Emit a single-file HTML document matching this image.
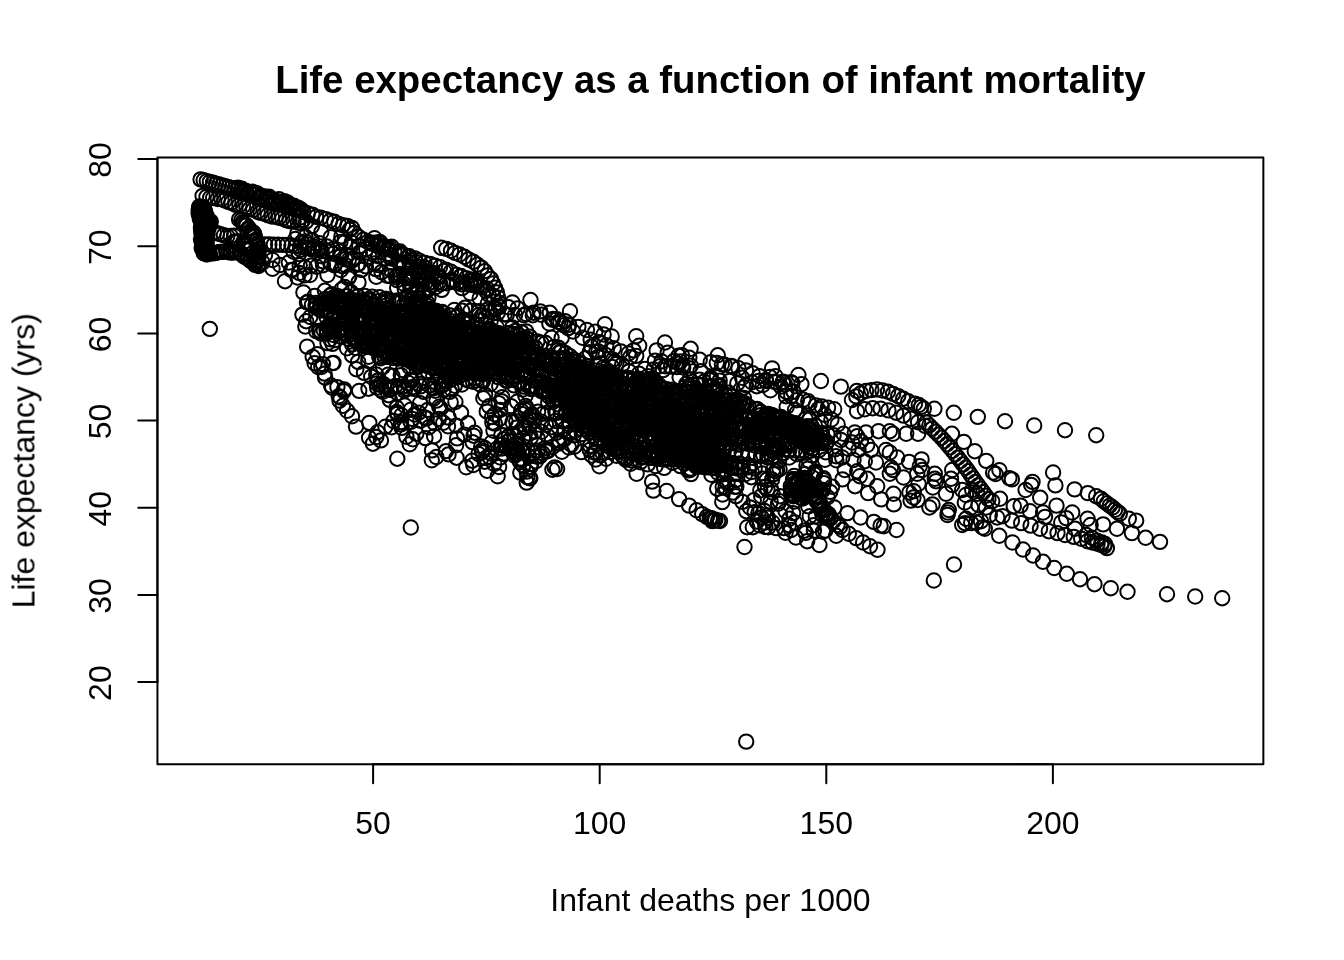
<!DOCTYPE html>
<html><head><meta charset="utf-8"><title>Life expectancy as a function of infant mortality</title>
<style>
html,body{margin:0;padding:0;background:#fff;}
body{width:1344px;height:960px;overflow:hidden;}
svg{display:block;}
text{font-family:"Liberation Sans",sans-serif;fill:#000;}
.ax{font-size:32px;}
.ti{font-size:38.4px;font-weight:bold;}
.ln{stroke:#000;stroke-width:2;fill:none;stroke-linecap:round;stroke-linejoin:round;}
.p circle{r:7.2px;}
</style></head>
<body>
<svg width="1344" height="960" viewBox="0 0 1344 960">
<rect x="0" y="0" width="1344" height="960" fill="#fff"/>
<g class="p" fill="none" stroke="#000" stroke-width="2">
<circle cx="209.8" cy="328.9" r="7.2"/><circle cx="410.8" cy="527.5" r="7.2"/><circle cx="744.5" cy="547.0" r="7.2"/><circle cx="1005.0" cy="421.2" r="7.2"/><circle cx="1034.2" cy="425.5" r="7.2"/><circle cx="1065.0" cy="430.2" r="7.2"/>
<circle cx="1096.2" cy="435.2" r="7.2"/><circle cx="1167.0" cy="594.2" r="7.2"/><circle cx="1195.2" cy="596.5" r="7.2"/><circle cx="1222.2" cy="598.2" r="7.2"/><circle cx="999.2" cy="535.8" r="7.2"/><circle cx="1012.5" cy="542.5" r="7.2"/>
<circle cx="1023.0" cy="549.5" r="7.2"/><circle cx="1033.0" cy="555.5" r="7.2"/><circle cx="1043.0" cy="561.8" r="7.2"/><circle cx="1054.2" cy="568.0" r="7.2"/><circle cx="1066.8" cy="573.8" r="7.2"/><circle cx="1080.0" cy="579.2" r="7.2"/>
<circle cx="1094.5" cy="584.2" r="7.2"/><circle cx="1110.8" cy="588.2" r="7.2"/><circle cx="1127.5" cy="591.8" r="7.2"/><circle cx="954.0" cy="564.5" r="7.2"/><circle cx="933.8" cy="580.5" r="7.2"/><circle cx="1053.1" cy="472.5" r="7.2"/>
<circle cx="1055.4" cy="485.4" r="7.2"/><circle cx="1074.6" cy="489.4" r="7.2"/><circle cx="1087.8" cy="493.1" r="7.2"/><circle cx="1096.2" cy="496.2" r="7.2"/><circle cx="1101.0" cy="498.8" r="7.2"/><circle cx="1103.8" cy="501.2" r="7.2"/>
<circle cx="1106.9" cy="503.5" r="7.2"/><circle cx="1109.8" cy="505.6" r="7.2"/><circle cx="1112.5" cy="507.5" r="7.2"/><circle cx="1115.0" cy="509.8" r="7.2"/><circle cx="1117.5" cy="511.9" r="7.2"/><circle cx="1119.8" cy="513.8" r="7.2"/>
<circle cx="1128.8" cy="518.8" r="7.2"/><circle cx="1136.2" cy="520.6" r="7.2"/><circle cx="1103.1" cy="524.4" r="7.2"/><circle cx="1116.9" cy="528.8" r="7.2"/><circle cx="1131.9" cy="533.1" r="7.2"/><circle cx="1145.6" cy="537.8" r="7.2"/>
<circle cx="1160.0" cy="541.9" r="7.2"/><circle cx="1011.9" cy="520.6" r="7.2"/><circle cx="1021.2" cy="523.1" r="7.2"/><circle cx="1030.6" cy="525.6" r="7.2"/><circle cx="1040.0" cy="528.8" r="7.2"/><circle cx="1048.8" cy="531.2" r="7.2"/>
<circle cx="1057.5" cy="533.1" r="7.2"/><circle cx="1065.0" cy="535.0" r="7.2"/><circle cx="1073.8" cy="536.9" r="7.2"/><circle cx="1081.2" cy="538.8" r="7.2"/><circle cx="1087.5" cy="541.2" r="7.2"/><circle cx="1092.5" cy="542.5" r="7.2"/>
<circle cx="1097.5" cy="543.8" r="7.2"/><circle cx="1101.2" cy="545.0" r="7.2"/><circle cx="1104.4" cy="546.2" r="7.2"/><circle cx="1106.9" cy="548.1" r="7.2"/><circle cx="1086.2" cy="535.0" r="7.2"/><circle cx="1091.9" cy="537.8" r="7.2"/>
<circle cx="1096.9" cy="540.6" r="7.2"/><circle cx="1101.9" cy="542.5" r="7.2"/><circle cx="1105.0" cy="544.0" r="7.2"/><circle cx="1011.9" cy="479.4" r="7.2"/><circle cx="1009.4" cy="478.1" r="7.2"/><circle cx="1032.5" cy="481.9" r="7.2"/>
<circle cx="1025.6" cy="490.0" r="7.2"/><circle cx="1040.2" cy="497.8" r="7.2"/><circle cx="1056.5" cy="505.6" r="7.2"/><circle cx="1072.2" cy="512.5" r="7.2"/><circle cx="1066.2" cy="518.1" r="7.2"/><circle cx="1087.5" cy="518.8" r="7.2"/>
<circle cx="1090.6" cy="525.0" r="7.2"/><circle cx="1013.8" cy="506.2" r="7.2"/><circle cx="1020.6" cy="505.6" r="7.2"/><circle cx="1030.0" cy="511.2" r="7.2"/><circle cx="1043.1" cy="512.5" r="7.2"/><circle cx="1045.0" cy="516.9" r="7.2"/>
<circle cx="1061.2" cy="522.5" r="7.2"/><circle cx="1075.0" cy="528.8" r="7.2"/><circle cx="1000.0" cy="498.8" r="7.2"/><circle cx="1002.5" cy="516.2" r="7.2"/><circle cx="847.5" cy="513.1" r="7.2"/><circle cx="860.6" cy="517.5" r="7.2"/>
<circle cx="873.8" cy="521.9" r="7.2"/><circle cx="880.6" cy="525.6" r="7.2"/><circle cx="883.8" cy="526.2" r="7.2"/><circle cx="896.5" cy="530.0" r="7.2"/><circle cx="840.0" cy="526.9" r="7.2"/><circle cx="842.5" cy="530.0" r="7.2"/>
<circle cx="848.8" cy="533.8" r="7.2"/><circle cx="856.2" cy="538.1" r="7.2"/><circle cx="863.1" cy="542.5" r="7.2"/><circle cx="870.0" cy="546.2" r="7.2"/><circle cx="877.5" cy="549.8" r="7.2"/><circle cx="842.5" cy="479.4" r="7.2"/>
<circle cx="855.0" cy="486.2" r="7.2"/><circle cx="868.1" cy="493.1" r="7.2"/><circle cx="881.2" cy="499.4" r="7.2"/><circle cx="893.8" cy="504.4" r="7.2"/><circle cx="910.6" cy="500.6" r="7.2"/><circle cx="917.5" cy="500.0" r="7.2"/>
<circle cx="909.4" cy="492.5" r="7.2"/><circle cx="913.8" cy="491.2" r="7.2"/><circle cx="929.4" cy="507.5" r="7.2"/><circle cx="932.5" cy="504.4" r="7.2"/><circle cx="947.5" cy="515.0" r="7.2"/><circle cx="948.8" cy="510.0" r="7.2"/>
<circle cx="965.0" cy="523.1" r="7.2"/><circle cx="971.2" cy="523.1" r="7.2"/><circle cx="976.2" cy="522.5" r="7.2"/><circle cx="982.5" cy="527.5" r="7.2"/><circle cx="934.4" cy="408.8" r="7.2"/><circle cx="953.8" cy="412.8" r="7.2"/>
<circle cx="977.8" cy="416.9" r="7.2"/><circle cx="951.9" cy="433.8" r="7.2"/><circle cx="963.8" cy="441.9" r="7.2"/><circle cx="974.8" cy="451.2" r="7.2"/><circle cx="986.2" cy="460.9" r="7.2"/><circle cx="993.1" cy="472.5" r="7.2"/>
<circle cx="995.6" cy="474.0" r="7.2"/><circle cx="999.4" cy="470.2" r="7.2"/><circle cx="1031.2" cy="485.0" r="7.2"/><circle cx="926.2" cy="422.5" r="7.2"/><circle cx="929.3" cy="425.5" r="7.2"/><circle cx="932.3" cy="428.6" r="7.2"/>
<circle cx="935.4" cy="431.6" r="7.2"/><circle cx="938.4" cy="434.7" r="7.2"/><circle cx="941.4" cy="437.7" r="7.2"/><circle cx="944.3" cy="441.0" r="7.2"/><circle cx="947.1" cy="444.2" r="7.2"/><circle cx="949.9" cy="447.4" r="7.2"/>
<circle cx="952.6" cy="450.8" r="7.2"/><circle cx="955.2" cy="454.2" r="7.2"/><circle cx="957.9" cy="457.6" r="7.2"/><circle cx="960.5" cy="461.0" r="7.2"/><circle cx="963.1" cy="464.4" r="7.2"/><circle cx="965.8" cy="467.8" r="7.2"/>
<circle cx="968.3" cy="471.2" r="7.2"/><circle cx="970.7" cy="474.8" r="7.2"/><circle cx="973.1" cy="478.4" r="7.2"/><circle cx="975.5" cy="481.9" r="7.2"/><circle cx="978.1" cy="485.4" r="7.2"/><circle cx="980.7" cy="488.8" r="7.2"/>
<circle cx="983.3" cy="492.3" r="7.2"/><circle cx="985.8" cy="495.7" r="7.2"/><circle cx="988.4" cy="499.1" r="7.2"/><circle cx="918.8" cy="405.0" r="7.2"/><circle cx="921.2" cy="406.9" r="7.2"/><circle cx="923.8" cy="408.8" r="7.2"/>
<circle cx="915.0" cy="403.8" r="7.2"/><circle cx="906.2" cy="433.8" r="7.2"/><circle cx="918.1" cy="433.8" r="7.2"/><circle cx="852.0" cy="400.0" r="7.2"/><circle cx="856.3" cy="396.4" r="7.2"/><circle cx="860.8" cy="393.2" r="7.2"/>
<circle cx="866.0" cy="391.0" r="7.2"/><circle cx="871.4" cy="390.1" r="7.2"/><circle cx="877.0" cy="389.5" r="7.2"/><circle cx="882.5" cy="390.5" r="7.2"/><circle cx="888.0" cy="391.7" r="7.2"/><circle cx="893.1" cy="393.9" r="7.2"/>
<circle cx="898.2" cy="396.1" r="7.2"/><circle cx="903.2" cy="398.7" r="7.2"/><circle cx="908.2" cy="401.3" r="7.2"/><circle cx="857.0" cy="411.2" r="7.2"/><circle cx="864.8" cy="409.3" r="7.2"/><circle cx="872.7" cy="408.3" r="7.2"/>
<circle cx="880.6" cy="408.7" r="7.2"/><circle cx="888.4" cy="410.4" r="7.2"/><circle cx="896.1" cy="412.7" r="7.2"/><circle cx="903.5" cy="415.6" r="7.2"/><circle cx="910.9" cy="418.8" r="7.2"/><circle cx="918.1" cy="422.2" r="7.2"/>
<circle cx="925.2" cy="425.9" r="7.2"/><circle cx="878.5" cy="431.2" r="7.2"/><circle cx="889.8" cy="431.2" r="7.2"/><circle cx="892.9" cy="433.8" r="7.2"/><circle cx="843.5" cy="433.8" r="7.2"/><circle cx="854.8" cy="432.5" r="7.2"/>
<circle cx="857.2" cy="436.2" r="7.2"/><circle cx="861.0" cy="441.2" r="7.2"/><circle cx="866.0" cy="432.5" r="7.2"/><circle cx="852.2" cy="442.5" r="7.2"/><circle cx="848.5" cy="448.8" r="7.2"/><circle cx="841.0" cy="440.0" r="7.2"/>
<circle cx="858.5" cy="450.0" r="7.2"/><circle cx="867.2" cy="445.0" r="7.2"/><circle cx="871.0" cy="450.0" r="7.2"/><circle cx="886.0" cy="450.0" r="7.2"/><circle cx="889.8" cy="452.5" r="7.2"/><circle cx="897.2" cy="457.5" r="7.2"/>
<circle cx="909.1" cy="461.9" r="7.2"/><circle cx="921.6" cy="459.4" r="7.2"/><circle cx="919.8" cy="466.2" r="7.2"/><circle cx="922.2" cy="470.0" r="7.2"/><circle cx="891.0" cy="467.5" r="7.2"/><circle cx="892.9" cy="470.0" r="7.2"/>
<circle cx="876.0" cy="462.5" r="7.2"/><circle cx="864.8" cy="461.2" r="7.2"/><circle cx="853.5" cy="460.0" r="7.2"/><circle cx="842.2" cy="457.5" r="7.2"/><circle cx="836.0" cy="456.2" r="7.2"/><circle cx="844.8" cy="470.0" r="7.2"/>
<circle cx="857.2" cy="471.2" r="7.2"/><circle cx="859.8" cy="476.2" r="7.2"/><circle cx="867.2" cy="478.8" r="7.2"/><circle cx="877.2" cy="486.2" r="7.2"/><circle cx="889.8" cy="473.8" r="7.2"/><circle cx="903.5" cy="477.5" r="7.2"/>
<circle cx="917.2" cy="473.8" r="7.2"/><circle cx="918.5" cy="483.8" r="7.2"/><circle cx="934.8" cy="473.8" r="7.2"/><circle cx="934.8" cy="478.8" r="7.2"/><circle cx="936.0" cy="481.2" r="7.2"/><circle cx="932.9" cy="487.5" r="7.2"/>
<circle cx="946.0" cy="493.8" r="7.2"/><circle cx="952.2" cy="470.0" r="7.2"/><circle cx="951.0" cy="478.8" r="7.2"/><circle cx="952.2" cy="485.0" r="7.2"/><circle cx="893.5" cy="493.8" r="7.2"/><circle cx="913.5" cy="497.5" r="7.2"/>
<circle cx="947.9" cy="512.5" r="7.2"/><circle cx="962.2" cy="490.0" r="7.2"/><circle cx="966.0" cy="495.0" r="7.2"/><circle cx="972.2" cy="490.0" r="7.2"/><circle cx="977.2" cy="493.8" r="7.2"/><circle cx="964.8" cy="502.5" r="7.2"/>
<circle cx="971.0" cy="507.5" r="7.2"/><circle cx="978.5" cy="505.0" r="7.2"/><circle cx="986.0" cy="507.5" r="7.2"/><circle cx="992.2" cy="501.2" r="7.2"/><circle cx="966.0" cy="518.8" r="7.2"/><circle cx="981.0" cy="521.2" r="7.2"/>
<circle cx="984.8" cy="528.8" r="7.2"/><circle cx="989.8" cy="515.0" r="7.2"/><circle cx="997.2" cy="517.5" r="7.2"/><circle cx="962.2" cy="525.0" r="7.2"/><circle cx="200.6" cy="179.4" r="7.2"/><circle cx="203.7" cy="180.2" r="7.2"/>
<circle cx="206.8" cy="181.1" r="7.2"/><circle cx="209.9" cy="181.9" r="7.2"/><circle cx="213.0" cy="182.8" r="7.2"/><circle cx="216.0" cy="183.6" r="7.2"/><circle cx="219.1" cy="184.5" r="7.2"/><circle cx="222.2" cy="185.4" r="7.2"/>
<circle cx="225.3" cy="186.2" r="7.2"/><circle cx="228.4" cy="187.1" r="7.2"/><circle cx="231.5" cy="187.9" r="7.2"/><circle cx="234.5" cy="188.8" r="7.2"/><circle cx="237.6" cy="189.6" r="7.2"/><circle cx="240.7" cy="190.5" r="7.2"/>
<circle cx="240.6" cy="190.7" r="7.2"/><circle cx="243.1" cy="191.5" r="7.2"/><circle cx="246.0" cy="190.9" r="7.2"/><circle cx="246.7" cy="193.4" r="7.2"/><circle cx="249.5" cy="192.6" r="7.2"/><circle cx="253.5" cy="193.9" r="7.2"/>
<circle cx="255.3" cy="194.5" r="7.2"/><circle cx="257.0" cy="194.4" r="7.2"/><circle cx="259.2" cy="196.8" r="7.2"/><circle cx="261.1" cy="197.2" r="7.2"/><circle cx="263.7" cy="196.2" r="7.2"/><circle cx="266.1" cy="198.1" r="7.2"/>
<circle cx="267.2" cy="197.4" r="7.2"/><circle cx="270.8" cy="199.2" r="7.2"/><circle cx="272.6" cy="200.8" r="7.2"/><circle cx="274.8" cy="201.5" r="7.2"/><circle cx="276.2" cy="201.9" r="7.2"/><circle cx="278.6" cy="202.9" r="7.2"/>
<circle cx="281.8" cy="201.6" r="7.2"/><circle cx="282.2" cy="202.5" r="7.2"/><circle cx="286.4" cy="203.7" r="7.2"/><circle cx="287.7" cy="204.3" r="7.2"/><circle cx="289.6" cy="205.4" r="7.2"/><circle cx="291.3" cy="206.7" r="7.2"/>
<circle cx="294.0" cy="208.4" r="7.2"/><circle cx="296.4" cy="209.3" r="7.2"/><circle cx="298.9" cy="210.3" r="7.2"/><circle cx="300.6" cy="209.2" r="7.2"/><circle cx="303.2" cy="212.0" r="7.2"/><circle cx="303.4" cy="211.6" r="7.2"/>
<circle cx="307.8" cy="213.5" r="7.2"/><circle cx="312.4" cy="214.6" r="7.2"/><circle cx="316.0" cy="216.9" r="7.2"/><circle cx="320.7" cy="217.6" r="7.2"/><circle cx="325.9" cy="219.3" r="7.2"/><circle cx="330.1" cy="220.7" r="7.2"/>
<circle cx="334.3" cy="221.7" r="7.2"/><circle cx="338.6" cy="224.0" r="7.2"/><circle cx="342.9" cy="225.3" r="7.2"/><circle cx="347.4" cy="225.9" r="7.2"/><circle cx="351.9" cy="227.9" r="7.2"/><circle cx="238.0" cy="187.6" r="7.2"/>
<circle cx="241.7" cy="188.7" r="7.2"/><circle cx="244.0" cy="190.4" r="7.2"/><circle cx="249.8" cy="192.6" r="7.2"/><circle cx="252.6" cy="191.8" r="7.2"/><circle cx="255.2" cy="192.9" r="7.2"/><circle cx="257.3" cy="193.4" r="7.2"/>
<circle cx="260.7" cy="196.8" r="7.2"/><circle cx="265.8" cy="197.4" r="7.2"/><circle cx="269.0" cy="196.6" r="7.2"/><circle cx="270.8" cy="198.8" r="7.2"/><circle cx="275.3" cy="200.5" r="7.2"/><circle cx="279.0" cy="199.1" r="7.2"/>
<circle cx="281.4" cy="201.9" r="7.2"/><circle cx="284.4" cy="201.3" r="7.2"/><circle cx="287.4" cy="202.4" r="7.2"/><circle cx="292.0" cy="206.0" r="7.2"/><circle cx="293.9" cy="205.7" r="7.2"/><circle cx="298.1" cy="207.8" r="7.2"/>
<circle cx="301.2" cy="210.0" r="7.2"/><circle cx="202.6" cy="195.9" r="7.2"/><circle cx="206.5" cy="196.9" r="7.2"/><circle cx="210.2" cy="197.7" r="7.2"/><circle cx="213.2" cy="198.0" r="7.2"/><circle cx="217.8" cy="199.0" r="7.2"/>
<circle cx="221.5" cy="199.3" r="7.2"/><circle cx="224.7" cy="200.5" r="7.2"/><circle cx="228.4" cy="202.0" r="7.2"/><circle cx="231.5" cy="202.8" r="7.2"/><circle cx="235.3" cy="204.7" r="7.2"/><circle cx="239.4" cy="205.1" r="7.2"/>
<circle cx="243.1" cy="206.2" r="7.2"/><circle cx="246.5" cy="207.4" r="7.2"/><circle cx="249.5" cy="209.3" r="7.2"/><circle cx="253.3" cy="209.8" r="7.2"/><circle cx="257.7" cy="211.7" r="7.2"/><circle cx="260.6" cy="212.9" r="7.2"/>
<circle cx="264.5" cy="213.8" r="7.2"/><circle cx="267.8" cy="215.3" r="7.2"/><circle cx="271.9" cy="216.5" r="7.2"/><circle cx="275.7" cy="216.8" r="7.2"/><circle cx="278.9" cy="217.7" r="7.2"/><circle cx="282.3" cy="218.5" r="7.2"/>
<circle cx="286.2" cy="220.1" r="7.2"/><circle cx="289.5" cy="221.1" r="7.2"/><circle cx="293.6" cy="221.6" r="7.2"/><circle cx="297.8" cy="222.5" r="7.2"/><circle cx="301.0" cy="223.2" r="7.2"/><circle cx="205.7" cy="228.0" r="7.2"/>
<circle cx="204.0" cy="250.4" r="7.2"/><circle cx="205.7" cy="230.6" r="7.2"/><circle cx="202.7" cy="215.3" r="7.2"/><circle cx="206.2" cy="236.4" r="7.2"/><circle cx="200.5" cy="211.0" r="7.2"/><circle cx="203.8" cy="210.8" r="7.2"/>
<circle cx="201.0" cy="239.4" r="7.2"/><circle cx="206.5" cy="253.2" r="7.2"/><circle cx="204.8" cy="237.6" r="7.2"/><circle cx="198.8" cy="214.0" r="7.2"/><circle cx="201.2" cy="231.6" r="7.2"/><circle cx="200.8" cy="215.5" r="7.2"/>
<circle cx="201.0" cy="207.9" r="7.2"/><circle cx="208.3" cy="227.4" r="7.2"/><circle cx="206.0" cy="231.2" r="7.2"/><circle cx="206.3" cy="230.2" r="7.2"/><circle cx="203.2" cy="228.2" r="7.2"/><circle cx="206.6" cy="253.9" r="7.2"/>
<circle cx="205.1" cy="246.4" r="7.2"/><circle cx="202.8" cy="221.5" r="7.2"/><circle cx="200.8" cy="220.2" r="7.2"/><circle cx="203.3" cy="242.9" r="7.2"/><circle cx="203.5" cy="246.7" r="7.2"/><circle cx="205.9" cy="252.0" r="7.2"/>
<circle cx="199.4" cy="206.5" r="7.2"/><circle cx="204.0" cy="249.7" r="7.2"/><circle cx="203.9" cy="253.1" r="7.2"/><circle cx="202.4" cy="210.0" r="7.2"/><circle cx="202.6" cy="243.5" r="7.2"/><circle cx="200.6" cy="210.6" r="7.2"/>
<circle cx="205.5" cy="252.3" r="7.2"/><circle cx="200.3" cy="212.1" r="7.2"/><circle cx="198.9" cy="211.3" r="7.2"/><circle cx="202.2" cy="244.4" r="7.2"/><circle cx="204.2" cy="233.1" r="7.2"/><circle cx="204.6" cy="215.6" r="7.2"/>
<circle cx="203.1" cy="212.7" r="7.2"/><circle cx="201.4" cy="212.0" r="7.2"/><circle cx="201.4" cy="216.6" r="7.2"/><circle cx="205.7" cy="252.6" r="7.2"/><circle cx="209.5" cy="220.9" r="7.2"/><circle cx="202.4" cy="216.5" r="7.2"/>
<circle cx="204.8" cy="247.1" r="7.2"/><circle cx="205.1" cy="211.3" r="7.2"/><circle cx="201.3" cy="216.6" r="7.2"/><circle cx="202.9" cy="243.2" r="7.2"/><circle cx="200.9" cy="220.6" r="7.2"/><circle cx="202.3" cy="210.8" r="7.2"/>
<circle cx="204.9" cy="218.0" r="7.2"/><circle cx="205.0" cy="224.2" r="7.2"/><circle cx="204.2" cy="252.1" r="7.2"/><circle cx="207.3" cy="233.8" r="7.2"/><circle cx="200.0" cy="215.2" r="7.2"/><circle cx="205.8" cy="249.7" r="7.2"/>
<circle cx="201.4" cy="218.4" r="7.2"/><circle cx="206.4" cy="241.6" r="7.2"/><circle cx="206.5" cy="215.8" r="7.2"/><circle cx="204.7" cy="248.4" r="7.2"/><circle cx="201.6" cy="226.5" r="7.2"/><circle cx="204.1" cy="208.3" r="7.2"/>
<circle cx="205.7" cy="217.8" r="7.2"/><circle cx="207.4" cy="218.7" r="7.2"/><circle cx="202.9" cy="234.8" r="7.2"/><circle cx="204.1" cy="214.8" r="7.2"/><circle cx="199.9" cy="209.8" r="7.2"/><circle cx="207.3" cy="233.1" r="7.2"/>
<circle cx="202.7" cy="235.7" r="7.2"/><circle cx="202.7" cy="250.1" r="7.2"/><circle cx="199.8" cy="207.3" r="7.2"/><circle cx="201.2" cy="227.7" r="7.2"/><circle cx="201.5" cy="214.9" r="7.2"/><circle cx="201.7" cy="233.7" r="7.2"/>
<circle cx="209.3" cy="223.7" r="7.2"/><circle cx="205.1" cy="253.1" r="7.2"/><circle cx="204.4" cy="239.3" r="7.2"/><circle cx="198.9" cy="213.2" r="7.2"/><circle cx="203.5" cy="207.3" r="7.2"/><circle cx="206.6" cy="239.8" r="7.2"/>
<circle cx="202.0" cy="207.5" r="7.2"/><circle cx="207.0" cy="229.4" r="7.2"/><circle cx="210.8" cy="221.6" r="7.2"/><circle cx="201.9" cy="210.1" r="7.2"/><circle cx="206.2" cy="241.5" r="7.2"/><circle cx="205.0" cy="241.5" r="7.2"/>
<circle cx="206.2" cy="244.2" r="7.2"/><circle cx="207.3" cy="223.2" r="7.2"/><circle cx="206.0" cy="249.3" r="7.2"/><circle cx="208.0" cy="226.3" r="7.2"/><circle cx="204.5" cy="247.5" r="7.2"/><circle cx="203.4" cy="236.2" r="7.2"/>
<circle cx="205.3" cy="234.2" r="7.2"/><circle cx="202.6" cy="210.3" r="7.2"/><circle cx="206.1" cy="253.7" r="7.2"/><circle cx="203.1" cy="241.1" r="7.2"/><circle cx="204.3" cy="241.4" r="7.2"/><circle cx="208.3" cy="227.4" r="7.2"/>
<circle cx="203.3" cy="210.5" r="7.2"/><circle cx="201.8" cy="207.9" r="7.2"/><circle cx="202.7" cy="229.3" r="7.2"/><circle cx="203.8" cy="239.7" r="7.2"/><circle cx="207.3" cy="235.7" r="7.2"/><circle cx="199.8" cy="218.7" r="7.2"/>
<circle cx="207.2" cy="220.8" r="7.2"/><circle cx="200.4" cy="216.1" r="7.2"/><circle cx="205.0" cy="249.5" r="7.2"/><circle cx="208.7" cy="227.5" r="7.2"/><circle cx="207.3" cy="222.0" r="7.2"/><circle cx="202.4" cy="215.9" r="7.2"/>
<circle cx="206.2" cy="244.8" r="7.2"/><circle cx="203.5" cy="248.3" r="7.2"/><circle cx="203.1" cy="234.2" r="7.2"/><circle cx="202.1" cy="213.0" r="7.2"/><circle cx="205.9" cy="246.3" r="7.2"/><circle cx="206.4" cy="240.3" r="7.2"/>
<circle cx="201.6" cy="219.6" r="7.2"/><circle cx="203.1" cy="227.9" r="7.2"/><circle cx="202.6" cy="216.7" r="7.2"/><circle cx="204.2" cy="236.2" r="7.2"/><circle cx="209.2" cy="221.5" r="7.2"/><circle cx="204.1" cy="253.1" r="7.2"/>
<circle cx="198.7" cy="210.0" r="7.2"/><circle cx="201.7" cy="248.0" r="7.2"/><circle cx="204.2" cy="240.2" r="7.2"/><circle cx="208.6" cy="221.2" r="7.2"/><circle cx="199.1" cy="207.4" r="7.2"/><circle cx="200.9" cy="228.1" r="7.2"/>
<circle cx="202.6" cy="245.9" r="7.2"/><circle cx="199.0" cy="213.2" r="7.2"/><circle cx="203.8" cy="236.4" r="7.2"/><circle cx="205.3" cy="236.4" r="7.2"/><circle cx="206.5" cy="244.9" r="7.2"/><circle cx="202.0" cy="239.0" r="7.2"/>
<circle cx="202.3" cy="229.1" r="7.2"/><circle cx="200.9" cy="207.0" r="7.2"/><circle cx="201.9" cy="240.4" r="7.2"/><circle cx="203.2" cy="219.4" r="7.2"/><circle cx="203.9" cy="239.6" r="7.2"/><circle cx="206.1" cy="235.7" r="7.2"/>
<circle cx="208.1" cy="225.2" r="7.2"/><circle cx="206.7" cy="254.5" r="7.2"/><circle cx="208.4" cy="253.3" r="7.2"/><circle cx="209.8" cy="253.6" r="7.2"/><circle cx="212.7" cy="253.4" r="7.2"/><circle cx="214.7" cy="253.1" r="7.2"/>
<circle cx="216.8" cy="252.8" r="7.2"/><circle cx="219.7" cy="251.9" r="7.2"/><circle cx="221.5" cy="251.9" r="7.2"/><circle cx="223.2" cy="251.7" r="7.2"/><circle cx="226.3" cy="251.4" r="7.2"/><circle cx="228.5" cy="252.2" r="7.2"/>
<circle cx="230.8" cy="251.8" r="7.2"/><circle cx="231.8" cy="252.7" r="7.2"/><circle cx="235.1" cy="252.3" r="7.2"/><circle cx="236.2" cy="252.0" r="7.2"/><circle cx="239.2" cy="252.3" r="7.2"/><circle cx="241.7" cy="253.6" r="7.2"/>
<circle cx="242.3" cy="255.0" r="7.2"/><circle cx="244.3" cy="256.7" r="7.2"/><circle cx="247.0" cy="257.4" r="7.2"/><circle cx="248.3" cy="258.9" r="7.2"/><circle cx="250.4" cy="260.7" r="7.2"/><circle cx="251.0" cy="260.9" r="7.2"/>
<circle cx="253.8" cy="261.9" r="7.2"/><circle cx="255.6" cy="262.8" r="7.2"/><circle cx="258.0" cy="264.6" r="7.2"/><circle cx="258.6" cy="266.0" r="7.2"/><circle cx="213.8" cy="232.5" r="7.2"/><circle cx="217.1" cy="233.3" r="7.2"/>
<circle cx="220.5" cy="234.2" r="7.2"/><circle cx="223.9" cy="235.2" r="7.2"/><circle cx="227.3" cy="236.2" r="7.2"/><circle cx="230.7" cy="236.0" r="7.2"/><circle cx="234.2" cy="235.7" r="7.2"/><circle cx="239.1" cy="219.4" r="7.2"/>
<circle cx="241.2" cy="220.5" r="7.2"/><circle cx="242.6" cy="222.2" r="7.2"/><circle cx="243.4" cy="223.7" r="7.2"/><circle cx="245.0" cy="224.8" r="7.2"/><circle cx="246.6" cy="225.4" r="7.2"/><circle cx="248.5" cy="228.1" r="7.2"/>
<circle cx="249.2" cy="228.7" r="7.2"/><circle cx="251.3" cy="231.5" r="7.2"/><circle cx="252.5" cy="232.1" r="7.2"/><circle cx="254.0" cy="233.3" r="7.2"/><circle cx="254.7" cy="235.5" r="7.2"/><circle cx="254.5" cy="237.0" r="7.2"/>
<circle cx="255.7" cy="239.9" r="7.2"/><circle cx="256.1" cy="241.5" r="7.2"/><circle cx="257.3" cy="243.1" r="7.2"/><circle cx="257.6" cy="244.5" r="7.2"/><circle cx="257.3" cy="246.7" r="7.2"/><circle cx="258.8" cy="249.0" r="7.2"/>
<circle cx="258.3" cy="251.2" r="7.2"/><circle cx="258.2" cy="252.7" r="7.2"/><circle cx="258.5" cy="255.3" r="7.2"/><circle cx="257.3" cy="257.1" r="7.2"/><circle cx="257.5" cy="259.5" r="7.2"/><circle cx="257.0" cy="260.5" r="7.2"/>
<circle cx="256.7" cy="262.1" r="7.2"/><circle cx="255.1" cy="264.9" r="7.2"/><circle cx="233.9" cy="241.8" r="7.2"/><circle cx="235.7" cy="241.9" r="7.2"/><circle cx="237.8" cy="241.2" r="7.2"/><circle cx="243.7" cy="242.2" r="7.2"/>
<circle cx="244.5" cy="244.3" r="7.2"/><circle cx="245.7" cy="245.9" r="7.2"/><circle cx="246.5" cy="249.0" r="7.2"/><circle cx="247.8" cy="248.4" r="7.2"/><circle cx="249.3" cy="250.3" r="7.2"/><circle cx="265.0" cy="244.4" r="7.2"/>
<circle cx="269.4" cy="244.5" r="7.2"/><circle cx="273.8" cy="244.6" r="7.2"/><circle cx="278.2" cy="244.7" r="7.2"/><circle cx="282.6" cy="244.9" r="7.2"/><circle cx="287.0" cy="245.0" r="7.2"/><circle cx="291.4" cy="245.5" r="7.2"/>
<circle cx="295.7" cy="246.1" r="7.2"/><circle cx="300.1" cy="246.7" r="7.2"/><circle cx="304.4" cy="247.2" r="7.2"/><circle cx="308.8" cy="247.8" r="7.2"/><circle cx="313.1" cy="248.6" r="7.2"/><circle cx="317.4" cy="249.8" r="7.2"/>
<circle cx="321.6" cy="251.0" r="7.2"/><circle cx="272.5" cy="260.0" r="7.2"/><circle cx="280.0" cy="265.0" r="7.2"/><circle cx="288.8" cy="262.5" r="7.2"/><circle cx="291.2" cy="270.0" r="7.2"/><circle cx="285.0" cy="281.2" r="7.2"/>
<circle cx="297.5" cy="277.5" r="7.2"/><circle cx="305.0" cy="267.5" r="7.2"/><circle cx="310.0" cy="275.0" r="7.2"/><circle cx="322.5" cy="261.2" r="7.2"/><circle cx="327.5" cy="275.0" r="7.2"/><circle cx="335.0" cy="263.8" r="7.2"/>
<circle cx="342.5" cy="266.2" r="7.2"/><circle cx="348.8" cy="260.0" r="7.2"/><circle cx="265.0" cy="255.0" r="7.2"/><circle cx="272.5" cy="268.8" r="7.2"/><circle cx="262.5" cy="262.5" r="7.2"/><circle cx="746.2" cy="741.6" r="7.2"/>
<circle cx="349.6" cy="229.7" r="7.2"/><circle cx="354.5" cy="232.9" r="7.2"/><circle cx="358.3" cy="236.6" r="7.2"/><circle cx="363.4" cy="239.7" r="7.2"/><circle cx="367.8" cy="241.9" r="7.2"/><circle cx="372.4" cy="243.9" r="7.2"/>
<circle cx="378.3" cy="245.3" r="7.2"/><circle cx="383.7" cy="247.4" r="7.2"/><circle cx="388.2" cy="248.9" r="7.2"/><circle cx="394.3" cy="251.6" r="7.2"/><circle cx="399.4" cy="253.3" r="7.2"/><circle cx="403.6" cy="254.7" r="7.2"/>
<circle cx="409.3" cy="256.3" r="7.2"/><circle cx="415.0" cy="258.4" r="7.2"/><circle cx="419.3" cy="260.7" r="7.2"/><circle cx="424.5" cy="262.6" r="7.2"/><circle cx="430.1" cy="263.9" r="7.2"/><circle cx="435.1" cy="265.6" r="7.2"/>
<circle cx="440.0" cy="267.2" r="7.2"/><circle cx="445.9" cy="269.6" r="7.2"/><circle cx="450.9" cy="271.7" r="7.2"/><circle cx="456.2" cy="274.7" r="7.2"/><circle cx="461.1" cy="276.4" r="7.2"/><circle cx="466.1" cy="278.1" r="7.2"/>
<circle cx="470.7" cy="279.5" r="7.2"/><circle cx="476.8" cy="280.9" r="7.2"/><circle cx="341.4" cy="236.4" r="7.2"/><circle cx="344.8" cy="242.1" r="7.2"/><circle cx="351.6" cy="242.6" r="7.2"/><circle cx="359.2" cy="246.4" r="7.2"/>
<circle cx="366.2" cy="249.2" r="7.2"/><circle cx="373.0" cy="252.0" r="7.2"/><circle cx="378.4" cy="256.3" r="7.2"/><circle cx="385.2" cy="258.7" r="7.2"/><circle cx="391.9" cy="258.6" r="7.2"/><circle cx="399.0" cy="262.4" r="7.2"/>
<circle cx="403.9" cy="263.5" r="7.2"/><circle cx="412.2" cy="266.9" r="7.2"/><circle cx="419.1" cy="269.7" r="7.2"/><circle cx="425.8" cy="271.3" r="7.2"/><circle cx="431.6" cy="273.6" r="7.2"/><circle cx="437.0" cy="276.9" r="7.2"/>
<circle cx="341.1" cy="255.4" r="7.2"/><circle cx="345.3" cy="259.2" r="7.2"/><circle cx="352.3" cy="260.5" r="7.2"/><circle cx="358.6" cy="263.9" r="7.2"/><circle cx="365.9" cy="266.4" r="7.2"/><circle cx="375.9" cy="269.1" r="7.2"/>
<circle cx="381.5" cy="272.1" r="7.2"/><circle cx="391.4" cy="270.7" r="7.2"/><circle cx="396.1" cy="277.3" r="7.2"/><circle cx="404.4" cy="277.1" r="7.2"/><circle cx="409.3" cy="282.0" r="7.2"/><circle cx="441.2" cy="247.8" r="7.2"/>
<circle cx="446.3" cy="248.9" r="7.2"/><circle cx="451.0" cy="250.8" r="7.2"/><circle cx="455.0" cy="252.9" r="7.2"/><circle cx="459.7" cy="254.5" r="7.2"/><circle cx="464.4" cy="256.8" r="7.2"/><circle cx="468.5" cy="259.4" r="7.2"/>
<circle cx="473.3" cy="261.8" r="7.2"/><circle cx="477.4" cy="264.7" r="7.2"/><circle cx="481.3" cy="267.6" r="7.2"/><circle cx="484.7" cy="271.1" r="7.2"/><circle cx="487.4" cy="275.5" r="7.2"/><circle cx="490.8" cy="278.9" r="7.2"/>
<circle cx="493.1" cy="283.5" r="7.2"/><circle cx="495.0" cy="287.8" r="7.2"/><circle cx="496.9" cy="292.4" r="7.2"/><circle cx="498.2" cy="297.6" r="7.2"/><circle cx="498.8" cy="302.8" r="7.2"/><circle cx="499.3" cy="307.2" r="7.2"/>
<circle cx="439.2" cy="281.9" r="7.2"/><circle cx="442.7" cy="282.8" r="7.2"/><circle cx="446.9" cy="283.3" r="7.2"/><circle cx="452.8" cy="281.9" r="7.2"/><circle cx="457.1" cy="283.0" r="7.2"/><circle cx="461.5" cy="284.3" r="7.2"/>
<circle cx="466.7" cy="283.7" r="7.2"/><circle cx="470.9" cy="284.9" r="7.2"/><circle cx="475.6" cy="283.9" r="7.2"/><circle cx="512.5" cy="302.5" r="7.2"/><circle cx="530.5" cy="300.0" r="7.2"/><circle cx="570.0" cy="311.2" r="7.2"/>
<circle cx="605.0" cy="324.2" r="7.2"/><circle cx="636.2" cy="336.2" r="7.2"/><circle cx="665.0" cy="342.5" r="7.2"/><circle cx="636.6" cy="473.8" r="7.2"/><circle cx="652.1" cy="481.6" r="7.2"/><circle cx="653.4" cy="490.6" r="7.2"/>
<circle cx="666.6" cy="491.0" r="7.2"/><circle cx="679.1" cy="499.1" r="7.2"/><circle cx="689.1" cy="505.6" r="7.2"/><circle cx="696.6" cy="510.3" r="7.2"/><circle cx="702.2" cy="514.1" r="7.2"/><circle cx="706.9" cy="516.9" r="7.2"/>
<circle cx="711.6" cy="518.8" r="7.2"/><circle cx="715.3" cy="519.7" r="7.2"/><circle cx="718.1" cy="520.6" r="7.2"/><circle cx="720.0" cy="521.0" r="7.2"/><circle cx="709.8" cy="518.3" r="7.2"/><circle cx="714.1" cy="520.8" r="7.2"/>
<circle cx="711.2" cy="518.3" r="7.2"/><circle cx="712.3" cy="521.1" r="7.2"/><circle cx="804.5" cy="495.3" r="7.2"/><circle cx="797.9" cy="482.4" r="7.2"/><circle cx="793.5" cy="484.1" r="7.2"/><circle cx="791.0" cy="493.3" r="7.2"/>
<circle cx="800.3" cy="486.7" r="7.2"/><circle cx="804.9" cy="483.0" r="7.2"/><circle cx="801.1" cy="492.8" r="7.2"/><circle cx="793.1" cy="496.2" r="7.2"/><circle cx="800.5" cy="491.4" r="7.2"/><circle cx="793.5" cy="481.0" r="7.2"/>
<circle cx="808.1" cy="482.4" r="7.2"/><circle cx="797.1" cy="490.2" r="7.2"/><circle cx="804.6" cy="474.1" r="7.2"/><circle cx="807.7" cy="488.2" r="7.2"/><circle cx="804.7" cy="478.0" r="7.2"/><circle cx="801.2" cy="498.0" r="7.2"/>
<circle cx="799.0" cy="480.8" r="7.2"/><circle cx="797.0" cy="481.6" r="7.2"/><circle cx="804.5" cy="487.9" r="7.2"/><circle cx="796.6" cy="492.9" r="7.2"/><circle cx="794.1" cy="476.0" r="7.2"/><circle cx="809.1" cy="482.7" r="7.2"/>
<circle cx="808.2" cy="485.5" r="7.2"/><circle cx="798.3" cy="490.6" r="7.2"/><circle cx="794.5" cy="479.2" r="7.2"/><circle cx="798.4" cy="483.0" r="7.2"/><circle cx="802.8" cy="498.5" r="7.2"/><circle cx="793.0" cy="479.3" r="7.2"/>
<circle cx="804.3" cy="490.6" r="7.2"/><circle cx="806.0" cy="480.2" r="7.2"/><circle cx="803.3" cy="485.7" r="7.2"/><circle cx="791.1" cy="489.4" r="7.2"/><circle cx="791.3" cy="490.1" r="7.2"/><circle cx="796.9" cy="484.5" r="7.2"/>
<circle cx="807.5" cy="494.1" r="7.2"/><circle cx="802.2" cy="489.6" r="7.2"/><circle cx="795.3" cy="495.8" r="7.2"/><circle cx="803.4" cy="478.9" r="7.2"/><circle cx="790.8" cy="486.1" r="7.2"/><circle cx="798.5" cy="493.6" r="7.2"/>
<circle cx="793.7" cy="479.1" r="7.2"/><circle cx="802.1" cy="486.9" r="7.2"/><circle cx="815.2" cy="496.0" r="7.2"/><circle cx="818.3" cy="501.0" r="7.2"/><circle cx="821.3" cy="505.2" r="7.2"/><circle cx="823.7" cy="509.4" r="7.2"/>
<circle cx="827.4" cy="513.6" r="7.2"/><circle cx="830.7" cy="518.1" r="7.2"/><circle cx="833.5" cy="521.2" r="7.2"/><circle cx="837.5" cy="525.0" r="7.2"/><circle cx="813.0" cy="494.8" r="7.2"/><circle cx="815.3" cy="496.5" r="7.2"/>
<circle cx="816.4" cy="501.1" r="7.2"/><circle cx="818.7" cy="501.8" r="7.2"/><circle cx="819.6" cy="505.9" r="7.2"/><circle cx="820.8" cy="509.7" r="7.2"/><circle cx="822.5" cy="510.8" r="7.2"/><circle cx="825.6" cy="514.0" r="7.2"/>
<circle cx="825.8" cy="515.4" r="7.2"/><circle cx="828.5" cy="517.1" r="7.2"/><circle cx="834.4" cy="507.5" r="7.2"/><circle cx="747.2" cy="527.2" r="7.2"/><circle cx="752.8" cy="527.2" r="7.2"/><circle cx="759.4" cy="525.3" r="7.2"/>
<circle cx="765.0" cy="522.5" r="7.2"/><circle cx="776.2" cy="528.1" r="7.2"/><circle cx="785.6" cy="532.8" r="7.2"/><circle cx="795.9" cy="537.5" r="7.2"/><circle cx="807.2" cy="541.2" r="7.2"/><circle cx="819.4" cy="545.0" r="7.2"/>
<circle cx="727.5" cy="483.1" r="7.2"/><circle cx="733.1" cy="492.5" r="7.2"/><circle cx="735.9" cy="496.2" r="7.2"/><circle cx="742.5" cy="501.9" r="7.2"/><circle cx="750.0" cy="507.5" r="7.2"/><circle cx="754.7" cy="512.2" r="7.2"/>
<circle cx="758.4" cy="513.1" r="7.2"/><circle cx="767.8" cy="517.8" r="7.2"/><circle cx="772.5" cy="522.5" r="7.2"/><circle cx="780.0" cy="515.0" r="7.2"/><circle cx="785.6" cy="511.2" r="7.2"/><circle cx="789.4" cy="518.8" r="7.2"/>
<circle cx="793.1" cy="513.1" r="7.2"/><circle cx="795.0" cy="522.5" r="7.2"/><circle cx="783.8" cy="528.1" r="7.2"/><circle cx="791.2" cy="530.0" r="7.2"/><circle cx="770.6" cy="501.9" r="7.2"/><circle cx="778.1" cy="503.8" r="7.2"/>
<circle cx="761.2" cy="496.2" r="7.2"/><circle cx="765.0" cy="486.9" r="7.2"/><circle cx="772.5" cy="492.5" r="7.2"/><circle cx="780.0" cy="496.2" r="7.2"/><circle cx="690.6" cy="348.8" r="7.2"/><circle cx="717.8" cy="355.3" r="7.2"/>
<circle cx="745.3" cy="361.9" r="7.2"/><circle cx="772.1" cy="368.4" r="7.2"/><circle cx="798.4" cy="375.0" r="7.2"/><circle cx="820.9" cy="381.0" r="7.2"/><circle cx="840.9" cy="386.6" r="7.2"/><circle cx="856.9" cy="390.9" r="7.2"/>
<circle cx="370.8" cy="242.4" r="7.2"/><circle cx="520.3" cy="472.6" r="7.2"/><circle cx="527.3" cy="477.1" r="7.2"/><circle cx="625.6" cy="377.7" r="7.2"/><circle cx="628.6" cy="378.7" r="7.2"/><circle cx="632.3" cy="380.3" r="7.2"/>
<circle cx="636.3" cy="382.1" r="7.2"/><circle cx="374.4" cy="263.4" r="7.2"/><circle cx="378.5" cy="265.1" r="7.2"/><circle cx="812.4" cy="448.6" r="7.2"/><circle cx="819.0" cy="450.1" r="7.2"/><circle cx="352.0" cy="416.3" r="7.2"/>
<circle cx="347.2" cy="410.8" r="7.2"/><circle cx="342.9" cy="405.8" r="7.2"/><circle cx="339.5" cy="400.6" r="7.2"/><circle cx="587.7" cy="381.0" r="7.2"/><circle cx="582.7" cy="375.6" r="7.2"/><circle cx="576.9" cy="370.0" r="7.2"/>
<circle cx="571.1" cy="363.7" r="7.2"/><circle cx="564.9" cy="357.8" r="7.2"/><circle cx="559.0" cy="352.6" r="7.2"/><circle cx="554.0" cy="347.0" r="7.2"/><circle cx="415.9" cy="270.8" r="7.2"/><circle cx="427.8" cy="273.2" r="7.2"/>
<circle cx="439.6" cy="276.7" r="7.2"/><circle cx="451.5" cy="279.9" r="7.2"/><circle cx="463.0" cy="282.4" r="7.2"/><circle cx="474.9" cy="285.0" r="7.2"/><circle cx="486.9" cy="288.5" r="7.2"/><circle cx="809.0" cy="460.9" r="7.2"/>
<circle cx="369.3" cy="422.9" r="7.2"/><circle cx="326.6" cy="317.2" r="7.2"/><circle cx="332.6" cy="317.8" r="7.2"/><circle cx="338.7" cy="319.0" r="7.2"/><circle cx="345.3" cy="320.1" r="7.2"/><circle cx="352.0" cy="319.8" r="7.2"/>
<circle cx="358.0" cy="319.7" r="7.2"/><circle cx="363.9" cy="319.1" r="7.2"/><circle cx="370.2" cy="318.5" r="7.2"/><circle cx="375.8" cy="317.4" r="7.2"/><circle cx="381.2" cy="316.7" r="7.2"/><circle cx="387.8" cy="315.6" r="7.2"/>
<circle cx="393.5" cy="313.8" r="7.2"/><circle cx="380.9" cy="440.4" r="7.2"/><circle cx="372.9" cy="443.7" r="7.2"/><circle cx="542.4" cy="453.1" r="7.2"/><circle cx="532.9" cy="452.9" r="7.2"/><circle cx="522.4" cy="452.5" r="7.2"/>
<circle cx="450.3" cy="380.0" r="7.2"/><circle cx="639.2" cy="345.7" r="7.2"/><circle cx="316.7" cy="266.7" r="7.2"/><circle cx="461.0" cy="328.4" r="7.2"/><circle cx="457.6" cy="327.0" r="7.2"/><circle cx="453.9" cy="325.6" r="7.2"/>
<circle cx="450.4" cy="323.9" r="7.2"/><circle cx="446.4" cy="322.4" r="7.2"/><circle cx="442.9" cy="321.1" r="7.2"/><circle cx="364.7" cy="329.9" r="7.2"/><circle cx="358.3" cy="329.2" r="7.2"/><circle cx="352.4" cy="329.9" r="7.2"/>
<circle cx="346.1" cy="330.5" r="7.2"/><circle cx="340.0" cy="330.7" r="7.2"/><circle cx="334.1" cy="331.4" r="7.2"/><circle cx="327.2" cy="332.5" r="7.2"/><circle cx="321.4" cy="333.6" r="7.2"/><circle cx="561.7" cy="337.7" r="7.2"/>
<circle cx="551.5" cy="337.8" r="7.2"/><circle cx="447.9" cy="367.7" r="7.2"/><circle cx="445.1" cy="363.8" r="7.2"/><circle cx="442.5" cy="361.2" r="7.2"/><circle cx="440.5" cy="357.8" r="7.2"/><circle cx="438.4" cy="355.2" r="7.2"/>
<circle cx="435.1" cy="351.4" r="7.2"/><circle cx="432.7" cy="347.9" r="7.2"/><circle cx="429.7" cy="345.0" r="7.2"/><circle cx="427.0" cy="341.6" r="7.2"/><circle cx="423.6" cy="338.3" r="7.2"/><circle cx="519.2" cy="335.4" r="7.2"/>
<circle cx="516.9" cy="334.2" r="7.2"/><circle cx="513.3" cy="333.9" r="7.2"/><circle cx="510.0" cy="333.0" r="7.2"/><circle cx="506.8" cy="333.4" r="7.2"/><circle cx="516.3" cy="421.4" r="7.2"/><circle cx="434.1" cy="436.2" r="7.2"/>
<circle cx="428.9" cy="427.3" r="7.2"/><circle cx="424.5" cy="417.4" r="7.2"/><circle cx="341.5" cy="323.1" r="7.2"/><circle cx="337.0" cy="321.3" r="7.2"/><circle cx="331.9" cy="319.7" r="7.2"/><circle cx="427.7" cy="343.9" r="7.2"/>
<circle cx="419.8" cy="341.9" r="7.2"/><circle cx="412.5" cy="340.1" r="7.2"/><circle cx="404.8" cy="337.2" r="7.2"/><circle cx="580.2" cy="368.5" r="7.2"/><circle cx="639.4" cy="451.5" r="7.2"/><circle cx="815.6" cy="432.0" r="7.2"/>
<circle cx="821.9" cy="433.0" r="7.2"/><circle cx="827.3" cy="434.2" r="7.2"/><circle cx="833.6" cy="435.3" r="7.2"/><circle cx="476.6" cy="351.4" r="7.2"/><circle cx="473.1" cy="351.7" r="7.2"/><circle cx="469.9" cy="351.5" r="7.2"/>
<circle cx="371.9" cy="341.6" r="7.2"/><circle cx="375.5" cy="343.3" r="7.2"/><circle cx="378.8" cy="344.1" r="7.2"/><circle cx="381.8" cy="345.0" r="7.2"/><circle cx="385.0" cy="346.6" r="7.2"/><circle cx="388.6" cy="348.0" r="7.2"/>
<circle cx="391.9" cy="349.7" r="7.2"/><circle cx="395.9" cy="351.9" r="7.2"/><circle cx="399.4" cy="352.8" r="7.2"/><circle cx="402.4" cy="353.7" r="7.2"/><circle cx="405.8" cy="355.7" r="7.2"/><circle cx="409.5" cy="357.6" r="7.2"/>
<circle cx="551.1" cy="427.4" r="7.2"/><circle cx="541.5" cy="421.7" r="7.2"/><circle cx="531.0" cy="416.0" r="7.2"/><circle cx="521.2" cy="410.6" r="7.2"/><circle cx="511.0" cy="406.1" r="7.2"/><circle cx="686.0" cy="414.4" r="7.2"/>
<circle cx="429.1" cy="354.8" r="7.2"/><circle cx="425.5" cy="352.9" r="7.2"/><circle cx="421.4" cy="351.3" r="7.2"/><circle cx="417.8" cy="349.5" r="7.2"/><circle cx="413.4" cy="349.0" r="7.2"/><circle cx="409.0" cy="347.7" r="7.2"/>
<circle cx="404.3" cy="347.3" r="7.2"/><circle cx="400.0" cy="347.9" r="7.2"/><circle cx="419.9" cy="350.1" r="7.2"/><circle cx="415.9" cy="350.7" r="7.2"/><circle cx="411.3" cy="351.3" r="7.2"/><circle cx="406.7" cy="352.0" r="7.2"/>
<circle cx="402.4" cy="352.7" r="7.2"/><circle cx="397.7" cy="353.6" r="7.2"/><circle cx="394.1" cy="354.4" r="7.2"/><circle cx="389.3" cy="355.4" r="7.2"/><circle cx="384.7" cy="356.8" r="7.2"/><circle cx="495.0" cy="423.6" r="7.2"/>
<circle cx="656.6" cy="350.4" r="7.2"/><circle cx="667.7" cy="352.7" r="7.2"/><circle cx="678.5" cy="355.8" r="7.2"/><circle cx="689.3" cy="357.8" r="7.2"/><circle cx="699.7" cy="359.8" r="7.2"/><circle cx="710.7" cy="362.2" r="7.2"/>
<circle cx="721.9" cy="364.3" r="7.2"/><circle cx="732.2" cy="366.4" r="7.2"/><circle cx="385.7" cy="325.3" r="7.2"/><circle cx="378.0" cy="321.5" r="7.2"/><circle cx="778.6" cy="430.5" r="7.2"/><circle cx="774.1" cy="427.0" r="7.2"/>
<circle cx="769.9" cy="423.9" r="7.2"/><circle cx="764.8" cy="421.1" r="7.2"/><circle cx="760.4" cy="419.5" r="7.2"/><circle cx="754.8" cy="418.4" r="7.2"/><circle cx="750.1" cy="417.3" r="7.2"/><circle cx="745.0" cy="416.0" r="7.2"/>
<circle cx="739.4" cy="415.2" r="7.2"/><circle cx="734.5" cy="415.2" r="7.2"/><circle cx="729.3" cy="414.9" r="7.2"/><circle cx="723.5" cy="415.1" r="7.2"/><circle cx="546.0" cy="360.9" r="7.2"/><circle cx="538.0" cy="357.9" r="7.2"/>
<circle cx="529.9" cy="355.2" r="7.2"/><circle cx="522.2" cy="352.2" r="7.2"/><circle cx="514.7" cy="349.6" r="7.2"/><circle cx="507.2" cy="348.2" r="7.2"/><circle cx="499.3" cy="346.2" r="7.2"/><circle cx="491.4" cy="344.9" r="7.2"/>
<circle cx="327.8" cy="326.3" r="7.2"/><circle cx="332.1" cy="325.4" r="7.2"/><circle cx="435.5" cy="382.2" r="7.2"/><circle cx="581.8" cy="429.1" r="7.2"/><circle cx="575.3" cy="430.7" r="7.2"/><circle cx="569.7" cy="432.8" r="7.2"/>
<circle cx="633.6" cy="350.4" r="7.2"/><circle cx="517.6" cy="308.4" r="7.2"/><circle cx="508.6" cy="307.3" r="7.2"/><circle cx="498.7" cy="305.7" r="7.2"/><circle cx="607.8" cy="416.7" r="7.2"/><circle cx="603.5" cy="414.8" r="7.2"/>
<circle cx="598.6" cy="413.8" r="7.2"/><circle cx="593.6" cy="412.5" r="7.2"/><circle cx="590.0" cy="410.6" r="7.2"/><circle cx="585.3" cy="409.4" r="7.2"/><circle cx="581.0" cy="408.3" r="7.2"/><circle cx="577.1" cy="406.5" r="7.2"/>
<circle cx="807.8" cy="468.6" r="7.2"/><circle cx="815.2" cy="471.6" r="7.2"/><circle cx="825.7" cy="452.3" r="7.2"/><circle cx="742.5" cy="427.4" r="7.2"/><circle cx="303.4" cy="292.4" r="7.2"/><circle cx="314.7" cy="296.0" r="7.2"/>
<circle cx="530.3" cy="478.3" r="7.2"/><circle cx="526.7" cy="482.6" r="7.2"/><circle cx="495.1" cy="309.1" r="7.2"/><circle cx="487.3" cy="309.9" r="7.2"/><circle cx="479.0" cy="311.1" r="7.2"/><circle cx="470.6" cy="310.8" r="7.2"/>
<circle cx="462.2" cy="310.7" r="7.2"/><circle cx="454.3" cy="310.0" r="7.2"/><circle cx="544.9" cy="448.1" r="7.2"/><circle cx="398.7" cy="254.3" r="7.2"/><circle cx="388.3" cy="253.9" r="7.2"/><circle cx="642.4" cy="410.2" r="7.2"/>
<circle cx="636.1" cy="409.6" r="7.2"/><circle cx="401.1" cy="325.4" r="7.2"/><circle cx="407.3" cy="326.4" r="7.2"/><circle cx="414.1" cy="327.0" r="7.2"/><circle cx="420.5" cy="327.4" r="7.2"/><circle cx="427.1" cy="327.3" r="7.2"/>
<circle cx="434.1" cy="327.1" r="7.2"/><circle cx="439.7" cy="326.5" r="7.2"/><circle cx="445.8" cy="325.3" r="7.2"/><circle cx="548.2" cy="402.3" r="7.2"/><circle cx="553.2" cy="401.7" r="7.2"/><circle cx="438.0" cy="335.4" r="7.2"/>
<circle cx="444.7" cy="334.0" r="7.2"/><circle cx="451.3" cy="332.3" r="7.2"/><circle cx="458.4" cy="330.2" r="7.2"/><circle cx="465.9" cy="328.2" r="7.2"/><circle cx="472.5" cy="326.6" r="7.2"/><circle cx="624.1" cy="408.3" r="7.2"/>
<circle cx="632.0" cy="409.1" r="7.2"/><circle cx="722.3" cy="502.0" r="7.2"/><circle cx="722.6" cy="494.5" r="7.2"/><circle cx="722.8" cy="487.0" r="7.2"/><circle cx="723.6" cy="479.3" r="7.2"/><circle cx="724.6" cy="471.8" r="7.2"/>
<circle cx="639.8" cy="429.0" r="7.2"/><circle cx="636.6" cy="428.4" r="7.2"/><circle cx="633.9" cy="427.7" r="7.2"/><circle cx="631.0" cy="428.2" r="7.2"/><circle cx="627.6" cy="429.6" r="7.2"/><circle cx="624.4" cy="430.9" r="7.2"/>
<circle cx="621.7" cy="433.0" r="7.2"/><circle cx="618.8" cy="435.1" r="7.2"/><circle cx="616.5" cy="437.6" r="7.2"/><circle cx="615.2" cy="440.1" r="7.2"/><circle cx="614.4" cy="443.0" r="7.2"/><circle cx="613.5" cy="445.8" r="7.2"/>
<circle cx="465.1" cy="307.7" r="7.2"/><circle cx="628.7" cy="425.7" r="7.2"/><circle cx="636.7" cy="427.9" r="7.2"/><circle cx="644.7" cy="431.2" r="7.2"/><circle cx="652.4" cy="433.4" r="7.2"/><circle cx="660.7" cy="435.5" r="7.2"/>
<circle cx="669.0" cy="437.9" r="7.2"/><circle cx="676.5" cy="441.1" r="7.2"/><circle cx="684.7" cy="443.6" r="7.2"/><circle cx="691.7" cy="445.9" r="7.2"/><circle cx="699.5" cy="449.1" r="7.2"/><circle cx="707.7" cy="452.2" r="7.2"/>
<circle cx="715.4" cy="455.8" r="7.2"/><circle cx="663.3" cy="413.8" r="7.2"/><circle cx="653.8" cy="413.9" r="7.2"/><circle cx="645.5" cy="414.3" r="7.2"/><circle cx="636.5" cy="413.6" r="7.2"/><circle cx="627.8" cy="414.4" r="7.2"/>
<circle cx="619.4" cy="413.9" r="7.2"/><circle cx="610.0" cy="413.8" r="7.2"/><circle cx="600.8" cy="413.7" r="7.2"/><circle cx="591.9" cy="413.9" r="7.2"/><circle cx="583.6" cy="413.4" r="7.2"/><circle cx="575.1" cy="413.4" r="7.2"/>
<circle cx="565.7" cy="413.4" r="7.2"/><circle cx="556.5" cy="413.0" r="7.2"/><circle cx="547.6" cy="412.8" r="7.2"/><circle cx="774.3" cy="447.2" r="7.2"/><circle cx="779.2" cy="448.1" r="7.2"/><circle cx="784.6" cy="449.5" r="7.2"/>
<circle cx="789.3" cy="449.9" r="7.2"/><circle cx="794.7" cy="450.2" r="7.2"/><circle cx="800.2" cy="450.5" r="7.2"/><circle cx="716.8" cy="363.0" r="7.2"/><circle cx="724.6" cy="364.7" r="7.2"/><circle cx="731.0" cy="366.0" r="7.2"/>
<circle cx="738.5" cy="368.3" r="7.2"/><circle cx="746.0" cy="370.5" r="7.2"/><circle cx="752.6" cy="373.2" r="7.2"/><circle cx="759.5" cy="376.1" r="7.2"/><circle cx="765.8" cy="380.1" r="7.2"/><circle cx="586.8" cy="374.5" r="7.2"/>
<circle cx="595.0" cy="376.7" r="7.2"/><circle cx="602.7" cy="380.0" r="7.2"/><circle cx="611.0" cy="383.4" r="7.2"/><circle cx="618.1" cy="387.7" r="7.2"/><circle cx="625.9" cy="391.6" r="7.2"/><circle cx="633.2" cy="396.8" r="7.2"/>
<circle cx="640.7" cy="401.9" r="7.2"/><circle cx="647.4" cy="407.4" r="7.2"/><circle cx="653.3" cy="412.7" r="7.2"/><circle cx="658.9" cy="419.1" r="7.2"/><circle cx="664.4" cy="425.7" r="7.2"/><circle cx="669.6" cy="432.4" r="7.2"/>
<circle cx="674.1" cy="438.8" r="7.2"/><circle cx="679.3" cy="445.9" r="7.2"/><circle cx="682.9" cy="453.6" r="7.2"/><circle cx="687.1" cy="460.8" r="7.2"/><circle cx="690.6" cy="468.5" r="7.2"/><circle cx="557.5" cy="404.2" r="7.2"/>
<circle cx="553.0" cy="399.9" r="7.2"/><circle cx="548.3" cy="395.9" r="7.2"/><circle cx="543.4" cy="391.8" r="7.2"/><circle cx="804.9" cy="443.7" r="7.2"/><circle cx="810.2" cy="443.6" r="7.2"/><circle cx="815.8" cy="443.4" r="7.2"/>
<circle cx="821.1" cy="443.0" r="7.2"/><circle cx="827.0" cy="442.1" r="7.2"/><circle cx="368.3" cy="361.0" r="7.2"/><circle cx="379.2" cy="356.7" r="7.2"/><circle cx="473.3" cy="465.0" r="7.2"/><circle cx="541.1" cy="373.7" r="7.2"/>
<circle cx="538.4" cy="372.3" r="7.2"/><circle cx="535.0" cy="370.9" r="7.2"/><circle cx="532.8" cy="369.1" r="7.2"/><circle cx="529.5" cy="367.2" r="7.2"/><circle cx="526.1" cy="365.6" r="7.2"/><circle cx="522.9" cy="363.8" r="7.2"/>
<circle cx="520.3" cy="363.2" r="7.2"/><circle cx="516.6" cy="362.3" r="7.2"/><circle cx="513.4" cy="361.4" r="7.2"/><circle cx="691.0" cy="474.1" r="7.2"/><circle cx="494.7" cy="414.2" r="7.2"/><circle cx="505.5" cy="421.3" r="7.2"/>
<circle cx="516.6" cy="427.7" r="7.2"/><circle cx="581.7" cy="393.4" r="7.2"/><circle cx="441.1" cy="367.3" r="7.2"/><circle cx="438.7" cy="364.5" r="7.2"/><circle cx="436.1" cy="362.4" r="7.2"/><circle cx="433.1" cy="360.2" r="7.2"/>
<circle cx="476.8" cy="286.5" r="7.2"/><circle cx="796.7" cy="423.7" r="7.2"/><circle cx="793.5" cy="423.0" r="7.2"/><circle cx="790.0" cy="422.3" r="7.2"/><circle cx="787.7" cy="421.4" r="7.2"/><circle cx="784.4" cy="420.5" r="7.2"/>
<circle cx="781.5" cy="419.0" r="7.2"/><circle cx="778.1" cy="417.5" r="7.2"/><circle cx="774.9" cy="416.4" r="7.2"/><circle cx="771.7" cy="414.9" r="7.2"/><circle cx="768.2" cy="413.9" r="7.2"/><circle cx="603.3" cy="434.1" r="7.2"/>
<circle cx="608.0" cy="436.1" r="7.2"/><circle cx="612.3" cy="437.9" r="7.2"/><circle cx="617.1" cy="439.8" r="7.2"/><circle cx="622.1" cy="441.0" r="7.2"/><circle cx="626.7" cy="443.4" r="7.2"/><circle cx="631.3" cy="445.2" r="7.2"/>
<circle cx="636.2" cy="446.6" r="7.2"/><circle cx="641.8" cy="447.8" r="7.2"/><circle cx="647.2" cy="448.8" r="7.2"/><circle cx="651.6" cy="450.6" r="7.2"/><circle cx="656.6" cy="451.2" r="7.2"/><circle cx="661.5" cy="452.2" r="7.2"/>
<circle cx="667.0" cy="452.7" r="7.2"/><circle cx="671.7" cy="454.2" r="7.2"/><circle cx="677.2" cy="454.5" r="7.2"/><circle cx="682.1" cy="454.9" r="7.2"/><circle cx="687.5" cy="455.7" r="7.2"/><circle cx="611.9" cy="379.2" r="7.2"/>
<circle cx="608.1" cy="377.7" r="7.2"/><circle cx="604.4" cy="376.6" r="7.2"/><circle cx="600.5" cy="375.1" r="7.2"/><circle cx="596.8" cy="373.7" r="7.2"/><circle cx="592.8" cy="373.0" r="7.2"/><circle cx="589.6" cy="372.0" r="7.2"/>
<circle cx="585.7" cy="370.6" r="7.2"/><circle cx="581.6" cy="369.3" r="7.2"/><circle cx="577.9" cy="368.7" r="7.2"/><circle cx="573.5" cy="368.6" r="7.2"/><circle cx="569.4" cy="368.6" r="7.2"/><circle cx="574.4" cy="446.7" r="7.2"/>
<circle cx="568.9" cy="447.5" r="7.2"/><circle cx="385.2" cy="314.5" r="7.2"/><circle cx="390.2" cy="319.2" r="7.2"/><circle cx="395.1" cy="323.3" r="7.2"/><circle cx="398.7" cy="327.5" r="7.2"/><circle cx="612.1" cy="440.5" r="7.2"/>
<circle cx="604.8" cy="442.3" r="7.2"/><circle cx="597.0" cy="444.0" r="7.2"/><circle cx="590.1" cy="445.8" r="7.2"/><circle cx="482.5" cy="361.9" r="7.2"/><circle cx="424.6" cy="340.3" r="7.2"/><circle cx="419.6" cy="340.5" r="7.2"/>
<circle cx="413.7" cy="340.6" r="7.2"/><circle cx="450.7" cy="402.2" r="7.2"/><circle cx="439.2" cy="406.7" r="7.2"/><circle cx="427.8" cy="409.9" r="7.2"/><circle cx="423.1" cy="332.5" r="7.2"/><circle cx="427.9" cy="334.3" r="7.2"/>
<circle cx="432.6" cy="336.1" r="7.2"/><circle cx="437.6" cy="338.0" r="7.2"/><circle cx="443.0" cy="340.3" r="7.2"/><circle cx="447.6" cy="342.1" r="7.2"/><circle cx="461.7" cy="340.4" r="7.2"/><circle cx="453.7" cy="338.8" r="7.2"/>
<circle cx="397.3" cy="458.7" r="7.2"/><circle cx="345.3" cy="304.9" r="7.2"/><circle cx="338.3" cy="303.0" r="7.2"/><circle cx="331.5" cy="300.8" r="7.2"/><circle cx="324.6" cy="299.3" r="7.2"/><circle cx="709.0" cy="436.0" r="7.2"/>
<circle cx="702.4" cy="432.7" r="7.2"/><circle cx="696.9" cy="429.5" r="7.2"/><circle cx="691.6" cy="426.3" r="7.2"/><circle cx="686.0" cy="423.9" r="7.2"/><circle cx="680.4" cy="420.3" r="7.2"/><circle cx="674.6" cy="416.8" r="7.2"/>
<circle cx="669.5" cy="413.5" r="7.2"/><circle cx="663.5" cy="410.1" r="7.2"/><circle cx="658.0" cy="407.2" r="7.2"/><circle cx="652.5" cy="403.8" r="7.2"/><circle cx="647.1" cy="399.9" r="7.2"/><circle cx="716.9" cy="376.2" r="7.2"/>
<circle cx="710.8" cy="378.8" r="7.2"/><circle cx="704.1" cy="381.7" r="7.2"/><circle cx="698.0" cy="384.6" r="7.2"/><circle cx="678.0" cy="441.3" r="7.2"/><circle cx="681.3" cy="441.4" r="7.2"/><circle cx="684.5" cy="442.1" r="7.2"/>
<circle cx="352.4" cy="311.2" r="7.2"/><circle cx="347.5" cy="310.6" r="7.2"/><circle cx="557.1" cy="469.0" r="7.2"/><circle cx="467.7" cy="329.3" r="7.2"/><circle cx="473.4" cy="332.8" r="7.2"/><circle cx="479.2" cy="336.0" r="7.2"/>
<circle cx="484.7" cy="339.3" r="7.2"/><circle cx="794.2" cy="501.6" r="7.2"/><circle cx="561.9" cy="379.8" r="7.2"/><circle cx="554.9" cy="378.7" r="7.2"/><circle cx="549.0" cy="377.2" r="7.2"/><circle cx="541.8" cy="376.3" r="7.2"/>
<circle cx="653.2" cy="385.3" r="7.2"/><circle cx="651.9" cy="382.0" r="7.2"/><circle cx="649.7" cy="379.2" r="7.2"/><circle cx="647.9" cy="376.2" r="7.2"/><circle cx="468.7" cy="365.8" r="7.2"/><circle cx="464.5" cy="358.4" r="7.2"/>
<circle cx="460.0" cy="351.9" r="7.2"/><circle cx="454.9" cy="345.4" r="7.2"/><circle cx="450.6" cy="338.8" r="7.2"/><circle cx="445.7" cy="332.1" r="7.2"/><circle cx="440.3" cy="326.3" r="7.2"/><circle cx="434.4" cy="319.6" r="7.2"/>
<circle cx="429.3" cy="313.3" r="7.2"/><circle cx="423.2" cy="307.4" r="7.2"/><circle cx="417.5" cy="301.6" r="7.2"/><circle cx="600.4" cy="342.7" r="7.2"/><circle cx="343.9" cy="391.1" r="7.2"/><circle cx="338.7" cy="396.3" r="7.2"/>
<circle cx="566.7" cy="382.6" r="7.2"/><circle cx="777.2" cy="423.6" r="7.2"/><circle cx="781.1" cy="424.2" r="7.2"/><circle cx="785.1" cy="425.2" r="7.2"/><circle cx="789.2" cy="425.2" r="7.2"/><circle cx="792.7" cy="426.0" r="7.2"/>
<circle cx="797.0" cy="426.6" r="7.2"/><circle cx="800.1" cy="426.9" r="7.2"/><circle cx="803.2" cy="427.0" r="7.2"/><circle cx="807.3" cy="426.3" r="7.2"/><circle cx="811.6" cy="426.3" r="7.2"/><circle cx="814.9" cy="425.5" r="7.2"/>
<circle cx="738.8" cy="444.6" r="7.2"/><circle cx="730.6" cy="443.4" r="7.2"/><circle cx="721.3" cy="442.2" r="7.2"/><circle cx="712.1" cy="442.0" r="7.2"/><circle cx="703.4" cy="441.1" r="7.2"/><circle cx="694.2" cy="441.0" r="7.2"/>
<circle cx="685.3" cy="441.5" r="7.2"/><circle cx="676.4" cy="442.1" r="7.2"/><circle cx="483.3" cy="398.3" r="7.2"/><circle cx="513.1" cy="342.6" r="7.2"/><circle cx="519.0" cy="346.0" r="7.2"/><circle cx="795.0" cy="410.0" r="7.2"/>
<circle cx="446.3" cy="380.7" r="7.2"/><circle cx="606.2" cy="458.8" r="7.2"/><circle cx="600.5" cy="455.4" r="7.2"/><circle cx="595.4" cy="452.6" r="7.2"/><circle cx="589.7" cy="450.0" r="7.2"/><circle cx="474.6" cy="378.0" r="7.2"/>
<circle cx="483.0" cy="381.3" r="7.2"/><circle cx="490.6" cy="384.0" r="7.2"/><circle cx="499.2" cy="386.3" r="7.2"/><circle cx="613.3" cy="399.8" r="7.2"/><circle cx="619.8" cy="402.2" r="7.2"/><circle cx="625.6" cy="404.9" r="7.2"/>
<circle cx="632.1" cy="407.4" r="7.2"/><circle cx="637.5" cy="410.4" r="7.2"/><circle cx="643.7" cy="413.2" r="7.2"/><circle cx="648.4" cy="416.7" r="7.2"/><circle cx="653.8" cy="421.0" r="7.2"/><circle cx="658.5" cy="425.8" r="7.2"/>
<circle cx="662.8" cy="430.6" r="7.2"/><circle cx="666.7" cy="434.6" r="7.2"/><circle cx="670.4" cy="438.9" r="7.2"/><circle cx="564.4" cy="429.0" r="7.2"/><circle cx="556.8" cy="432.7" r="7.2"/><circle cx="485.5" cy="317.4" r="7.2"/>
<circle cx="479.1" cy="314.8" r="7.2"/><circle cx="366.5" cy="308.0" r="7.2"/><circle cx="545.6" cy="343.0" r="7.2"/><circle cx="537.3" cy="341.4" r="7.2"/><circle cx="529.0" cy="340.2" r="7.2"/><circle cx="520.0" cy="340.5" r="7.2"/>
<circle cx="511.6" cy="341.6" r="7.2"/><circle cx="503.5" cy="342.5" r="7.2"/><circle cx="495.9" cy="344.1" r="7.2"/><circle cx="487.3" cy="347.6" r="7.2"/><circle cx="480.2" cy="351.1" r="7.2"/><circle cx="472.1" cy="354.8" r="7.2"/>
<circle cx="465.0" cy="359.7" r="7.2"/><circle cx="458.4" cy="365.7" r="7.2"/><circle cx="452.2" cy="371.9" r="7.2"/><circle cx="314.6" cy="363.3" r="7.2"/><circle cx="502.4" cy="347.6" r="7.2"/><circle cx="505.7" cy="347.2" r="7.2"/>
<circle cx="509.2" cy="346.8" r="7.2"/><circle cx="512.3" cy="345.2" r="7.2"/><circle cx="515.3" cy="343.3" r="7.2"/><circle cx="518.3" cy="341.8" r="7.2"/><circle cx="521.0" cy="340.6" r="7.2"/><circle cx="523.5" cy="339.2" r="7.2"/>
<circle cx="525.8" cy="337.5" r="7.2"/><circle cx="491.7" cy="442.5" r="7.2"/><circle cx="484.6" cy="448.0" r="7.2"/><circle cx="478.5" cy="454.0" r="7.2"/><circle cx="472.2" cy="460.7" r="7.2"/><circle cx="466.2" cy="467.3" r="7.2"/>
<circle cx="457.1" cy="438.4" r="7.2"/><circle cx="531.2" cy="389.1" r="7.2"/><circle cx="757.0" cy="408.9" r="7.2"/><circle cx="760.7" cy="411.9" r="7.2"/><circle cx="765.1" cy="415.4" r="7.2"/><circle cx="327.5" cy="343.1" r="7.2"/>
<circle cx="472.3" cy="339.5" r="7.2"/><circle cx="401.1" cy="320.8" r="7.2"/><circle cx="408.7" cy="320.9" r="7.2"/><circle cx="415.3" cy="320.4" r="7.2"/><circle cx="422.5" cy="319.7" r="7.2"/><circle cx="430.3" cy="319.5" r="7.2"/>
<circle cx="437.1" cy="319.6" r="7.2"/><circle cx="443.9" cy="320.6" r="7.2"/><circle cx="451.1" cy="321.3" r="7.2"/><circle cx="458.1" cy="321.6" r="7.2"/><circle cx="464.9" cy="323.2" r="7.2"/><circle cx="432.4" cy="272.7" r="7.2"/>
<circle cx="424.5" cy="267.5" r="7.2"/><circle cx="416.2" cy="262.5" r="7.2"/><circle cx="408.4" cy="256.6" r="7.2"/><circle cx="400.0" cy="251.5" r="7.2"/><circle cx="391.7" cy="246.7" r="7.2"/><circle cx="730.1" cy="413.2" r="7.2"/>
<circle cx="736.0" cy="414.5" r="7.2"/><circle cx="740.9" cy="416.8" r="7.2"/><circle cx="746.7" cy="418.6" r="7.2"/><circle cx="751.4" cy="420.6" r="7.2"/><circle cx="757.2" cy="421.8" r="7.2"/><circle cx="762.2" cy="423.7" r="7.2"/>
<circle cx="768.0" cy="425.6" r="7.2"/><circle cx="773.6" cy="426.6" r="7.2"/><circle cx="779.4" cy="428.4" r="7.2"/><circle cx="784.9" cy="429.7" r="7.2"/><circle cx="790.0" cy="430.5" r="7.2"/><circle cx="794.9" cy="431.4" r="7.2"/>
<circle cx="800.9" cy="432.9" r="7.2"/><circle cx="806.4" cy="434.0" r="7.2"/><circle cx="812.5" cy="435.7" r="7.2"/><circle cx="817.5" cy="436.3" r="7.2"/><circle cx="823.0" cy="437.7" r="7.2"/><circle cx="678.0" cy="459.0" r="7.2"/>
<circle cx="673.2" cy="456.6" r="7.2"/><circle cx="668.3" cy="455.2" r="7.2"/><circle cx="663.3" cy="453.7" r="7.2"/><circle cx="618.4" cy="394.7" r="7.2"/><circle cx="613.0" cy="392.6" r="7.2"/><circle cx="292.7" cy="270.0" r="7.2"/>
<circle cx="517.5" cy="450.7" r="7.2"/><circle cx="523.1" cy="451.9" r="7.2"/><circle cx="562.9" cy="393.0" r="7.2"/><circle cx="567.1" cy="393.4" r="7.2"/><circle cx="571.4" cy="393.8" r="7.2"/><circle cx="575.2" cy="394.2" r="7.2"/>
<circle cx="580.2" cy="395.0" r="7.2"/><circle cx="585.1" cy="395.1" r="7.2"/><circle cx="590.2" cy="395.8" r="7.2"/><circle cx="595.0" cy="396.6" r="7.2"/><circle cx="720.1" cy="455.9" r="7.2"/><circle cx="716.9" cy="455.5" r="7.2"/>
<circle cx="713.9" cy="454.5" r="7.2"/><circle cx="516.9" cy="346.6" r="7.2"/><circle cx="521.2" cy="346.5" r="7.2"/><circle cx="525.7" cy="347.1" r="7.2"/><circle cx="319.5" cy="331.6" r="7.2"/><circle cx="326.9" cy="333.2" r="7.2"/>
<circle cx="333.6" cy="335.0" r="7.2"/><circle cx="341.4" cy="337.0" r="7.2"/><circle cx="348.8" cy="339.1" r="7.2"/><circle cx="356.3" cy="341.0" r="7.2"/><circle cx="363.3" cy="343.4" r="7.2"/><circle cx="370.7" cy="345.9" r="7.2"/>
<circle cx="377.4" cy="348.7" r="7.2"/><circle cx="384.4" cy="351.7" r="7.2"/><circle cx="390.7" cy="354.8" r="7.2"/><circle cx="398.0" cy="357.0" r="7.2"/><circle cx="405.2" cy="359.3" r="7.2"/><circle cx="411.5" cy="362.1" r="7.2"/>
<circle cx="417.8" cy="365.0" r="7.2"/><circle cx="622.2" cy="364.7" r="7.2"/><circle cx="616.3" cy="364.0" r="7.2"/><circle cx="762.8" cy="385.0" r="7.2"/><circle cx="770.4" cy="390.3" r="7.2"/><circle cx="461.9" cy="384.5" r="7.2"/>
<circle cx="591.3" cy="346.7" r="7.2"/><circle cx="598.4" cy="351.4" r="7.2"/><circle cx="605.7" cy="355.0" r="7.2"/><circle cx="613.1" cy="359.7" r="7.2"/><circle cx="325.7" cy="310.9" r="7.2"/><circle cx="330.4" cy="313.0" r="7.2"/>
<circle cx="334.9" cy="315.0" r="7.2"/><circle cx="339.7" cy="317.3" r="7.2"/><circle cx="344.1" cy="320.3" r="7.2"/><circle cx="348.2" cy="323.0" r="7.2"/><circle cx="352.2" cy="325.3" r="7.2"/><circle cx="356.7" cy="327.8" r="7.2"/>
<circle cx="360.3" cy="331.0" r="7.2"/><circle cx="364.6" cy="333.7" r="7.2"/><circle cx="368.5" cy="335.9" r="7.2"/><circle cx="373.1" cy="338.0" r="7.2"/><circle cx="376.8" cy="340.8" r="7.2"/><circle cx="380.9" cy="344.1" r="7.2"/>
<circle cx="384.8" cy="346.4" r="7.2"/><circle cx="358.1" cy="361.9" r="7.2"/><circle cx="368.5" cy="356.8" r="7.2"/><circle cx="703.5" cy="444.1" r="7.2"/><circle cx="700.3" cy="443.5" r="7.2"/><circle cx="697.3" cy="443.2" r="7.2"/>
<circle cx="693.5" cy="442.2" r="7.2"/><circle cx="690.4" cy="441.0" r="7.2"/><circle cx="686.5" cy="440.3" r="7.2"/><circle cx="683.2" cy="438.9" r="7.2"/><circle cx="680.1" cy="437.9" r="7.2"/><circle cx="676.4" cy="435.9" r="7.2"/>
<circle cx="672.6" cy="433.9" r="7.2"/><circle cx="669.6" cy="432.3" r="7.2"/><circle cx="667.0" cy="430.1" r="7.2"/><circle cx="664.1" cy="427.8" r="7.2"/><circle cx="661.1" cy="425.7" r="7.2"/><circle cx="659.0" cy="423.5" r="7.2"/>
<circle cx="656.2" cy="420.9" r="7.2"/><circle cx="654.4" cy="418.0" r="7.2"/><circle cx="652.9" cy="415.5" r="7.2"/><circle cx="676.4" cy="453.4" r="7.2"/><circle cx="683.5" cy="456.2" r="7.2"/><circle cx="690.3" cy="457.9" r="7.2"/>
<circle cx="697.5" cy="459.9" r="7.2"/><circle cx="536.0" cy="381.2" r="7.2"/><circle cx="541.5" cy="382.6" r="7.2"/><circle cx="547.8" cy="384.2" r="7.2"/><circle cx="553.6" cy="386.0" r="7.2"/><circle cx="559.4" cy="388.0" r="7.2"/>
<circle cx="565.1" cy="390.0" r="7.2"/><circle cx="571.7" cy="391.6" r="7.2"/><circle cx="577.2" cy="393.4" r="7.2"/><circle cx="582.7" cy="394.8" r="7.2"/><circle cx="588.8" cy="395.5" r="7.2"/><circle cx="595.2" cy="397.0" r="7.2"/>
<circle cx="601.5" cy="398.0" r="7.2"/><circle cx="678.8" cy="363.7" r="7.2"/><circle cx="674.1" cy="360.9" r="7.2"/><circle cx="686.5" cy="459.0" r="7.2"/><circle cx="691.5" cy="461.7" r="7.2"/><circle cx="696.6" cy="463.7" r="7.2"/>
<circle cx="695.7" cy="448.9" r="7.2"/><circle cx="429.2" cy="340.0" r="7.2"/><circle cx="432.1" cy="342.2" r="7.2"/><circle cx="434.2" cy="344.5" r="7.2"/><circle cx="436.7" cy="345.7" r="7.2"/><circle cx="438.9" cy="347.6" r="7.2"/>
<circle cx="441.7" cy="348.4" r="7.2"/><circle cx="444.9" cy="350.5" r="7.2"/><circle cx="447.2" cy="352.2" r="7.2"/><circle cx="449.7" cy="353.5" r="7.2"/><circle cx="453.2" cy="355.1" r="7.2"/><circle cx="455.9" cy="356.2" r="7.2"/>
<circle cx="458.8" cy="357.4" r="7.2"/><circle cx="462.4" cy="357.6" r="7.2"/><circle cx="465.1" cy="358.0" r="7.2"/><circle cx="468.7" cy="358.1" r="7.2"/><circle cx="772.8" cy="418.1" r="7.2"/><circle cx="766.2" cy="415.3" r="7.2"/>
<circle cx="760.7" cy="412.0" r="7.2"/><circle cx="755.1" cy="409.1" r="7.2"/><circle cx="748.9" cy="406.6" r="7.2"/><circle cx="742.7" cy="402.8" r="7.2"/><circle cx="736.9" cy="399.4" r="7.2"/><circle cx="731.8" cy="396.8" r="7.2"/>
<circle cx="595.7" cy="408.1" r="7.2"/><circle cx="653.1" cy="421.4" r="7.2"/><circle cx="655.7" cy="422.5" r="7.2"/><circle cx="659.0" cy="423.5" r="7.2"/><circle cx="662.6" cy="424.4" r="7.2"/><circle cx="665.0" cy="425.1" r="7.2"/>
<circle cx="668.2" cy="425.3" r="7.2"/><circle cx="670.8" cy="426.4" r="7.2"/><circle cx="674.5" cy="426.5" r="7.2"/><circle cx="677.1" cy="426.8" r="7.2"/><circle cx="679.8" cy="427.4" r="7.2"/><circle cx="682.9" cy="427.7" r="7.2"/>
<circle cx="685.5" cy="427.7" r="7.2"/><circle cx="687.9" cy="428.4" r="7.2"/><circle cx="691.3" cy="428.5" r="7.2"/><circle cx="694.1" cy="429.6" r="7.2"/><circle cx="690.2" cy="441.2" r="7.2"/><circle cx="696.4" cy="446.1" r="7.2"/>
<circle cx="702.3" cy="450.6" r="7.2"/><circle cx="708.2" cy="455.2" r="7.2"/><circle cx="713.6" cy="460.0" r="7.2"/><circle cx="720.3" cy="465.3" r="7.2"/><circle cx="441.7" cy="289.9" r="7.2"/><circle cx="422.4" cy="323.3" r="7.2"/>
<circle cx="425.6" cy="324.7" r="7.2"/><circle cx="581.9" cy="434.0" r="7.2"/><circle cx="573.7" cy="435.4" r="7.2"/><circle cx="682.0" cy="355.3" r="7.2"/><circle cx="643.2" cy="412.8" r="7.2"/><circle cx="639.9" cy="411.6" r="7.2"/>
<circle cx="636.0" cy="411.1" r="7.2"/><circle cx="633.0" cy="410.6" r="7.2"/><circle cx="629.6" cy="410.4" r="7.2"/><circle cx="626.9" cy="409.6" r="7.2"/><circle cx="624.1" cy="408.5" r="7.2"/><circle cx="620.7" cy="408.0" r="7.2"/>
<circle cx="616.9" cy="407.8" r="7.2"/><circle cx="614.2" cy="407.5" r="7.2"/><circle cx="610.8" cy="406.3" r="7.2"/><circle cx="607.1" cy="405.2" r="7.2"/><circle cx="406.0" cy="326.3" r="7.2"/><circle cx="403.7" cy="325.1" r="7.2"/>
<circle cx="400.9" cy="323.1" r="7.2"/><circle cx="397.8" cy="321.2" r="7.2"/><circle cx="396.0" cy="318.6" r="7.2"/><circle cx="393.6" cy="315.8" r="7.2"/><circle cx="391.8" cy="312.8" r="7.2"/><circle cx="389.7" cy="309.9" r="7.2"/>
<circle cx="388.8" cy="307.9" r="7.2"/><circle cx="387.3" cy="305.2" r="7.2"/><circle cx="385.8" cy="302.1" r="7.2"/><circle cx="385.3" cy="299.0" r="7.2"/><circle cx="768.3" cy="527.3" r="7.2"/><circle cx="766.6" cy="515.5" r="7.2"/>
<circle cx="498.1" cy="333.0" r="7.2"/><circle cx="502.5" cy="335.1" r="7.2"/><circle cx="507.3" cy="337.5" r="7.2"/><circle cx="511.7" cy="340.4" r="7.2"/><circle cx="515.9" cy="342.9" r="7.2"/><circle cx="520.3" cy="346.1" r="7.2"/>
<circle cx="525.4" cy="349.5" r="7.2"/><circle cx="529.2" cy="352.6" r="7.2"/><circle cx="332.6" cy="363.1" r="7.2"/><circle cx="622.3" cy="434.4" r="7.2"/><circle cx="615.8" cy="430.6" r="7.2"/><circle cx="608.9" cy="428.0" r="7.2"/>
<circle cx="601.9" cy="425.8" r="7.2"/><circle cx="594.6" cy="424.0" r="7.2"/><circle cx="679.1" cy="404.7" r="7.2"/><circle cx="685.6" cy="409.5" r="7.2"/><circle cx="692.0" cy="414.1" r="7.2"/><circle cx="441.5" cy="349.8" r="7.2"/>
<circle cx="437.4" cy="349.1" r="7.2"/><circle cx="433.7" cy="348.5" r="7.2"/><circle cx="429.8" cy="348.4" r="7.2"/><circle cx="426.4" cy="348.0" r="7.2"/><circle cx="423.4" cy="346.5" r="7.2"/><circle cx="420.4" cy="345.0" r="7.2"/>
<circle cx="416.3" cy="344.1" r="7.2"/><circle cx="412.4" cy="341.6" r="7.2"/><circle cx="408.8" cy="339.4" r="7.2"/><circle cx="732.6" cy="435.2" r="7.2"/><circle cx="431.6" cy="285.2" r="7.2"/><circle cx="425.7" cy="282.1" r="7.2"/>
<circle cx="419.6" cy="279.9" r="7.2"/><circle cx="412.5" cy="277.6" r="7.2"/><circle cx="406.3" cy="276.0" r="7.2"/><circle cx="399.8" cy="274.0" r="7.2"/><circle cx="419.2" cy="355.0" r="7.2"/><circle cx="412.8" cy="354.4" r="7.2"/>
<circle cx="406.4" cy="353.5" r="7.2"/><circle cx="644.9" cy="369.0" r="7.2"/><circle cx="653.7" cy="369.4" r="7.2"/><circle cx="663.0" cy="370.1" r="7.2"/><circle cx="356.0" cy="426.6" r="7.2"/><circle cx="517.1" cy="401.8" r="7.2"/>
<circle cx="373.1" cy="320.7" r="7.2"/><circle cx="377.1" cy="321.3" r="7.2"/><circle cx="381.3" cy="321.6" r="7.2"/><circle cx="386.2" cy="322.3" r="7.2"/><circle cx="390.6" cy="322.8" r="7.2"/><circle cx="423.5" cy="293.1" r="7.2"/>
<circle cx="416.6" cy="289.6" r="7.2"/><circle cx="410.2" cy="286.6" r="7.2"/><circle cx="403.9" cy="283.8" r="7.2"/><circle cx="397.0" cy="280.1" r="7.2"/><circle cx="390.7" cy="276.3" r="7.2"/><circle cx="815.5" cy="486.0" r="7.2"/>
<circle cx="824.1" cy="483.3" r="7.2"/><circle cx="330.2" cy="339.3" r="7.2"/><circle cx="677.0" cy="392.6" r="7.2"/><circle cx="684.9" cy="394.6" r="7.2"/><circle cx="692.9" cy="396.4" r="7.2"/><circle cx="702.1" cy="397.7" r="7.2"/>
<circle cx="710.0" cy="399.1" r="7.2"/><circle cx="717.9" cy="400.3" r="7.2"/><circle cx="726.9" cy="401.4" r="7.2"/><circle cx="735.3" cy="402.2" r="7.2"/><circle cx="743.3" cy="403.2" r="7.2"/><circle cx="581.4" cy="452.1" r="7.2"/>
<circle cx="449.6" cy="367.5" r="7.2"/><circle cx="456.5" cy="369.9" r="7.2"/><circle cx="463.9" cy="370.9" r="7.2"/><circle cx="471.3" cy="371.5" r="7.2"/><circle cx="479.7" cy="370.9" r="7.2"/><circle cx="487.9" cy="369.9" r="7.2"/>
<circle cx="495.0" cy="368.8" r="7.2"/><circle cx="502.2" cy="366.3" r="7.2"/><circle cx="509.3" cy="364.0" r="7.2"/><circle cx="516.8" cy="360.8" r="7.2"/><circle cx="522.7" cy="357.2" r="7.2"/><circle cx="529.1" cy="353.2" r="7.2"/>
<circle cx="535.6" cy="347.8" r="7.2"/><circle cx="541.4" cy="342.7" r="7.2"/><circle cx="496.6" cy="327.0" r="7.2"/><circle cx="374.2" cy="310.4" r="7.2"/><circle cx="379.4" cy="311.6" r="7.2"/><circle cx="385.0" cy="312.8" r="7.2"/>
<circle cx="389.7" cy="314.8" r="7.2"/><circle cx="395.3" cy="317.0" r="7.2"/><circle cx="750.0" cy="466.1" r="7.2"/><circle cx="772.7" cy="439.6" r="7.2"/><circle cx="767.9" cy="436.0" r="7.2"/><circle cx="762.7" cy="432.5" r="7.2"/>
<circle cx="756.8" cy="428.6" r="7.2"/><circle cx="752.2" cy="424.8" r="7.2"/><circle cx="806.4" cy="465.5" r="7.2"/><circle cx="815.0" cy="472.9" r="7.2"/><circle cx="823.7" cy="480.2" r="7.2"/><circle cx="832.1" cy="486.7" r="7.2"/>
<circle cx="376.3" cy="276.8" r="7.2"/><circle cx="387.1" cy="275.7" r="7.2"/><circle cx="397.3" cy="275.3" r="7.2"/><circle cx="407.3" cy="275.5" r="7.2"/><circle cx="418.3" cy="276.0" r="7.2"/><circle cx="824.9" cy="459.8" r="7.2"/>
<circle cx="836.3" cy="460.3" r="7.2"/><circle cx="380.0" cy="347.6" r="7.2"/><circle cx="374.7" cy="347.1" r="7.2"/><circle cx="369.9" cy="346.5" r="7.2"/><circle cx="365.0" cy="346.4" r="7.2"/><circle cx="512.3" cy="327.5" r="7.2"/>
<circle cx="521.6" cy="332.2" r="7.2"/><circle cx="529.9" cy="336.8" r="7.2"/><circle cx="371.3" cy="331.7" r="7.2"/><circle cx="364.9" cy="330.6" r="7.2"/><circle cx="358.0" cy="329.3" r="7.2"/><circle cx="352.0" cy="329.1" r="7.2"/>
<circle cx="344.9" cy="328.5" r="7.2"/><circle cx="552.4" cy="319.7" r="7.2"/><circle cx="560.4" cy="322.8" r="7.2"/><circle cx="569.1" cy="324.7" r="7.2"/><circle cx="578.3" cy="326.9" r="7.2"/><circle cx="586.9" cy="330.0" r="7.2"/>
<circle cx="595.3" cy="331.8" r="7.2"/><circle cx="603.6" cy="334.5" r="7.2"/><circle cx="611.7" cy="336.5" r="7.2"/><circle cx="823.6" cy="478.2" r="7.2"/><circle cx="703.4" cy="414.9" r="7.2"/><circle cx="353.3" cy="258.3" r="7.2"/>
<circle cx="347.2" cy="255.1" r="7.2"/><circle cx="340.2" cy="251.6" r="7.2"/><circle cx="333.0" cy="249.2" r="7.2"/><circle cx="326.8" cy="246.5" r="7.2"/><circle cx="319.4" cy="243.2" r="7.2"/><circle cx="312.0" cy="240.1" r="7.2"/>
<circle cx="305.4" cy="236.7" r="7.2"/><circle cx="501.3" cy="448.6" r="7.2"/><circle cx="500.4" cy="457.5" r="7.2"/><circle cx="499.1" cy="467.0" r="7.2"/><circle cx="497.7" cy="476.3" r="7.2"/><circle cx="317.4" cy="354.1" r="7.2"/>
<circle cx="348.2" cy="299.6" r="7.2"/><circle cx="353.9" cy="300.3" r="7.2"/><circle cx="359.4" cy="301.8" r="7.2"/><circle cx="364.6" cy="302.9" r="7.2"/><circle cx="369.9" cy="303.6" r="7.2"/><circle cx="376.1" cy="304.8" r="7.2"/>
<circle cx="756.9" cy="521.6" r="7.2"/><circle cx="765.4" cy="526.9" r="7.2"/><circle cx="565.1" cy="321.1" r="7.2"/><circle cx="556.8" cy="319.1" r="7.2"/><circle cx="713.1" cy="427.1" r="7.2"/><circle cx="717.6" cy="427.4" r="7.2"/>
<circle cx="721.5" cy="427.4" r="7.2"/><circle cx="726.2" cy="428.2" r="7.2"/><circle cx="731.1" cy="428.0" r="7.2"/><circle cx="735.6" cy="428.4" r="7.2"/><circle cx="739.7" cy="428.4" r="7.2"/><circle cx="743.4" cy="428.9" r="7.2"/>
<circle cx="502.2" cy="397.1" r="7.2"/><circle cx="809.7" cy="446.8" r="7.2"/><circle cx="806.2" cy="444.3" r="7.2"/><circle cx="802.6" cy="442.5" r="7.2"/><circle cx="798.9" cy="440.7" r="7.2"/><circle cx="794.9" cy="437.5" r="7.2"/>
<circle cx="791.5" cy="434.8" r="7.2"/><circle cx="788.0" cy="431.9" r="7.2"/><circle cx="785.0" cy="429.9" r="7.2"/><circle cx="781.7" cy="428.3" r="7.2"/><circle cx="778.8" cy="426.4" r="7.2"/><circle cx="775.4" cy="423.6" r="7.2"/>
<circle cx="771.2" cy="421.4" r="7.2"/><circle cx="768.1" cy="419.2" r="7.2"/><circle cx="764.5" cy="416.6" r="7.2"/><circle cx="760.6" cy="415.2" r="7.2"/><circle cx="299.1" cy="273.0" r="7.2"/><circle cx="304.5" cy="275.4" r="7.2"/>
<circle cx="617.7" cy="451.2" r="7.2"/><circle cx="610.0" cy="452.1" r="7.2"/><circle cx="602.3" cy="452.6" r="7.2"/><circle cx="594.2" cy="452.4" r="7.2"/><circle cx="369.3" cy="256.9" r="7.2"/><circle cx="359.8" cy="252.4" r="7.2"/>
<circle cx="350.4" cy="247.0" r="7.2"/><circle cx="340.4" cy="242.0" r="7.2"/><circle cx="330.8" cy="237.2" r="7.2"/><circle cx="321.3" cy="232.3" r="7.2"/><circle cx="312.0" cy="226.1" r="7.2"/><circle cx="303.1" cy="220.2" r="7.2"/>
<circle cx="539.1" cy="381.1" r="7.2"/><circle cx="547.6" cy="383.7" r="7.2"/><circle cx="555.0" cy="387.1" r="7.2"/><circle cx="562.3" cy="390.7" r="7.2"/><circle cx="570.0" cy="394.5" r="7.2"/><circle cx="577.2" cy="398.1" r="7.2"/>
<circle cx="585.4" cy="401.5" r="7.2"/><circle cx="592.9" cy="406.3" r="7.2"/><circle cx="600.4" cy="410.7" r="7.2"/><circle cx="608.3" cy="415.6" r="7.2"/><circle cx="615.7" cy="420.9" r="7.2"/><circle cx="623.0" cy="425.6" r="7.2"/>
<circle cx="433.4" cy="363.4" r="7.2"/><circle cx="430.4" cy="362.5" r="7.2"/><circle cx="427.3" cy="361.3" r="7.2"/><circle cx="424.1" cy="360.4" r="7.2"/><circle cx="421.1" cy="358.4" r="7.2"/><circle cx="418.3" cy="357.6" r="7.2"/>
<circle cx="415.1" cy="355.5" r="7.2"/><circle cx="411.9" cy="353.5" r="7.2"/><circle cx="500.8" cy="445.0" r="7.2"/><circle cx="530.8" cy="437.6" r="7.2"/><circle cx="482.0" cy="450.4" r="7.2"/><circle cx="472.5" cy="442.1" r="7.2"/>
<circle cx="464.2" cy="434.6" r="7.2"/><circle cx="456.2" cy="425.8" r="7.2"/><circle cx="448.7" cy="417.6" r="7.2"/><circle cx="440.6" cy="408.5" r="7.2"/><circle cx="433.5" cy="398.7" r="7.2"/><circle cx="809.5" cy="403.7" r="7.2"/>
<circle cx="815.8" cy="405.4" r="7.2"/><circle cx="821.7" cy="406.5" r="7.2"/><circle cx="828.0" cy="407.8" r="7.2"/><circle cx="834.2" cy="409.2" r="7.2"/><circle cx="718.4" cy="386.3" r="7.2"/><circle cx="710.1" cy="385.9" r="7.2"/>
<circle cx="701.6" cy="385.2" r="7.2"/><circle cx="692.8" cy="384.8" r="7.2"/><circle cx="704.1" cy="464.0" r="7.2"/><circle cx="713.1" cy="462.9" r="7.2"/><circle cx="721.6" cy="461.2" r="7.2"/><circle cx="819.7" cy="489.6" r="7.2"/>
<circle cx="810.7" cy="489.3" r="7.2"/><circle cx="505.0" cy="336.5" r="7.2"/><circle cx="501.5" cy="335.4" r="7.2"/><circle cx="497.3" cy="334.8" r="7.2"/><circle cx="493.8" cy="333.7" r="7.2"/><circle cx="489.9" cy="333.2" r="7.2"/>
<circle cx="612.0" cy="406.9" r="7.2"/><circle cx="408.2" cy="312.1" r="7.2"/><circle cx="410.8" cy="313.5" r="7.2"/><circle cx="413.3" cy="314.6" r="7.2"/><circle cx="416.1" cy="315.1" r="7.2"/><circle cx="419.3" cy="316.7" r="7.2"/>
<circle cx="341.7" cy="332.8" r="7.2"/><circle cx="347.4" cy="335.0" r="7.2"/><circle cx="352.5" cy="337.6" r="7.2"/><circle cx="357.5" cy="340.7" r="7.2"/><circle cx="362.3" cy="343.6" r="7.2"/><circle cx="367.3" cy="345.7" r="7.2"/>
<circle cx="372.8" cy="348.0" r="7.2"/><circle cx="377.8" cy="349.6" r="7.2"/><circle cx="383.8" cy="351.4" r="7.2"/><circle cx="388.6" cy="353.6" r="7.2"/><circle cx="655.0" cy="360.7" r="7.2"/><circle cx="661.5" cy="361.4" r="7.2"/>
<circle cx="467.1" cy="344.5" r="7.2"/><circle cx="461.9" cy="342.4" r="7.2"/><circle cx="456.6" cy="339.9" r="7.2"/><circle cx="451.3" cy="337.3" r="7.2"/><circle cx="445.9" cy="334.9" r="7.2"/><circle cx="440.6" cy="332.0" r="7.2"/>
<circle cx="435.3" cy="329.7" r="7.2"/><circle cx="429.6" cy="326.9" r="7.2"/><circle cx="424.7" cy="324.2" r="7.2"/><circle cx="419.7" cy="321.8" r="7.2"/><circle cx="744.0" cy="387.5" r="7.2"/><circle cx="737.3" cy="383.4" r="7.2"/>
<circle cx="306.2" cy="321.2" r="7.2"/><circle cx="482.0" cy="374.5" r="7.2"/><circle cx="474.1" cy="373.4" r="7.2"/><circle cx="466.6" cy="372.1" r="7.2"/><circle cx="459.0" cy="370.7" r="7.2"/><circle cx="451.8" cy="370.1" r="7.2"/>
<circle cx="444.0" cy="370.3" r="7.2"/><circle cx="435.8" cy="370.6" r="7.2"/><circle cx="427.8" cy="371.4" r="7.2"/><circle cx="639.0" cy="373.7" r="7.2"/><circle cx="593.5" cy="416.5" r="7.2"/><circle cx="587.4" cy="413.6" r="7.2"/>
<circle cx="347.0" cy="348.3" r="7.2"/><circle cx="585.6" cy="358.3" r="7.2"/><circle cx="378.1" cy="310.5" r="7.2"/><circle cx="371.2" cy="305.7" r="7.2"/><circle cx="364.5" cy="301.6" r="7.2"/><circle cx="357.9" cy="296.5" r="7.2"/>
<circle cx="351.1" cy="292.3" r="7.2"/><circle cx="344.6" cy="287.0" r="7.2"/><circle cx="463.1" cy="339.8" r="7.2"/><circle cx="468.6" cy="341.1" r="7.2"/><circle cx="473.8" cy="342.7" r="7.2"/><circle cx="478.7" cy="344.5" r="7.2"/>
<circle cx="484.4" cy="346.3" r="7.2"/><circle cx="489.2" cy="347.2" r="7.2"/><circle cx="493.9" cy="349.3" r="7.2"/><circle cx="499.6" cy="351.7" r="7.2"/><circle cx="504.7" cy="352.8" r="7.2"/><circle cx="510.0" cy="355.2" r="7.2"/>
<circle cx="433.3" cy="375.8" r="7.2"/><circle cx="685.2" cy="387.1" r="7.2"/><circle cx="507.6" cy="380.5" r="7.2"/><circle cx="402.9" cy="358.6" r="7.2"/><circle cx="398.3" cy="358.5" r="7.2"/><circle cx="392.8" cy="358.0" r="7.2"/>
<circle cx="387.6" cy="356.8" r="7.2"/><circle cx="456.6" cy="457.7" r="7.2"/><circle cx="448.5" cy="454.4" r="7.2"/><circle cx="398.2" cy="386.4" r="7.2"/><circle cx="389.9" cy="389.9" r="7.2"/><circle cx="525.6" cy="406.0" r="7.2"/>
<circle cx="477.9" cy="332.7" r="7.2"/><circle cx="482.7" cy="333.8" r="7.2"/><circle cx="486.9" cy="334.7" r="7.2"/><circle cx="491.5" cy="336.5" r="7.2"/><circle cx="496.6" cy="338.2" r="7.2"/><circle cx="500.6" cy="339.7" r="7.2"/>
<circle cx="504.6" cy="341.6" r="7.2"/><circle cx="508.3" cy="342.9" r="7.2"/><circle cx="513.0" cy="344.5" r="7.2"/><circle cx="517.6" cy="347.0" r="7.2"/><circle cx="506.1" cy="446.7" r="7.2"/><circle cx="516.8" cy="448.6" r="7.2"/>
<circle cx="527.3" cy="449.9" r="7.2"/><circle cx="537.5" cy="450.7" r="7.2"/><circle cx="548.0" cy="451.0" r="7.2"/><circle cx="386.2" cy="329.4" r="7.2"/><circle cx="380.9" cy="328.7" r="7.2"/><circle cx="374.7" cy="327.1" r="7.2"/>
<circle cx="369.1" cy="325.3" r="7.2"/><circle cx="363.2" cy="323.2" r="7.2"/><circle cx="357.1" cy="321.8" r="7.2"/><circle cx="351.2" cy="320.3" r="7.2"/><circle cx="345.5" cy="318.7" r="7.2"/><circle cx="416.7" cy="291.1" r="7.2"/>
<circle cx="671.7" cy="397.9" r="7.2"/><circle cx="662.9" cy="398.1" r="7.2"/><circle cx="635.0" cy="415.7" r="7.2"/><circle cx="641.4" cy="414.9" r="7.2"/><circle cx="647.5" cy="415.5" r="7.2"/><circle cx="654.4" cy="416.0" r="7.2"/>
<circle cx="578.0" cy="361.8" r="7.2"/><circle cx="573.5" cy="359.4" r="7.2"/><circle cx="570.0" cy="356.2" r="7.2"/><circle cx="565.6" cy="353.2" r="7.2"/><circle cx="561.5" cy="350.8" r="7.2"/><circle cx="558.4" cy="347.6" r="7.2"/>
<circle cx="333.5" cy="362.9" r="7.2"/><circle cx="322.9" cy="364.1" r="7.2"/><circle cx="458.4" cy="376.9" r="7.2"/><circle cx="465.8" cy="379.5" r="7.2"/><circle cx="473.0" cy="381.7" r="7.2"/><circle cx="480.2" cy="384.4" r="7.2"/>
<circle cx="434.9" cy="423.5" r="7.2"/><circle cx="426.8" cy="418.4" r="7.2"/><circle cx="418.8" cy="412.7" r="7.2"/><circle cx="320.7" cy="310.5" r="7.2"/><circle cx="316.3" cy="307.8" r="7.2"/><circle cx="312.0" cy="304.9" r="7.2"/>
<circle cx="306.9" cy="302.4" r="7.2"/><circle cx="376.0" cy="310.6" r="7.2"/><circle cx="361.5" cy="338.6" r="7.2"/><circle cx="365.4" cy="341.4" r="7.2"/><circle cx="369.7" cy="343.7" r="7.2"/><circle cx="373.6" cy="346.7" r="7.2"/>
<circle cx="796.1" cy="437.6" r="7.2"/><circle cx="800.4" cy="438.3" r="7.2"/><circle cx="804.8" cy="438.6" r="7.2"/><circle cx="809.1" cy="438.7" r="7.2"/><circle cx="813.4" cy="439.8" r="7.2"/><circle cx="817.5" cy="440.7" r="7.2"/>
<circle cx="821.8" cy="441.4" r="7.2"/><circle cx="825.7" cy="443.4" r="7.2"/><circle cx="412.8" cy="335.1" r="7.2"/><circle cx="419.5" cy="335.5" r="7.2"/><circle cx="425.9" cy="336.3" r="7.2"/><circle cx="432.9" cy="336.6" r="7.2"/>
<circle cx="440.6" cy="336.7" r="7.2"/><circle cx="447.3" cy="336.4" r="7.2"/><circle cx="453.8" cy="336.6" r="7.2"/><circle cx="460.9" cy="336.0" r="7.2"/><circle cx="467.7" cy="334.6" r="7.2"/><circle cx="474.3" cy="333.4" r="7.2"/>
<circle cx="481.0" cy="332.5" r="7.2"/><circle cx="487.9" cy="330.3" r="7.2"/><circle cx="585.5" cy="391.8" r="7.2"/><circle cx="419.2" cy="266.9" r="7.2"/><circle cx="410.0" cy="260.1" r="7.2"/><circle cx="400.4" cy="253.6" r="7.2"/>
<circle cx="390.1" cy="248.0" r="7.2"/><circle cx="380.3" cy="242.2" r="7.2"/><circle cx="719.3" cy="458.8" r="7.2"/><circle cx="725.5" cy="460.6" r="7.2"/><circle cx="731.4" cy="463.0" r="7.2"/><circle cx="613.7" cy="449.3" r="7.2"/>
<circle cx="609.2" cy="446.8" r="7.2"/><circle cx="605.2" cy="444.2" r="7.2"/><circle cx="600.9" cy="441.1" r="7.2"/><circle cx="596.5" cy="438.6" r="7.2"/><circle cx="593.0" cy="435.8" r="7.2"/><circle cx="589.3" cy="432.8" r="7.2"/>
<circle cx="586.1" cy="428.9" r="7.2"/><circle cx="583.0" cy="425.3" r="7.2"/><circle cx="580.4" cy="421.0" r="7.2"/><circle cx="577.5" cy="416.7" r="7.2"/><circle cx="574.5" cy="412.2" r="7.2"/><circle cx="572.8" cy="407.8" r="7.2"/>
<circle cx="570.6" cy="403.6" r="7.2"/><circle cx="568.6" cy="399.3" r="7.2"/><circle cx="429.4" cy="385.4" r="7.2"/><circle cx="441.6" cy="385.9" r="7.2"/><circle cx="454.8" cy="385.8" r="7.2"/><circle cx="357.3" cy="264.7" r="7.2"/>
<circle cx="345.6" cy="265.3" r="7.2"/><circle cx="334.5" cy="265.4" r="7.2"/><circle cx="323.0" cy="265.2" r="7.2"/><circle cx="311.0" cy="265.8" r="7.2"/><circle cx="299.7" cy="265.3" r="7.2"/><circle cx="564.1" cy="439.5" r="7.2"/>
<circle cx="558.6" cy="443.2" r="7.2"/><circle cx="552.5" cy="447.0" r="7.2"/><circle cx="546.2" cy="451.4" r="7.2"/><circle cx="540.1" cy="456.2" r="7.2"/><circle cx="476.5" cy="343.3" r="7.2"/><circle cx="473.5" cy="344.1" r="7.2"/>
<circle cx="469.8" cy="344.7" r="7.2"/><circle cx="467.1" cy="345.3" r="7.2"/><circle cx="464.1" cy="344.9" r="7.2"/><circle cx="719.8" cy="460.4" r="7.2"/><circle cx="723.4" cy="462.0" r="7.2"/><circle cx="726.7" cy="463.8" r="7.2"/>
<circle cx="689.2" cy="418.1" r="7.2"/><circle cx="695.4" cy="417.1" r="7.2"/><circle cx="701.0" cy="416.0" r="7.2"/><circle cx="706.1" cy="414.6" r="7.2"/><circle cx="711.1" cy="413.5" r="7.2"/><circle cx="716.1" cy="411.0" r="7.2"/>
<circle cx="721.5" cy="409.3" r="7.2"/><circle cx="726.4" cy="407.0" r="7.2"/><circle cx="406.1" cy="320.3" r="7.2"/><circle cx="409.8" cy="323.1" r="7.2"/><circle cx="413.2" cy="325.8" r="7.2"/><circle cx="417.0" cy="328.8" r="7.2"/>
<circle cx="420.4" cy="331.7" r="7.2"/><circle cx="423.5" cy="335.1" r="7.2"/><circle cx="426.5" cy="337.7" r="7.2"/><circle cx="429.2" cy="340.8" r="7.2"/><circle cx="431.7" cy="344.2" r="7.2"/><circle cx="434.1" cy="347.5" r="7.2"/>
<circle cx="436.4" cy="350.8" r="7.2"/><circle cx="439.3" cy="353.8" r="7.2"/><circle cx="440.7" cy="357.9" r="7.2"/><circle cx="442.5" cy="361.6" r="7.2"/><circle cx="444.5" cy="365.2" r="7.2"/><circle cx="445.7" cy="368.5" r="7.2"/>
<circle cx="447.8" cy="373.1" r="7.2"/><circle cx="448.8" cy="377.1" r="7.2"/><circle cx="779.4" cy="501.1" r="7.2"/><circle cx="682.5" cy="365.3" r="7.2"/><circle cx="358.5" cy="282.4" r="7.2"/><circle cx="349.4" cy="276.2" r="7.2"/>
<circle cx="340.9" cy="270.0" r="7.2"/><circle cx="331.3" cy="263.7" r="7.2"/><circle cx="321.9" cy="256.3" r="7.2"/><circle cx="313.9" cy="248.6" r="7.2"/><circle cx="305.6" cy="241.5" r="7.2"/><circle cx="297.4" cy="233.4" r="7.2"/>
<circle cx="535.9" cy="461.3" r="7.2"/><circle cx="528.9" cy="456.4" r="7.2"/><circle cx="522.2" cy="450.6" r="7.2"/><circle cx="515.6" cy="445.0" r="7.2"/><circle cx="509.0" cy="440.5" r="7.2"/><circle cx="501.3" cy="435.3" r="7.2"/>
<circle cx="493.5" cy="430.8" r="7.2"/><circle cx="827.6" cy="497.3" r="7.2"/><circle cx="816.9" cy="489.5" r="7.2"/><circle cx="351.6" cy="306.9" r="7.2"/><circle cx="356.2" cy="308.0" r="7.2"/><circle cx="359.9" cy="309.4" r="7.2"/>
<circle cx="364.4" cy="310.9" r="7.2"/><circle cx="368.8" cy="311.5" r="7.2"/><circle cx="373.1" cy="313.5" r="7.2"/><circle cx="376.7" cy="315.3" r="7.2"/><circle cx="381.4" cy="316.6" r="7.2"/><circle cx="385.4" cy="318.5" r="7.2"/>
<circle cx="389.9" cy="320.4" r="7.2"/><circle cx="394.4" cy="322.2" r="7.2"/><circle cx="398.9" cy="324.8" r="7.2"/><circle cx="622.5" cy="455.9" r="7.2"/><circle cx="619.3" cy="451.9" r="7.2"/><circle cx="616.9" cy="448.2" r="7.2"/>
<circle cx="614.5" cy="443.8" r="7.2"/><circle cx="306.0" cy="221.6" r="7.2"/><circle cx="299.9" cy="217.6" r="7.2"/><circle cx="537.2" cy="360.3" r="7.2"/><circle cx="542.3" cy="360.3" r="7.2"/><circle cx="547.6" cy="360.0" r="7.2"/>
<circle cx="552.9" cy="359.8" r="7.2"/><circle cx="601.8" cy="419.4" r="7.2"/><circle cx="596.4" cy="420.2" r="7.2"/><circle cx="591.4" cy="420.8" r="7.2"/><circle cx="586.1" cy="420.0" r="7.2"/><circle cx="581.5" cy="419.4" r="7.2"/>
<circle cx="614.5" cy="361.8" r="7.2"/><circle cx="820.8" cy="491.2" r="7.2"/><circle cx="586.5" cy="375.1" r="7.2"/><circle cx="591.1" cy="375.2" r="7.2"/><circle cx="596.0" cy="375.5" r="7.2"/><circle cx="599.9" cy="375.3" r="7.2"/>
<circle cx="603.8" cy="375.3" r="7.2"/><circle cx="608.0" cy="375.3" r="7.2"/><circle cx="611.6" cy="375.6" r="7.2"/><circle cx="616.5" cy="376.4" r="7.2"/><circle cx="620.6" cy="377.3" r="7.2"/><circle cx="625.2" cy="378.0" r="7.2"/>
<circle cx="629.6" cy="378.2" r="7.2"/><circle cx="633.8" cy="379.4" r="7.2"/><circle cx="637.9" cy="379.7" r="7.2"/><circle cx="642.7" cy="380.3" r="7.2"/><circle cx="647.1" cy="381.3" r="7.2"/><circle cx="650.6" cy="382.7" r="7.2"/>
<circle cx="655.4" cy="384.3" r="7.2"/><circle cx="659.2" cy="385.3" r="7.2"/><circle cx="412.0" cy="380.7" r="7.2"/><circle cx="542.4" cy="413.9" r="7.2"/><circle cx="532.0" cy="414.3" r="7.2"/><circle cx="521.8" cy="414.0" r="7.2"/>
<circle cx="479.6" cy="347.0" r="7.2"/><circle cx="473.9" cy="344.8" r="7.2"/><circle cx="468.9" cy="342.9" r="7.2"/><circle cx="464.0" cy="341.1" r="7.2"/><circle cx="435.9" cy="287.0" r="7.2"/><circle cx="430.3" cy="282.5" r="7.2"/>
<circle cx="425.4" cy="277.9" r="7.2"/><circle cx="420.4" cy="274.5" r="7.2"/><circle cx="416.2" cy="270.5" r="7.2"/><circle cx="499.7" cy="361.3" r="7.2"/><circle cx="492.7" cy="363.1" r="7.2"/><circle cx="486.7" cy="365.7" r="7.2"/>
<circle cx="479.6" cy="367.8" r="7.2"/><circle cx="473.0" cy="370.2" r="7.2"/><circle cx="466.2" cy="371.3" r="7.2"/><circle cx="460.1" cy="372.6" r="7.2"/><circle cx="454.0" cy="373.5" r="7.2"/><circle cx="446.8" cy="374.7" r="7.2"/>
<circle cx="440.6" cy="375.1" r="7.2"/><circle cx="562.0" cy="394.0" r="7.2"/><circle cx="557.3" cy="394.3" r="7.2"/><circle cx="638.6" cy="424.1" r="7.2"/><circle cx="641.2" cy="425.2" r="7.2"/><circle cx="644.8" cy="426.6" r="7.2"/>
<circle cx="647.1" cy="427.5" r="7.2"/><circle cx="649.9" cy="427.9" r="7.2"/><circle cx="653.7" cy="429.3" r="7.2"/><circle cx="657.3" cy="429.2" r="7.2"/><circle cx="660.3" cy="429.2" r="7.2"/><circle cx="663.9" cy="429.9" r="7.2"/>
<circle cx="667.5" cy="430.5" r="7.2"/><circle cx="670.1" cy="429.8" r="7.2"/><circle cx="672.8" cy="430.1" r="7.2"/><circle cx="691.3" cy="421.7" r="7.2"/><circle cx="694.4" cy="423.2" r="7.2"/><circle cx="697.2" cy="425.5" r="7.2"/>
<circle cx="700.8" cy="427.8" r="7.2"/><circle cx="703.8" cy="429.0" r="7.2"/><circle cx="707.2" cy="429.8" r="7.2"/><circle cx="710.5" cy="431.2" r="7.2"/><circle cx="714.0" cy="433.0" r="7.2"/><circle cx="717.7" cy="434.3" r="7.2"/>
<circle cx="721.4" cy="435.6" r="7.2"/><circle cx="724.9" cy="435.8" r="7.2"/><circle cx="729.2" cy="436.9" r="7.2"/><circle cx="732.4" cy="437.0" r="7.2"/><circle cx="735.7" cy="437.7" r="7.2"/><circle cx="739.0" cy="437.5" r="7.2"/>
<circle cx="742.7" cy="437.0" r="7.2"/><circle cx="746.1" cy="437.0" r="7.2"/><circle cx="749.4" cy="436.3" r="7.2"/><circle cx="469.0" cy="349.2" r="7.2"/><circle cx="473.1" cy="349.5" r="7.2"/><circle cx="476.4" cy="349.6" r="7.2"/>
<circle cx="480.5" cy="350.1" r="7.2"/><circle cx="484.4" cy="349.7" r="7.2"/><circle cx="443.9" cy="271.0" r="7.2"/><circle cx="505.3" cy="368.8" r="7.2"/><circle cx="498.4" cy="365.4" r="7.2"/><circle cx="492.2" cy="362.5" r="7.2"/>
<circle cx="485.4" cy="359.8" r="7.2"/><circle cx="478.9" cy="356.8" r="7.2"/><circle cx="482.1" cy="380.0" r="7.2"/><circle cx="476.1" cy="380.5" r="7.2"/><circle cx="469.2" cy="380.9" r="7.2"/><circle cx="404.6" cy="332.8" r="7.2"/>
<circle cx="401.0" cy="333.2" r="7.2"/><circle cx="397.7" cy="333.4" r="7.2"/><circle cx="393.3" cy="334.5" r="7.2"/><circle cx="389.6" cy="335.1" r="7.2"/><circle cx="385.2" cy="336.0" r="7.2"/><circle cx="554.2" cy="368.7" r="7.2"/>
<circle cx="561.9" cy="371.0" r="7.2"/><circle cx="569.2" cy="371.9" r="7.2"/><circle cx="576.9" cy="372.7" r="7.2"/><circle cx="571.6" cy="409.7" r="7.2"/><circle cx="574.2" cy="411.3" r="7.2"/><circle cx="577.6" cy="413.3" r="7.2"/>
<circle cx="580.9" cy="414.2" r="7.2"/><circle cx="583.3" cy="415.8" r="7.2"/><circle cx="585.3" cy="418.1" r="7.2"/><circle cx="588.2" cy="419.6" r="7.2"/><circle cx="590.3" cy="422.4" r="7.2"/><circle cx="485.7" cy="458.0" r="7.2"/>
<circle cx="491.3" cy="453.6" r="7.2"/><circle cx="496.3" cy="449.2" r="7.2"/><circle cx="317.6" cy="319.7" r="7.2"/><circle cx="310.3" cy="317.0" r="7.2"/><circle cx="302.4" cy="314.6" r="7.2"/><circle cx="713.0" cy="386.2" r="7.2"/>
<circle cx="717.4" cy="390.6" r="7.2"/><circle cx="818.2" cy="409.2" r="7.2"/><circle cx="824.8" cy="414.8" r="7.2"/><circle cx="831.4" cy="419.5" r="7.2"/><circle cx="837.7" cy="424.5" r="7.2"/><circle cx="570.5" cy="391.7" r="7.2"/>
<circle cx="575.4" cy="393.2" r="7.2"/><circle cx="579.4" cy="393.5" r="7.2"/><circle cx="583.9" cy="393.8" r="7.2"/><circle cx="588.7" cy="395.2" r="7.2"/><circle cx="592.8" cy="396.3" r="7.2"/><circle cx="597.3" cy="397.0" r="7.2"/>
<circle cx="601.3" cy="398.8" r="7.2"/><circle cx="348.4" cy="278.2" r="7.2"/><circle cx="548.0" cy="386.3" r="7.2"/><circle cx="550.7" cy="387.6" r="7.2"/><circle cx="553.7" cy="389.2" r="7.2"/><circle cx="556.6" cy="391.4" r="7.2"/>
<circle cx="559.9" cy="392.4" r="7.2"/><circle cx="562.2" cy="394.2" r="7.2"/><circle cx="565.3" cy="395.9" r="7.2"/><circle cx="568.3" cy="396.7" r="7.2"/><circle cx="786.0" cy="396.2" r="7.2"/><circle cx="805.5" cy="419.0" r="7.2"/>
<circle cx="796.8" cy="412.7" r="7.2"/><circle cx="786.7" cy="407.0" r="7.2"/><circle cx="653.6" cy="455.5" r="7.2"/><circle cx="644.7" cy="454.3" r="7.2"/><circle cx="636.6" cy="452.1" r="7.2"/><circle cx="628.0" cy="450.8" r="7.2"/>
<circle cx="766.8" cy="479.8" r="7.2"/><circle cx="760.3" cy="490.2" r="7.2"/><circle cx="753.8" cy="500.3" r="7.2"/><circle cx="746.3" cy="511.2" r="7.2"/><circle cx="679.6" cy="377.3" r="7.2"/><circle cx="689.8" cy="379.2" r="7.2"/>
<circle cx="699.6" cy="379.7" r="7.2"/><circle cx="709.7" cy="380.1" r="7.2"/><circle cx="719.7" cy="380.6" r="7.2"/><circle cx="729.4" cy="381.0" r="7.2"/><circle cx="431.0" cy="347.8" r="7.2"/><circle cx="330.1" cy="328.8" r="7.2"/>
<circle cx="326.5" cy="329.4" r="7.2"/><circle cx="323.7" cy="330.3" r="7.2"/><circle cx="320.1" cy="330.7" r="7.2"/><circle cx="316.2" cy="331.2" r="7.2"/><circle cx="814.5" cy="474.5" r="7.2"/><circle cx="624.2" cy="389.7" r="7.2"/>
<circle cx="620.6" cy="385.9" r="7.2"/><circle cx="617.3" cy="382.5" r="7.2"/><circle cx="614.4" cy="378.4" r="7.2"/><circle cx="610.9" cy="374.6" r="7.2"/><circle cx="607.1" cy="371.2" r="7.2"/><circle cx="603.5" cy="367.2" r="7.2"/>
<circle cx="600.5" cy="363.5" r="7.2"/><circle cx="554.8" cy="467.4" r="7.2"/><circle cx="404.4" cy="390.6" r="7.2"/><circle cx="408.6" cy="383.0" r="7.2"/><circle cx="758.7" cy="380.9" r="7.2"/><circle cx="766.1" cy="381.0" r="7.2"/>
<circle cx="774.4" cy="381.7" r="7.2"/><circle cx="783.1" cy="381.7" r="7.2"/><circle cx="790.9" cy="382.1" r="7.2"/><circle cx="804.2" cy="530.7" r="7.2"/><circle cx="813.9" cy="530.8" r="7.2"/><circle cx="823.0" cy="531.8" r="7.2"/>
<circle cx="775.9" cy="471.4" r="7.2"/><circle cx="332.5" cy="343.9" r="7.2"/><circle cx="630.3" cy="357.1" r="7.2"/><circle cx="645.6" cy="399.8" r="7.2"/><circle cx="598.1" cy="356.9" r="7.2"/><circle cx="612.1" cy="367.0" r="7.2"/>
<circle cx="649.4" cy="394.3" r="7.2"/><circle cx="586.6" cy="366.3" r="7.2"/><circle cx="579.8" cy="363.8" r="7.2"/><circle cx="572.2" cy="361.3" r="7.2"/><circle cx="565.2" cy="360.1" r="7.2"/><circle cx="558.6" cy="358.3" r="7.2"/>
<circle cx="551.8" cy="357.6" r="7.2"/><circle cx="544.5" cy="357.4" r="7.2"/><circle cx="536.8" cy="356.7" r="7.2"/><circle cx="529.6" cy="356.8" r="7.2"/><circle cx="522.2" cy="356.7" r="7.2"/><circle cx="515.5" cy="357.0" r="7.2"/>
<circle cx="508.1" cy="357.4" r="7.2"/><circle cx="500.9" cy="358.7" r="7.2"/><circle cx="493.6" cy="360.3" r="7.2"/><circle cx="486.5" cy="361.3" r="7.2"/><circle cx="480.2" cy="363.0" r="7.2"/><circle cx="473.3" cy="365.9" r="7.2"/>
<circle cx="466.1" cy="367.9" r="7.2"/><circle cx="756.8" cy="386.2" r="7.2"/><circle cx="745.9" cy="385.2" r="7.2"/><circle cx="340.4" cy="397.5" r="7.2"/><circle cx="332.2" cy="387.8" r="7.2"/><circle cx="325.1" cy="377.7" r="7.2"/>
<circle cx="318.2" cy="367.0" r="7.2"/><circle cx="312.7" cy="356.9" r="7.2"/><circle cx="307.1" cy="346.6" r="7.2"/><circle cx="690.2" cy="460.1" r="7.2"/><circle cx="687.5" cy="458.1" r="7.2"/><circle cx="684.2" cy="456.4" r="7.2"/>
<circle cx="681.5" cy="454.7" r="7.2"/><circle cx="678.3" cy="453.3" r="7.2"/><circle cx="674.8" cy="452.0" r="7.2"/><circle cx="671.3" cy="451.1" r="7.2"/><circle cx="668.4" cy="449.2" r="7.2"/><circle cx="665.4" cy="447.4" r="7.2"/>
<circle cx="662.0" cy="446.4" r="7.2"/><circle cx="448.3" cy="326.8" r="7.2"/><circle cx="456.0" cy="323.8" r="7.2"/><circle cx="464.4" cy="319.9" r="7.2"/><circle cx="552.4" cy="469.7" r="7.2"/><circle cx="761.7" cy="517.5" r="7.2"/>
<circle cx="629.4" cy="386.4" r="7.2"/><circle cx="635.1" cy="388.8" r="7.2"/><circle cx="640.7" cy="391.5" r="7.2"/><circle cx="645.3" cy="394.1" r="7.2"/><circle cx="814.8" cy="444.2" r="7.2"/><circle cx="809.1" cy="440.4" r="7.2"/>
<circle cx="803.0" cy="436.7" r="7.2"/><circle cx="795.8" cy="433.5" r="7.2"/><circle cx="789.3" cy="431.1" r="7.2"/><circle cx="781.8" cy="428.8" r="7.2"/><circle cx="774.7" cy="426.7" r="7.2"/><circle cx="766.8" cy="425.7" r="7.2"/>
<circle cx="759.0" cy="425.9" r="7.2"/><circle cx="751.3" cy="426.5" r="7.2"/><circle cx="744.4" cy="426.9" r="7.2"/><circle cx="737.3" cy="428.9" r="7.2"/><circle cx="730.5" cy="430.5" r="7.2"/><circle cx="724.2" cy="432.5" r="7.2"/>
<circle cx="718.2" cy="435.0" r="7.2"/><circle cx="711.6" cy="438.1" r="7.2"/><circle cx="705.6" cy="442.4" r="7.2"/><circle cx="699.9" cy="446.2" r="7.2"/><circle cx="438.8" cy="418.9" r="7.2"/><circle cx="443.3" cy="422.8" r="7.2"/>
<circle cx="448.0" cy="426.3" r="7.2"/><circle cx="360.7" cy="329.7" r="7.2"/><circle cx="353.4" cy="325.0" r="7.2"/><circle cx="346.3" cy="320.9" r="7.2"/><circle cx="339.0" cy="316.8" r="7.2"/><circle cx="331.6" cy="313.0" r="7.2"/>
<circle cx="323.8" cy="309.4" r="7.2"/><circle cx="315.5" cy="305.4" r="7.2"/><circle cx="308.2" cy="301.8" r="7.2"/><circle cx="352.2" cy="344.4" r="7.2"/><circle cx="725.5" cy="470.2" r="7.2"/><circle cx="717.9" cy="472.8" r="7.2"/>
<circle cx="711.4" cy="474.8" r="7.2"/><circle cx="704.5" cy="391.9" r="7.2"/><circle cx="696.2" cy="392.0" r="7.2"/><circle cx="688.5" cy="392.0" r="7.2"/><circle cx="680.6" cy="391.9" r="7.2"/><circle cx="673.1" cy="392.3" r="7.2"/>
<circle cx="665.3" cy="392.4" r="7.2"/><circle cx="657.7" cy="391.5" r="7.2"/><circle cx="649.5" cy="390.8" r="7.2"/><circle cx="641.5" cy="390.2" r="7.2"/><circle cx="633.4" cy="390.3" r="7.2"/><circle cx="771.1" cy="489.3" r="7.2"/>
<circle cx="388.0" cy="332.9" r="7.2"/><circle cx="391.5" cy="336.0" r="7.2"/><circle cx="395.4" cy="338.4" r="7.2"/><circle cx="648.7" cy="397.4" r="7.2"/><circle cx="640.9" cy="397.4" r="7.2"/><circle cx="633.1" cy="398.8" r="7.2"/>
<circle cx="624.5" cy="399.6" r="7.2"/><circle cx="777.2" cy="469.6" r="7.2"/><circle cx="772.0" cy="479.5" r="7.2"/><circle cx="767.5" cy="489.6" r="7.2"/><circle cx="715.1" cy="412.9" r="7.2"/><circle cx="707.3" cy="411.5" r="7.2"/>
<circle cx="409.7" cy="444.3" r="7.2"/><circle cx="412.8" cy="439.3" r="7.2"/><circle cx="416.3" cy="433.7" r="7.2"/><circle cx="609.8" cy="414.9" r="7.2"/><circle cx="603.1" cy="414.5" r="7.2"/><circle cx="704.3" cy="396.2" r="7.2"/>
<circle cx="708.6" cy="397.8" r="7.2"/><circle cx="354.5" cy="307.9" r="7.2"/><circle cx="349.9" cy="307.0" r="7.2"/><circle cx="345.5" cy="306.4" r="7.2"/><circle cx="341.8" cy="305.5" r="7.2"/><circle cx="336.9" cy="304.5" r="7.2"/>
<circle cx="332.5" cy="304.9" r="7.2"/><circle cx="328.5" cy="304.0" r="7.2"/><circle cx="324.1" cy="303.6" r="7.2"/><circle cx="320.3" cy="303.6" r="7.2"/><circle cx="316.1" cy="303.0" r="7.2"/><circle cx="498.7" cy="403.1" r="7.2"/>
<circle cx="500.1" cy="409.9" r="7.2"/><circle cx="401.0" cy="422.1" r="7.2"/><circle cx="718.3" cy="433.3" r="7.2"/><circle cx="720.5" cy="435.0" r="7.2"/><circle cx="532.4" cy="350.6" r="7.2"/><circle cx="680.3" cy="361.4" r="7.2"/>
<circle cx="690.8" cy="365.8" r="7.2"/><circle cx="700.6" cy="371.1" r="7.2"/><circle cx="710.8" cy="377.9" r="7.2"/><circle cx="719.6" cy="385.3" r="7.2"/><circle cx="728.7" cy="392.7" r="7.2"/><circle cx="795.3" cy="424.5" r="7.2"/>
<circle cx="790.6" cy="425.5" r="7.2"/><circle cx="786.2" cy="425.5" r="7.2"/><circle cx="781.9" cy="425.6" r="7.2"/><circle cx="777.9" cy="425.9" r="7.2"/><circle cx="773.3" cy="427.0" r="7.2"/><circle cx="769.7" cy="427.4" r="7.2"/>
<circle cx="765.9" cy="428.7" r="7.2"/><circle cx="761.8" cy="429.8" r="7.2"/><circle cx="757.1" cy="431.1" r="7.2"/><circle cx="513.6" cy="378.6" r="7.2"/><circle cx="508.3" cy="375.1" r="7.2"/><circle cx="503.1" cy="371.1" r="7.2"/>
<circle cx="498.8" cy="367.6" r="7.2"/><circle cx="494.1" cy="363.5" r="7.2"/><circle cx="813.2" cy="490.9" r="7.2"/><circle cx="808.3" cy="506.4" r="7.2"/><circle cx="324.9" cy="290.8" r="7.2"/><circle cx="699.2" cy="414.5" r="7.2"/>
<circle cx="538.4" cy="355.6" r="7.2"/><circle cx="428.4" cy="297.6" r="7.2"/><circle cx="420.0" cy="298.1" r="7.2"/><circle cx="411.4" cy="298.2" r="7.2"/><circle cx="376.1" cy="242.7" r="7.2"/><circle cx="383.3" cy="249.2" r="7.2"/>
<circle cx="391.5" cy="255.8" r="7.2"/><circle cx="399.9" cy="261.9" r="7.2"/><circle cx="549.3" cy="323.5" r="7.2"/><circle cx="627.2" cy="378.6" r="7.2"/><circle cx="621.4" cy="378.2" r="7.2"/><circle cx="615.4" cy="378.0" r="7.2"/>
<circle cx="609.6" cy="378.2" r="7.2"/><circle cx="603.8" cy="377.6" r="7.2"/><circle cx="597.4" cy="377.7" r="7.2"/><circle cx="591.2" cy="377.6" r="7.2"/><circle cx="585.3" cy="377.5" r="7.2"/><circle cx="579.6" cy="378.0" r="7.2"/>
<circle cx="574.0" cy="378.0" r="7.2"/><circle cx="568.9" cy="378.3" r="7.2"/><circle cx="562.5" cy="378.2" r="7.2"/><circle cx="418.4" cy="366.7" r="7.2"/><circle cx="409.5" cy="367.0" r="7.2"/><circle cx="683.0" cy="413.1" r="7.2"/>
<circle cx="679.2" cy="411.6" r="7.2"/><circle cx="676.0" cy="410.9" r="7.2"/><circle cx="672.6" cy="410.0" r="7.2"/><circle cx="669.4" cy="409.4" r="7.2"/><circle cx="666.2" cy="408.4" r="7.2"/><circle cx="662.3" cy="406.8" r="7.2"/>
<circle cx="658.5" cy="405.7" r="7.2"/><circle cx="654.0" cy="405.6" r="7.2"/><circle cx="649.9" cy="405.5" r="7.2"/><circle cx="645.4" cy="404.7" r="7.2"/><circle cx="641.9" cy="404.4" r="7.2"/><circle cx="638.3" cy="404.0" r="7.2"/>
<circle cx="633.8" cy="404.1" r="7.2"/><circle cx="630.3" cy="403.9" r="7.2"/><circle cx="626.4" cy="404.2" r="7.2"/><circle cx="622.5" cy="404.1" r="7.2"/><circle cx="618.6" cy="404.5" r="7.2"/><circle cx="528.6" cy="417.7" r="7.2"/>
<circle cx="529.2" cy="425.6" r="7.2"/><circle cx="529.4" cy="433.6" r="7.2"/><circle cx="410.8" cy="379.8" r="7.2"/><circle cx="420.7" cy="386.4" r="7.2"/><circle cx="599.4" cy="466.3" r="7.2"/><circle cx="595.8" cy="459.5" r="7.2"/>
<circle cx="521.2" cy="331.9" r="7.2"/><circle cx="515.3" cy="330.9" r="7.2"/><circle cx="757.2" cy="431.2" r="7.2"/><circle cx="762.0" cy="435.9" r="7.2"/><circle cx="766.9" cy="440.1" r="7.2"/><circle cx="772.5" cy="444.5" r="7.2"/>
<circle cx="778.1" cy="449.3" r="7.2"/><circle cx="783.3" cy="453.1" r="7.2"/><circle cx="789.2" cy="457.5" r="7.2"/><circle cx="820.8" cy="421.9" r="7.2"/><circle cx="809.7" cy="419.4" r="7.2"/><circle cx="449.8" cy="334.3" r="7.2"/>
<circle cx="457.6" cy="334.9" r="7.2"/><circle cx="464.8" cy="334.5" r="7.2"/><circle cx="472.8" cy="334.1" r="7.2"/><circle cx="481.1" cy="334.4" r="7.2"/><circle cx="640.0" cy="410.3" r="7.2"/><circle cx="645.9" cy="417.2" r="7.2"/>
<circle cx="651.3" cy="423.7" r="7.2"/><circle cx="656.5" cy="431.0" r="7.2"/><circle cx="662.5" cy="437.1" r="7.2"/><circle cx="668.5" cy="444.1" r="7.2"/><circle cx="674.2" cy="450.3" r="7.2"/><circle cx="679.2" cy="457.0" r="7.2"/>
<circle cx="684.4" cy="463.8" r="7.2"/><circle cx="690.2" cy="470.0" r="7.2"/><circle cx="689.4" cy="425.1" r="7.2"/><circle cx="695.4" cy="426.5" r="7.2"/><circle cx="701.5" cy="427.8" r="7.2"/><circle cx="708.3" cy="428.9" r="7.2"/>
<circle cx="715.0" cy="429.7" r="7.2"/><circle cx="720.8" cy="430.4" r="7.2"/><circle cx="809.7" cy="516.2" r="7.2"/><circle cx="815.8" cy="516.3" r="7.2"/><circle cx="822.5" cy="515.2" r="7.2"/><circle cx="828.7" cy="514.3" r="7.2"/>
<circle cx="567.6" cy="395.7" r="7.2"/><circle cx="696.2" cy="466.4" r="7.2"/><circle cx="699.1" cy="466.3" r="7.2"/><circle cx="701.9" cy="466.5" r="7.2"/><circle cx="705.2" cy="467.2" r="7.2"/><circle cx="708.4" cy="467.3" r="7.2"/>
<circle cx="711.6" cy="467.8" r="7.2"/><circle cx="714.3" cy="468.1" r="7.2"/><circle cx="383.0" cy="366.9" r="7.2"/><circle cx="380.8" cy="358.2" r="7.2"/><circle cx="355.4" cy="319.0" r="7.2"/><circle cx="406.4" cy="436.8" r="7.2"/>
<circle cx="796.8" cy="400.3" r="7.2"/><circle cx="791.3" cy="396.1" r="7.2"/><circle cx="786.1" cy="391.7" r="7.2"/><circle cx="780.9" cy="386.6" r="7.2"/><circle cx="776.0" cy="382.1" r="7.2"/><circle cx="769.9" cy="376.9" r="7.2"/>
<circle cx="779.1" cy="460.4" r="7.2"/><circle cx="771.7" cy="457.6" r="7.2"/><circle cx="763.4" cy="455.3" r="7.2"/><circle cx="755.9" cy="453.5" r="7.2"/><circle cx="693.0" cy="458.4" r="7.2"/><circle cx="699.0" cy="462.7" r="7.2"/>
<circle cx="705.3" cy="467.3" r="7.2"/><circle cx="591.9" cy="421.7" r="7.2"/><circle cx="596.3" cy="425.0" r="7.2"/><circle cx="601.1" cy="427.6" r="7.2"/><circle cx="606.5" cy="430.7" r="7.2"/><circle cx="612.0" cy="433.0" r="7.2"/>
<circle cx="617.4" cy="435.3" r="7.2"/><circle cx="622.4" cy="437.0" r="7.2"/><circle cx="627.4" cy="439.1" r="7.2"/><circle cx="398.3" cy="315.8" r="7.2"/><circle cx="595.1" cy="414.6" r="7.2"/><circle cx="598.8" cy="414.3" r="7.2"/>
<circle cx="602.2" cy="415.1" r="7.2"/><circle cx="605.2" cy="415.2" r="7.2"/><circle cx="608.7" cy="416.2" r="7.2"/><circle cx="704.4" cy="457.2" r="7.2"/><circle cx="698.6" cy="453.4" r="7.2"/><circle cx="494.3" cy="365.0" r="7.2"/>
<circle cx="491.5" cy="363.1" r="7.2"/><circle cx="487.4" cy="362.0" r="7.2"/><circle cx="484.5" cy="360.3" r="7.2"/><circle cx="481.3" cy="358.7" r="7.2"/><circle cx="478.4" cy="357.3" r="7.2"/><circle cx="714.7" cy="399.5" r="7.2"/>
<circle cx="443.8" cy="318.2" r="7.2"/><circle cx="440.6" cy="316.0" r="7.2"/><circle cx="437.4" cy="314.5" r="7.2"/><circle cx="434.2" cy="313.0" r="7.2"/><circle cx="773.0" cy="470.0" r="7.2"/><circle cx="779.6" cy="469.2" r="7.2"/>
<circle cx="482.8" cy="367.1" r="7.2"/><circle cx="488.9" cy="369.9" r="7.2"/><circle cx="495.0" cy="372.4" r="7.2"/><circle cx="500.9" cy="375.2" r="7.2"/><circle cx="507.2" cy="377.5" r="7.2"/><circle cx="512.6" cy="379.7" r="7.2"/>
<circle cx="518.6" cy="381.9" r="7.2"/><circle cx="524.5" cy="384.0" r="7.2"/><circle cx="530.5" cy="386.2" r="7.2"/><circle cx="536.4" cy="387.7" r="7.2"/><circle cx="542.7" cy="389.5" r="7.2"/><circle cx="548.8" cy="391.8" r="7.2"/>
<circle cx="555.6" cy="392.8" r="7.2"/><circle cx="561.7" cy="394.2" r="7.2"/><circle cx="568.6" cy="396.3" r="7.2"/><circle cx="574.8" cy="397.8" r="7.2"/><circle cx="580.8" cy="399.3" r="7.2"/><circle cx="587.0" cy="400.0" r="7.2"/>
<circle cx="745.1" cy="474.3" r="7.2"/><circle cx="751.3" cy="477.2" r="7.2"/><circle cx="346.3" cy="296.1" r="7.2"/><circle cx="337.7" cy="296.3" r="7.2"/><circle cx="330.1" cy="295.5" r="7.2"/><circle cx="435.2" cy="390.8" r="7.2"/>
<circle cx="443.5" cy="389.7" r="7.2"/><circle cx="451.8" cy="389.3" r="7.2"/><circle cx="388.6" cy="395.2" r="7.2"/><circle cx="381.3" cy="390.1" r="7.2"/><circle cx="601.3" cy="422.6" r="7.2"/><circle cx="594.5" cy="421.5" r="7.2"/>
<circle cx="588.4" cy="421.3" r="7.2"/><circle cx="581.8" cy="421.3" r="7.2"/><circle cx="575.3" cy="420.9" r="7.2"/><circle cx="569.1" cy="421.4" r="7.2"/><circle cx="562.5" cy="421.4" r="7.2"/><circle cx="555.6" cy="421.0" r="7.2"/>
<circle cx="467.7" cy="370.4" r="7.2"/><circle cx="474.4" cy="371.6" r="7.2"/><circle cx="481.1" cy="373.0" r="7.2"/><circle cx="736.3" cy="486.7" r="7.2"/><circle cx="735.8" cy="480.2" r="7.2"/><circle cx="735.3" cy="474.0" r="7.2"/>
<circle cx="736.0" cy="468.3" r="7.2"/><circle cx="517.1" cy="366.5" r="7.2"/><circle cx="510.5" cy="365.9" r="7.2"/><circle cx="503.9" cy="365.2" r="7.2"/><circle cx="496.5" cy="365.4" r="7.2"/><circle cx="489.4" cy="364.8" r="7.2"/>
<circle cx="482.1" cy="365.5" r="7.2"/><circle cx="475.5" cy="365.7" r="7.2"/><circle cx="468.0" cy="365.3" r="7.2"/><circle cx="739.8" cy="463.5" r="7.2"/><circle cx="655.5" cy="427.7" r="7.2"/><circle cx="660.9" cy="429.3" r="7.2"/>
<circle cx="665.2" cy="431.0" r="7.2"/><circle cx="670.0" cy="432.6" r="7.2"/><circle cx="675.2" cy="433.9" r="7.2"/><circle cx="680.6" cy="435.2" r="7.2"/><circle cx="685.1" cy="437.3" r="7.2"/><circle cx="689.5" cy="439.3" r="7.2"/>
<circle cx="805.7" cy="532.9" r="7.2"/><circle cx="352.1" cy="355.4" r="7.2"/><circle cx="355.2" cy="347.8" r="7.2"/><circle cx="526.1" cy="314.0" r="7.2"/><circle cx="533.6" cy="312.7" r="7.2"/><circle cx="540.3" cy="311.4" r="7.2"/>
<circle cx="773.7" cy="474.2" r="7.2"/><circle cx="762.2" cy="473.4" r="7.2"/><circle cx="751.6" cy="472.0" r="7.2"/><circle cx="741.3" cy="469.9" r="7.2"/><circle cx="730.7" cy="467.6" r="7.2"/><circle cx="702.5" cy="447.9" r="7.2"/>
<circle cx="695.4" cy="447.6" r="7.2"/><circle cx="688.9" cy="447.5" r="7.2"/><circle cx="682.5" cy="446.4" r="7.2"/><circle cx="676.1" cy="446.1" r="7.2"/><circle cx="669.3" cy="446.1" r="7.2"/><circle cx="514.7" cy="455.6" r="7.2"/>
<circle cx="522.5" cy="459.7" r="7.2"/><circle cx="531.1" cy="463.9" r="7.2"/><circle cx="412.1" cy="418.9" r="7.2"/><circle cx="493.0" cy="295.8" r="7.2"/><circle cx="486.1" cy="291.0" r="7.2"/><circle cx="480.2" cy="286.1" r="7.2"/>
<circle cx="473.7" cy="280.3" r="7.2"/><circle cx="530.3" cy="467.0" r="7.2"/><circle cx="462.0" cy="288.1" r="7.2"/><circle cx="470.4" cy="293.3" r="7.2"/><circle cx="479.7" cy="298.2" r="7.2"/><circle cx="487.8" cy="303.5" r="7.2"/>
<circle cx="496.0" cy="308.4" r="7.2"/><circle cx="504.7" cy="314.2" r="7.2"/><circle cx="743.9" cy="398.0" r="7.2"/><circle cx="508.3" cy="342.4" r="7.2"/><circle cx="514.5" cy="342.4" r="7.2"/><circle cx="520.5" cy="342.8" r="7.2"/>
<circle cx="527.3" cy="342.6" r="7.2"/><circle cx="813.5" cy="525.3" r="7.2"/><circle cx="825.3" cy="530.5" r="7.2"/><circle cx="836.2" cy="535.8" r="7.2"/><circle cx="739.5" cy="444.3" r="7.2"/><circle cx="629.9" cy="394.4" r="7.2"/>
<circle cx="637.4" cy="398.8" r="7.2"/><circle cx="645.3" cy="402.9" r="7.2"/><circle cx="653.1" cy="405.5" r="7.2"/><circle cx="661.6" cy="407.9" r="7.2"/><circle cx="671.0" cy="409.2" r="7.2"/><circle cx="679.1" cy="409.8" r="7.2"/>
<circle cx="688.5" cy="409.3" r="7.2"/><circle cx="663.4" cy="443.0" r="7.2"/><circle cx="658.0" cy="442.4" r="7.2"/><circle cx="652.1" cy="441.8" r="7.2"/><circle cx="646.4" cy="441.1" r="7.2"/><circle cx="641.6" cy="440.4" r="7.2"/>
<circle cx="636.2" cy="439.3" r="7.2"/><circle cx="630.9" cy="438.6" r="7.2"/><circle cx="625.5" cy="437.3" r="7.2"/><circle cx="620.0" cy="435.3" r="7.2"/><circle cx="614.3" cy="433.1" r="7.2"/><circle cx="608.8" cy="430.5" r="7.2"/>
<circle cx="603.6" cy="428.6" r="7.2"/><circle cx="598.0" cy="426.7" r="7.2"/><circle cx="592.9" cy="424.5" r="7.2"/><circle cx="587.9" cy="422.3" r="7.2"/><circle cx="583.4" cy="419.0" r="7.2"/><circle cx="578.8" cy="415.8" r="7.2"/>
<circle cx="574.5" cy="412.5" r="7.2"/><circle cx="410.7" cy="421.9" r="7.2"/><circle cx="400.9" cy="424.4" r="7.2"/><circle cx="391.6" cy="427.3" r="7.2"/><circle cx="580.9" cy="410.8" r="7.2"/><circle cx="574.0" cy="405.7" r="7.2"/>
<circle cx="566.2" cy="402.0" r="7.2"/><circle cx="558.5" cy="398.2" r="7.2"/><circle cx="549.9" cy="394.3" r="7.2"/><circle cx="541.3" cy="391.3" r="7.2"/><circle cx="532.6" cy="388.5" r="7.2"/><circle cx="523.8" cy="386.6" r="7.2"/>
<circle cx="796.9" cy="454.2" r="7.2"/><circle cx="801.6" cy="453.2" r="7.2"/><circle cx="806.2" cy="452.2" r="7.2"/><circle cx="810.4" cy="450.9" r="7.2"/><circle cx="335.0" cy="340.0" r="7.2"/><circle cx="382.1" cy="335.1" r="7.2"/>
<circle cx="376.6" cy="330.7" r="7.2"/><circle cx="371.8" cy="327.0" r="7.2"/><circle cx="474.6" cy="432.7" r="7.2"/><circle cx="468.0" cy="423.3" r="7.2"/><circle cx="461.0" cy="412.8" r="7.2"/><circle cx="455.4" cy="402.0" r="7.2"/>
<circle cx="449.7" cy="391.9" r="7.2"/><circle cx="444.6" cy="381.5" r="7.2"/><circle cx="568.5" cy="380.3" r="7.2"/><circle cx="525.2" cy="410.0" r="7.2"/><circle cx="555.4" cy="412.1" r="7.2"/><circle cx="560.9" cy="412.3" r="7.2"/>
<circle cx="566.2" cy="411.6" r="7.2"/><circle cx="716.6" cy="465.3" r="7.2"/><circle cx="708.3" cy="462.8" r="7.2"/><circle cx="700.5" cy="461.1" r="7.2"/><circle cx="691.9" cy="459.8" r="7.2"/><circle cx="683.2" cy="458.9" r="7.2"/>
<circle cx="674.9" cy="458.3" r="7.2"/><circle cx="666.7" cy="458.3" r="7.2"/><circle cx="658.5" cy="457.8" r="7.2"/><circle cx="650.2" cy="457.8" r="7.2"/><circle cx="641.4" cy="457.7" r="7.2"/><circle cx="633.4" cy="458.6" r="7.2"/>
<circle cx="625.7" cy="459.7" r="7.2"/><circle cx="706.4" cy="437.7" r="7.2"/><circle cx="709.5" cy="440.1" r="7.2"/><circle cx="713.0" cy="441.6" r="7.2"/><circle cx="506.8" cy="338.4" r="7.2"/><circle cx="511.5" cy="339.7" r="7.2"/>
<circle cx="515.7" cy="341.6" r="7.2"/><circle cx="659.8" cy="366.3" r="7.2"/><circle cx="665.2" cy="366.3" r="7.2"/><circle cx="671.0" cy="366.6" r="7.2"/><circle cx="676.9" cy="367.1" r="7.2"/><circle cx="683.2" cy="367.5" r="7.2"/>
<circle cx="689.1" cy="368.2" r="7.2"/><circle cx="489.0" cy="367.5" r="7.2"/><circle cx="788.8" cy="525.2" r="7.2"/><circle cx="534.4" cy="420.6" r="7.2"/><circle cx="530.2" cy="424.6" r="7.2"/><circle cx="525.2" cy="428.4" r="7.2"/>
<circle cx="519.6" cy="431.7" r="7.2"/><circle cx="514.0" cy="434.5" r="7.2"/><circle cx="508.7" cy="436.4" r="7.2"/><circle cx="503.7" cy="439.1" r="7.2"/><circle cx="712.9" cy="390.3" r="7.2"/><circle cx="716.8" cy="392.6" r="7.2"/>
<circle cx="721.3" cy="394.1" r="7.2"/><circle cx="725.6" cy="395.2" r="7.2"/><circle cx="608.1" cy="436.3" r="7.2"/><circle cx="603.8" cy="435.2" r="7.2"/><circle cx="599.1" cy="433.0" r="7.2"/><circle cx="594.6" cy="430.3" r="7.2"/>
<circle cx="590.8" cy="427.7" r="7.2"/><circle cx="585.9" cy="425.4" r="7.2"/><circle cx="581.2" cy="423.3" r="7.2"/><circle cx="576.9" cy="420.6" r="7.2"/><circle cx="573.5" cy="417.6" r="7.2"/><circle cx="570.2" cy="414.6" r="7.2"/>
<circle cx="536.2" cy="456.5" r="7.2"/><circle cx="509.1" cy="441.1" r="7.2"/><circle cx="512.5" cy="446.7" r="7.2"/><circle cx="515.8" cy="453.3" r="7.2"/><circle cx="519.5" cy="459.8" r="7.2"/><circle cx="523.2" cy="465.5" r="7.2"/>
<circle cx="526.6" cy="471.6" r="7.2"/><circle cx="529.5" cy="478.1" r="7.2"/><circle cx="630.6" cy="463.8" r="7.2"/><circle cx="791.3" cy="494.9" r="7.2"/><circle cx="800.4" cy="497.5" r="7.2"/><circle cx="409.5" cy="262.5" r="7.2"/>
<circle cx="403.4" cy="264.9" r="7.2"/><circle cx="426.6" cy="356.6" r="7.2"/><circle cx="433.7" cy="358.2" r="7.2"/><circle cx="553.2" cy="318.9" r="7.2"/><circle cx="558.4" cy="321.8" r="7.2"/><circle cx="563.5" cy="325.3" r="7.2"/>
<circle cx="568.2" cy="328.1" r="7.2"/><circle cx="573.1" cy="331.5" r="7.2"/><circle cx="460.6" cy="348.1" r="7.2"/><circle cx="457.6" cy="346.6" r="7.2"/><circle cx="454.2" cy="345.1" r="7.2"/><circle cx="451.2" cy="344.0" r="7.2"/>
<circle cx="447.1" cy="343.0" r="7.2"/><circle cx="443.1" cy="341.8" r="7.2"/><circle cx="439.1" cy="340.6" r="7.2"/><circle cx="435.8" cy="339.8" r="7.2"/><circle cx="432.0" cy="338.1" r="7.2"/><circle cx="428.3" cy="337.7" r="7.2"/>
<circle cx="424.8" cy="336.9" r="7.2"/><circle cx="421.6" cy="336.1" r="7.2"/><circle cx="418.6" cy="335.9" r="7.2"/><circle cx="415.3" cy="335.5" r="7.2"/><circle cx="411.1" cy="334.4" r="7.2"/><circle cx="762.7" cy="478.7" r="7.2"/>
<circle cx="418.5" cy="334.1" r="7.2"/><circle cx="486.7" cy="411.4" r="7.2"/><circle cx="492.3" cy="422.6" r="7.2"/><circle cx="413.1" cy="387.0" r="7.2"/><circle cx="404.1" cy="386.3" r="7.2"/><circle cx="395.3" cy="386.0" r="7.2"/>
<circle cx="386.3" cy="386.6" r="7.2"/><circle cx="377.1" cy="387.6" r="7.2"/><circle cx="368.5" cy="388.7" r="7.2"/><circle cx="359.2" cy="390.9" r="7.2"/><circle cx="723.2" cy="474.2" r="7.2"/><circle cx="420.1" cy="403.2" r="7.2"/>
<circle cx="410.8" cy="409.7" r="7.2"/><circle cx="401.5" cy="415.2" r="7.2"/><circle cx="393.5" cy="421.0" r="7.2"/><circle cx="385.4" cy="426.7" r="7.2"/><circle cx="377.5" cy="432.2" r="7.2"/><circle cx="369.1" cy="437.8" r="7.2"/>
<circle cx="602.5" cy="414.8" r="7.2"/><circle cx="607.1" cy="417.7" r="7.2"/><circle cx="611.4" cy="420.2" r="7.2"/><circle cx="527.3" cy="377.1" r="7.2"/><circle cx="431.8" cy="460.3" r="7.2"/><circle cx="432.0" cy="450.4" r="7.2"/>
<circle cx="697.8" cy="462.1" r="7.2"/><circle cx="705.1" cy="462.5" r="7.2"/><circle cx="712.3" cy="463.4" r="7.2"/><circle cx="718.6" cy="464.2" r="7.2"/><circle cx="396.9" cy="412.3" r="7.2"/><circle cx="764.4" cy="510.9" r="7.2"/>
<circle cx="413.9" cy="388.9" r="7.2"/><circle cx="418.7" cy="383.6" r="7.2"/><circle cx="424.1" cy="377.8" r="7.2"/><circle cx="541.9" cy="358.8" r="7.2"/><circle cx="544.8" cy="360.9" r="7.2"/><circle cx="547.3" cy="363.5" r="7.2"/>
<circle cx="550.2" cy="365.3" r="7.2"/><circle cx="553.5" cy="367.9" r="7.2"/><circle cx="557.2" cy="369.8" r="7.2"/><circle cx="560.0" cy="372.2" r="7.2"/><circle cx="562.9" cy="373.7" r="7.2"/><circle cx="565.9" cy="375.4" r="7.2"/>
<circle cx="568.6" cy="377.6" r="7.2"/><circle cx="571.5" cy="379.7" r="7.2"/><circle cx="574.3" cy="381.0" r="7.2"/><circle cx="577.7" cy="383.2" r="7.2"/><circle cx="581.1" cy="385.1" r="7.2"/><circle cx="583.7" cy="386.9" r="7.2"/>
<circle cx="587.3" cy="389.1" r="7.2"/><circle cx="590.6" cy="391.0" r="7.2"/><circle cx="593.3" cy="392.1" r="7.2"/><circle cx="430.4" cy="343.9" r="7.2"/><circle cx="434.4" cy="344.6" r="7.2"/><circle cx="438.5" cy="345.2" r="7.2"/>
<circle cx="443.5" cy="346.6" r="7.2"/><circle cx="447.8" cy="347.2" r="7.2"/><circle cx="452.7" cy="348.2" r="7.2"/><circle cx="457.4" cy="349.2" r="7.2"/><circle cx="461.4" cy="350.1" r="7.2"/><circle cx="465.7" cy="351.2" r="7.2"/>
<circle cx="470.1" cy="353.0" r="7.2"/><circle cx="473.9" cy="354.0" r="7.2"/><circle cx="478.2" cy="355.4" r="7.2"/><circle cx="482.3" cy="356.8" r="7.2"/><circle cx="486.1" cy="357.9" r="7.2"/><circle cx="490.6" cy="359.7" r="7.2"/>
<circle cx="495.0" cy="361.6" r="7.2"/><circle cx="499.2" cy="362.9" r="7.2"/><circle cx="504.0" cy="364.7" r="7.2"/><circle cx="440.4" cy="284.3" r="7.2"/><circle cx="429.5" cy="282.7" r="7.2"/><circle cx="420.0" cy="280.9" r="7.2"/>
<circle cx="410.1" cy="278.5" r="7.2"/><circle cx="425.4" cy="438.1" r="7.2"/><circle cx="385.9" cy="309.0" r="7.2"/><circle cx="391.6" cy="313.7" r="7.2"/><circle cx="397.4" cy="319.6" r="7.2"/><circle cx="403.6" cy="325.3" r="7.2"/>
<circle cx="410.3" cy="330.3" r="7.2"/><circle cx="415.8" cy="334.5" r="7.2"/><circle cx="586.3" cy="368.5" r="7.2"/><circle cx="582.4" cy="368.0" r="7.2"/><circle cx="579.0" cy="367.7" r="7.2"/><circle cx="575.6" cy="366.6" r="7.2"/>
<circle cx="571.6" cy="366.3" r="7.2"/><circle cx="567.1" cy="365.1" r="7.2"/><circle cx="563.2" cy="364.6" r="7.2"/><circle cx="558.7" cy="364.6" r="7.2"/><circle cx="555.3" cy="364.7" r="7.2"/><circle cx="552.0" cy="363.9" r="7.2"/>
<circle cx="669.6" cy="391.0" r="7.2"/><circle cx="675.2" cy="391.7" r="7.2"/><circle cx="680.9" cy="392.3" r="7.2"/><circle cx="482.0" cy="315.9" r="7.2"/><circle cx="490.6" cy="321.2" r="7.2"/><circle cx="702.9" cy="444.2" r="7.2"/>
<circle cx="708.2" cy="445.5" r="7.2"/><circle cx="713.0" cy="446.7" r="7.2"/><circle cx="719.0" cy="448.3" r="7.2"/><circle cx="295.5" cy="239.0" r="7.2"/><circle cx="301.8" cy="242.1" r="7.2"/><circle cx="307.9" cy="244.5" r="7.2"/>
<circle cx="314.0" cy="246.8" r="7.2"/><circle cx="320.7" cy="249.2" r="7.2"/><circle cx="327.4" cy="251.7" r="7.2"/><circle cx="333.4" cy="253.8" r="7.2"/><circle cx="340.1" cy="256.6" r="7.2"/><circle cx="370.4" cy="300.6" r="7.2"/>
<circle cx="379.1" cy="300.9" r="7.2"/><circle cx="388.4" cy="300.2" r="7.2"/><circle cx="397.5" cy="300.4" r="7.2"/><circle cx="406.6" cy="298.9" r="7.2"/><circle cx="393.1" cy="351.9" r="7.2"/><circle cx="397.6" cy="354.2" r="7.2"/>
<circle cx="401.8" cy="356.4" r="7.2"/><circle cx="406.4" cy="357.9" r="7.2"/><circle cx="410.8" cy="360.2" r="7.2"/><circle cx="414.8" cy="361.5" r="7.2"/><circle cx="419.8" cy="363.2" r="7.2"/><circle cx="423.8" cy="364.5" r="7.2"/>
<circle cx="427.6" cy="366.3" r="7.2"/><circle cx="431.6" cy="367.1" r="7.2"/><circle cx="436.2" cy="367.9" r="7.2"/><circle cx="441.4" cy="369.1" r="7.2"/><circle cx="445.7" cy="370.5" r="7.2"/><circle cx="450.0" cy="372.0" r="7.2"/>
<circle cx="455.2" cy="373.4" r="7.2"/><circle cx="382.9" cy="303.1" r="7.2"/><circle cx="803.3" cy="399.8" r="7.2"/><circle cx="793.6" cy="391.7" r="7.2"/><circle cx="785.1" cy="384.5" r="7.2"/><circle cx="775.5" cy="376.2" r="7.2"/>
<circle cx="821.2" cy="433.8" r="7.2"/><circle cx="815.5" cy="431.5" r="7.2"/><circle cx="809.6" cy="429.3" r="7.2"/><circle cx="803.2" cy="428.1" r="7.2"/><circle cx="797.0" cy="426.4" r="7.2"/><circle cx="791.2" cy="425.3" r="7.2"/>
<circle cx="784.3" cy="424.9" r="7.2"/><circle cx="778.1" cy="424.0" r="7.2"/><circle cx="771.5" cy="423.3" r="7.2"/><circle cx="765.6" cy="423.9" r="7.2"/><circle cx="759.1" cy="423.7" r="7.2"/><circle cx="753.3" cy="424.9" r="7.2"/>
<circle cx="751.9" cy="382.3" r="7.2"/><circle cx="526.5" cy="408.3" r="7.2"/><circle cx="538.1" cy="411.7" r="7.2"/><circle cx="449.4" cy="364.0" r="7.2"/><circle cx="455.8" cy="363.2" r="7.2"/><circle cx="361.4" cy="269.9" r="7.2"/>
<circle cx="605.1" cy="410.4" r="7.2"/><circle cx="602.8" cy="408.6" r="7.2"/><circle cx="600.7" cy="407.0" r="7.2"/><circle cx="598.2" cy="405.5" r="7.2"/><circle cx="595.8" cy="404.2" r="7.2"/><circle cx="594.0" cy="402.0" r="7.2"/>
<circle cx="592.2" cy="399.7" r="7.2"/><circle cx="590.2" cy="397.0" r="7.2"/><circle cx="588.3" cy="394.4" r="7.2"/><circle cx="587.0" cy="392.2" r="7.2"/><circle cx="585.0" cy="390.4" r="7.2"/><circle cx="582.8" cy="388.1" r="7.2"/>
<circle cx="581.4" cy="384.8" r="7.2"/><circle cx="579.9" cy="381.5" r="7.2"/><circle cx="579.3" cy="378.1" r="7.2"/><circle cx="578.3" cy="375.2" r="7.2"/><circle cx="576.8" cy="372.9" r="7.2"/><circle cx="576.0" cy="370.1" r="7.2"/>
<circle cx="360.3" cy="330.9" r="7.2"/><circle cx="355.9" cy="331.2" r="7.2"/><circle cx="351.3" cy="331.3" r="7.2"/><circle cx="347.4" cy="330.1" r="7.2"/><circle cx="343.2" cy="329.4" r="7.2"/><circle cx="338.8" cy="328.7" r="7.2"/>
<circle cx="334.8" cy="327.0" r="7.2"/><circle cx="330.2" cy="326.0" r="7.2"/><circle cx="379.5" cy="384.7" r="7.2"/><circle cx="834.9" cy="449.4" r="7.2"/><circle cx="510.8" cy="348.8" r="7.2"/><circle cx="507.0" cy="345.1" r="7.2"/>
<circle cx="502.6" cy="340.8" r="7.2"/><circle cx="498.5" cy="336.8" r="7.2"/><circle cx="493.9" cy="332.3" r="7.2"/><circle cx="489.7" cy="328.7" r="7.2"/><circle cx="485.8" cy="324.2" r="7.2"/><circle cx="481.0" cy="320.4" r="7.2"/>
<circle cx="798.4" cy="427.1" r="7.2"/><circle cx="794.0" cy="424.8" r="7.2"/><circle cx="789.8" cy="422.1" r="7.2"/><circle cx="785.3" cy="419.7" r="7.2"/><circle cx="780.9" cy="417.0" r="7.2"/><circle cx="396.7" cy="407.8" r="7.2"/>
<circle cx="389.8" cy="399.9" r="7.2"/><circle cx="382.7" cy="391.8" r="7.2"/><circle cx="376.6" cy="383.5" r="7.2"/><circle cx="419.0" cy="355.6" r="7.2"/><circle cx="426.7" cy="353.9" r="7.2"/><circle cx="433.9" cy="352.3" r="7.2"/>
<circle cx="441.7" cy="351.9" r="7.2"/><circle cx="449.0" cy="351.8" r="7.2"/><circle cx="456.2" cy="351.9" r="7.2"/><circle cx="464.1" cy="352.2" r="7.2"/><circle cx="471.8" cy="352.9" r="7.2"/><circle cx="479.9" cy="354.1" r="7.2"/>
<circle cx="488.0" cy="356.8" r="7.2"/><circle cx="496.0" cy="359.0" r="7.2"/><circle cx="503.5" cy="361.2" r="7.2"/><circle cx="312.2" cy="249.8" r="7.2"/><circle cx="300.8" cy="249.6" r="7.2"/><circle cx="597.0" cy="429.7" r="7.2"/>
<circle cx="590.7" cy="427.7" r="7.2"/><circle cx="584.4" cy="426.0" r="7.2"/><circle cx="577.1" cy="425.1" r="7.2"/><circle cx="569.8" cy="424.7" r="7.2"/><circle cx="397.2" cy="288.0" r="7.2"/><circle cx="404.7" cy="288.5" r="7.2"/>
<circle cx="411.6" cy="289.9" r="7.2"/><circle cx="417.7" cy="291.3" r="7.2"/><circle cx="424.3" cy="293.3" r="7.2"/><circle cx="626.7" cy="420.1" r="7.2"/><circle cx="634.8" cy="421.3" r="7.2"/><circle cx="642.9" cy="422.5" r="7.2"/>
<circle cx="650.7" cy="424.2" r="7.2"/><circle cx="658.5" cy="425.8" r="7.2"/><circle cx="666.1" cy="427.1" r="7.2"/><circle cx="674.0" cy="428.6" r="7.2"/><circle cx="681.6" cy="430.1" r="7.2"/><circle cx="689.0" cy="431.9" r="7.2"/>
<circle cx="697.2" cy="433.2" r="7.2"/><circle cx="705.1" cy="435.1" r="7.2"/><circle cx="712.9" cy="437.2" r="7.2"/><circle cx="798.0" cy="436.7" r="7.2"/><circle cx="801.2" cy="436.5" r="7.2"/><circle cx="804.7" cy="436.3" r="7.2"/>
<circle cx="808.6" cy="435.5" r="7.2"/><circle cx="811.2" cy="435.4" r="7.2"/><circle cx="488.7" cy="294.6" r="7.2"/><circle cx="401.7" cy="427.9" r="7.2"/><circle cx="356.3" cy="369.2" r="7.2"/><circle cx="364.0" cy="372.9" r="7.2"/>
<circle cx="371.2" cy="376.8" r="7.2"/><circle cx="377.6" cy="380.6" r="7.2"/><circle cx="384.1" cy="384.5" r="7.2"/><circle cx="391.1" cy="388.3" r="7.2"/><circle cx="397.5" cy="393.2" r="7.2"/><circle cx="627.8" cy="434.8" r="7.2"/>
<circle cx="632.9" cy="436.0" r="7.2"/><circle cx="636.9" cy="437.8" r="7.2"/><circle cx="473.6" cy="368.8" r="7.2"/><circle cx="482.0" cy="370.8" r="7.2"/><circle cx="490.7" cy="373.7" r="7.2"/><circle cx="498.2" cy="377.2" r="7.2"/>
<circle cx="506.5" cy="380.9" r="7.2"/><circle cx="514.0" cy="385.4" r="7.2"/><circle cx="714.8" cy="424.3" r="7.2"/><circle cx="706.2" cy="421.6" r="7.2"/><circle cx="698.0" cy="418.6" r="7.2"/><circle cx="689.1" cy="416.3" r="7.2"/>
<circle cx="593.6" cy="374.7" r="7.2"/><circle cx="670.9" cy="428.3" r="7.2"/><circle cx="673.6" cy="428.6" r="7.2"/><circle cx="677.5" cy="428.6" r="7.2"/><circle cx="680.7" cy="428.4" r="7.2"/><circle cx="683.5" cy="428.4" r="7.2"/>
<circle cx="687.1" cy="427.4" r="7.2"/><circle cx="690.1" cy="426.3" r="7.2"/><circle cx="693.7" cy="424.9" r="7.2"/><circle cx="652.0" cy="392.3" r="7.2"/><circle cx="657.2" cy="395.1" r="7.2"/><circle cx="663.2" cy="396.9" r="7.2"/>
<circle cx="700.8" cy="459.9" r="7.2"/><circle cx="693.8" cy="457.2" r="7.2"/><circle cx="687.3" cy="454.4" r="7.2"/><circle cx="715.7" cy="419.2" r="7.2"/><circle cx="723.0" cy="420.4" r="7.2"/><circle cx="730.0" cy="422.1" r="7.2"/>
<circle cx="737.0" cy="424.1" r="7.2"/><circle cx="744.8" cy="426.3" r="7.2"/><circle cx="752.5" cy="428.3" r="7.2"/><circle cx="760.2" cy="430.7" r="7.2"/><circle cx="766.4" cy="433.8" r="7.2"/><circle cx="773.0" cy="436.4" r="7.2"/>
<circle cx="779.7" cy="440.3" r="7.2"/><circle cx="429.8" cy="308.7" r="7.2"/><circle cx="436.3" cy="310.9" r="7.2"/><circle cx="443.2" cy="313.2" r="7.2"/><circle cx="449.3" cy="315.3" r="7.2"/><circle cx="456.4" cy="317.2" r="7.2"/>
<circle cx="462.8" cy="319.4" r="7.2"/><circle cx="468.6" cy="322.2" r="7.2"/><circle cx="475.7" cy="323.9" r="7.2"/><circle cx="812.1" cy="455.4" r="7.2"/><circle cx="610.2" cy="433.5" r="7.2"/><circle cx="438.2" cy="325.5" r="7.2"/>
<circle cx="458.4" cy="369.8" r="7.2"/><circle cx="465.6" cy="370.8" r="7.2"/><circle cx="472.5" cy="371.4" r="7.2"/><circle cx="478.7" cy="371.5" r="7.2"/><circle cx="556.3" cy="397.7" r="7.2"/><circle cx="680.0" cy="414.6" r="7.2"/>
<circle cx="675.7" cy="413.6" r="7.2"/><circle cx="670.3" cy="412.4" r="7.2"/><circle cx="665.1" cy="411.1" r="7.2"/><circle cx="660.7" cy="410.2" r="7.2"/><circle cx="655.4" cy="408.5" r="7.2"/><circle cx="651.4" cy="407.3" r="7.2"/>
<circle cx="646.2" cy="406.0" r="7.2"/><circle cx="641.2" cy="403.9" r="7.2"/><circle cx="636.7" cy="401.8" r="7.2"/><circle cx="299.1" cy="254.1" r="7.2"/><circle cx="293.6" cy="251.7" r="7.2"/><circle cx="708.2" cy="457.2" r="7.2"/>
<circle cx="705.7" cy="454.9" r="7.2"/><circle cx="702.8" cy="453.0" r="7.2"/><circle cx="699.8" cy="450.9" r="7.2"/><circle cx="696.7" cy="448.7" r="7.2"/><circle cx="693.7" cy="446.4" r="7.2"/><circle cx="691.2" cy="443.0" r="7.2"/>
<circle cx="688.6" cy="440.3" r="7.2"/><circle cx="542.0" cy="370.7" r="7.2"/><circle cx="539.7" cy="369.9" r="7.2"/><circle cx="537.0" cy="368.5" r="7.2"/><circle cx="534.3" cy="367.8" r="7.2"/><circle cx="531.0" cy="366.3" r="7.2"/>
<circle cx="528.0" cy="365.4" r="7.2"/><circle cx="525.6" cy="364.5" r="7.2"/><circle cx="522.4" cy="363.8" r="7.2"/><circle cx="518.9" cy="362.3" r="7.2"/><circle cx="515.3" cy="361.5" r="7.2"/><circle cx="512.5" cy="360.6" r="7.2"/>
<circle cx="509.6" cy="359.3" r="7.2"/><circle cx="506.2" cy="358.6" r="7.2"/><circle cx="503.0" cy="357.8" r="7.2"/><circle cx="500.6" cy="357.0" r="7.2"/><circle cx="498.0" cy="355.7" r="7.2"/><circle cx="494.9" cy="354.4" r="7.2"/>
<circle cx="491.5" cy="353.4" r="7.2"/><circle cx="634.3" cy="445.7" r="7.2"/><circle cx="641.8" cy="448.9" r="7.2"/><circle cx="649.4" cy="452.4" r="7.2"/><circle cx="657.6" cy="455.6" r="7.2"/><circle cx="665.2" cy="459.5" r="7.2"/>
<circle cx="672.4" cy="462.8" r="7.2"/><circle cx="680.4" cy="466.1" r="7.2"/><circle cx="688.2" cy="470.4" r="7.2"/><circle cx="526.2" cy="331.4" r="7.2"/><circle cx="655.0" cy="381.2" r="7.2"/><circle cx="649.3" cy="379.4" r="7.2"/>
<circle cx="622.9" cy="398.9" r="7.2"/><circle cx="619.8" cy="395.7" r="7.2"/><circle cx="616.8" cy="392.1" r="7.2"/><circle cx="613.2" cy="389.5" r="7.2"/><circle cx="609.4" cy="386.0" r="7.2"/><circle cx="605.4" cy="383.8" r="7.2"/>
<circle cx="782.6" cy="453.8" r="7.2"/><circle cx="776.6" cy="451.6" r="7.2"/><circle cx="771.7" cy="450.3" r="7.2"/><circle cx="765.8" cy="448.1" r="7.2"/><circle cx="760.1" cy="446.4" r="7.2"/><circle cx="754.1" cy="445.3" r="7.2"/>
<circle cx="748.1" cy="443.9" r="7.2"/><circle cx="742.2" cy="442.8" r="7.2"/><circle cx="736.1" cy="441.5" r="7.2"/><circle cx="730.9" cy="439.7" r="7.2"/><circle cx="724.9" cy="438.1" r="7.2"/><circle cx="719.7" cy="437.5" r="7.2"/>
<circle cx="678.0" cy="410.7" r="7.2"/><circle cx="706.0" cy="429.0" r="7.2"/><circle cx="709.3" cy="430.0" r="7.2"/><circle cx="712.1" cy="431.0" r="7.2"/><circle cx="714.9" cy="432.7" r="7.2"/><circle cx="648.8" cy="404.9" r="7.2"/>
<circle cx="652.9" cy="404.9" r="7.2"/><circle cx="746.6" cy="405.9" r="7.2"/><circle cx="741.9" cy="406.8" r="7.2"/><circle cx="738.1" cy="408.1" r="7.2"/><circle cx="733.9" cy="409.9" r="7.2"/><circle cx="730.0" cy="411.0" r="7.2"/>
<circle cx="725.5" cy="411.7" r="7.2"/><circle cx="616.4" cy="455.8" r="7.2"/><circle cx="624.6" cy="457.9" r="7.2"/><circle cx="631.9" cy="460.5" r="7.2"/><circle cx="640.3" cy="462.2" r="7.2"/><circle cx="647.7" cy="464.4" r="7.2"/>
<circle cx="655.6" cy="466.0" r="7.2"/><circle cx="664.2" cy="467.9" r="7.2"/><circle cx="685.4" cy="404.5" r="7.2"/><circle cx="678.2" cy="401.5" r="7.2"/><circle cx="671.4" cy="397.9" r="7.2"/><circle cx="665.0" cy="394.0" r="7.2"/>
<circle cx="658.1" cy="390.7" r="7.2"/><circle cx="650.9" cy="386.8" r="7.2"/><circle cx="644.9" cy="383.2" r="7.2"/><circle cx="638.5" cy="378.7" r="7.2"/><circle cx="665.2" cy="441.4" r="7.2"/><circle cx="670.5" cy="443.0" r="7.2"/>
<circle cx="675.6" cy="444.8" r="7.2"/><circle cx="680.6" cy="446.1" r="7.2"/><circle cx="722.3" cy="416.9" r="7.2"/><circle cx="718.5" cy="416.9" r="7.2"/><circle cx="715.2" cy="415.9" r="7.2"/><circle cx="710.6" cy="415.3" r="7.2"/>
<circle cx="706.7" cy="414.7" r="7.2"/><circle cx="702.5" cy="414.3" r="7.2"/><circle cx="698.0" cy="413.9" r="7.2"/><circle cx="694.6" cy="412.8" r="7.2"/><circle cx="690.3" cy="412.0" r="7.2"/><circle cx="686.4" cy="411.4" r="7.2"/>
<circle cx="682.6" cy="409.5" r="7.2"/><circle cx="678.2" cy="408.5" r="7.2"/><circle cx="674.4" cy="406.8" r="7.2"/><circle cx="670.4" cy="404.8" r="7.2"/><circle cx="667.0" cy="403.1" r="7.2"/><circle cx="663.6" cy="400.9" r="7.2"/>
<circle cx="659.8" cy="398.8" r="7.2"/><circle cx="657.0" cy="396.4" r="7.2"/><circle cx="467.0" cy="329.1" r="7.2"/><circle cx="471.4" cy="330.3" r="7.2"/><circle cx="475.5" cy="332.2" r="7.2"/><circle cx="480.3" cy="334.0" r="7.2"/>
<circle cx="484.9" cy="334.9" r="7.2"/><circle cx="489.7" cy="335.8" r="7.2"/><circle cx="494.3" cy="337.6" r="7.2"/><circle cx="498.6" cy="338.4" r="7.2"/><circle cx="503.5" cy="339.0" r="7.2"/><circle cx="507.8" cy="339.6" r="7.2"/>
<circle cx="511.6" cy="339.8" r="7.2"/><circle cx="515.7" cy="340.7" r="7.2"/><circle cx="479.7" cy="350.8" r="7.2"/><circle cx="487.8" cy="353.0" r="7.2"/><circle cx="723.9" cy="450.8" r="7.2"/><circle cx="718.7" cy="452.4" r="7.2"/>
<circle cx="712.8" cy="454.1" r="7.2"/><circle cx="707.8" cy="454.9" r="7.2"/><circle cx="702.8" cy="456.5" r="7.2"/><circle cx="697.1" cy="457.0" r="7.2"/><circle cx="691.0" cy="457.9" r="7.2"/><circle cx="685.6" cy="458.6" r="7.2"/>
<circle cx="679.7" cy="459.7" r="7.2"/><circle cx="674.6" cy="459.4" r="7.2"/><circle cx="668.4" cy="459.4" r="7.2"/><circle cx="662.4" cy="459.4" r="7.2"/><circle cx="656.7" cy="458.8" r="7.2"/><circle cx="650.9" cy="457.8" r="7.2"/>
<circle cx="644.6" cy="456.8" r="7.2"/><circle cx="639.2" cy="455.3" r="7.2"/><circle cx="633.0" cy="454.0" r="7.2"/><circle cx="627.9" cy="452.1" r="7.2"/><circle cx="628.8" cy="400.3" r="7.2"/><circle cx="633.3" cy="403.2" r="7.2"/>
<circle cx="637.3" cy="405.8" r="7.2"/><circle cx="641.2" cy="408.9" r="7.2"/><circle cx="404.2" cy="304.3" r="7.2"/><circle cx="406.7" cy="305.2" r="7.2"/><circle cx="410.3" cy="305.5" r="7.2"/><circle cx="413.4" cy="306.4" r="7.2"/>
<circle cx="416.1" cy="306.8" r="7.2"/><circle cx="419.5" cy="307.2" r="7.2"/><circle cx="422.2" cy="307.6" r="7.2"/><circle cx="426.0" cy="308.9" r="7.2"/><circle cx="428.7" cy="309.8" r="7.2"/><circle cx="431.8" cy="309.9" r="7.2"/>
<circle cx="434.7" cy="310.8" r="7.2"/><circle cx="437.2" cy="312.2" r="7.2"/><circle cx="549.9" cy="312.8" r="7.2"/><circle cx="541.3" cy="314.8" r="7.2"/><circle cx="532.8" cy="315.3" r="7.2"/><circle cx="523.9" cy="315.3" r="7.2"/>
<circle cx="515.1" cy="315.0" r="7.2"/><circle cx="506.8" cy="314.6" r="7.2"/><circle cx="497.7" cy="312.9" r="7.2"/><circle cx="489.8" cy="311.7" r="7.2"/><circle cx="779.7" cy="433.0" r="7.2"/><circle cx="774.0" cy="433.2" r="7.2"/>
<circle cx="769.2" cy="432.6" r="7.2"/><circle cx="764.0" cy="432.1" r="7.2"/><circle cx="759.0" cy="431.6" r="7.2"/><circle cx="591.8" cy="455.5" r="7.2"/><circle cx="708.5" cy="444.1" r="7.2"/><circle cx="701.0" cy="445.1" r="7.2"/>
<circle cx="692.4" cy="444.4" r="7.2"/><circle cx="685.1" cy="444.1" r="7.2"/><circle cx="677.2" cy="443.2" r="7.2"/><circle cx="669.9" cy="441.6" r="7.2"/><circle cx="661.9" cy="440.8" r="7.2"/><circle cx="653.8" cy="439.4" r="7.2"/>
<circle cx="471.1" cy="281.1" r="7.2"/><circle cx="460.8" cy="276.0" r="7.2"/><circle cx="423.7" cy="391.9" r="7.2"/><circle cx="433.1" cy="388.5" r="7.2"/><circle cx="442.9" cy="384.6" r="7.2"/><circle cx="494.2" cy="464.0" r="7.2"/>
<circle cx="518.1" cy="347.1" r="7.2"/><circle cx="525.4" cy="347.3" r="7.2"/><circle cx="532.4" cy="347.4" r="7.2"/><circle cx="405.3" cy="311.9" r="7.2"/><circle cx="411.3" cy="311.7" r="7.2"/><circle cx="416.8" cy="311.9" r="7.2"/>
<circle cx="422.5" cy="312.3" r="7.2"/><circle cx="728.1" cy="412.5" r="7.2"/><circle cx="723.6" cy="409.9" r="7.2"/><circle cx="719.8" cy="407.4" r="7.2"/><circle cx="716.1" cy="404.5" r="7.2"/><circle cx="711.5" cy="401.3" r="7.2"/>
<circle cx="706.6" cy="399.0" r="7.2"/><circle cx="701.6" cy="395.9" r="7.2"/><circle cx="697.3" cy="393.8" r="7.2"/><circle cx="674.9" cy="450.7" r="7.2"/><circle cx="681.7" cy="452.4" r="7.2"/><circle cx="687.6" cy="453.7" r="7.2"/>
<circle cx="693.8" cy="454.4" r="7.2"/><circle cx="700.4" cy="454.9" r="7.2"/><circle cx="706.1" cy="455.5" r="7.2"/><circle cx="516.2" cy="454.2" r="7.2"/><circle cx="511.6" cy="450.6" r="7.2"/><circle cx="506.9" cy="446.9" r="7.2"/>
<circle cx="501.6" cy="444.4" r="7.2"/><circle cx="376.3" cy="437.0" r="7.2"/><circle cx="545.9" cy="424.9" r="7.2"/><circle cx="541.5" cy="431.8" r="7.2"/><circle cx="537.9" cy="438.6" r="7.2"/><circle cx="616.5" cy="423.8" r="7.2"/>
<circle cx="609.0" cy="420.5" r="7.2"/><circle cx="601.2" cy="416.8" r="7.2"/><circle cx="594.1" cy="413.4" r="7.2"/><circle cx="587.1" cy="409.7" r="7.2"/><circle cx="579.3" cy="405.6" r="7.2"/><circle cx="571.5" cy="400.7" r="7.2"/>
<circle cx="565.0" cy="395.6" r="7.2"/><circle cx="557.9" cy="390.2" r="7.2"/><circle cx="551.6" cy="385.9" r="7.2"/><circle cx="499.9" cy="418.6" r="7.2"/><circle cx="512.5" cy="422.3" r="7.2"/><circle cx="523.7" cy="426.7" r="7.2"/>
<circle cx="535.4" cy="431.5" r="7.2"/><circle cx="547.7" cy="436.1" r="7.2"/><circle cx="559.5" cy="440.9" r="7.2"/><circle cx="571.3" cy="444.6" r="7.2"/><circle cx="481.5" cy="341.7" r="7.2"/><circle cx="408.9" cy="340.2" r="7.2"/>
<circle cx="415.2" cy="339.2" r="7.2"/><circle cx="421.1" cy="339.3" r="7.2"/><circle cx="426.3" cy="339.2" r="7.2"/><circle cx="744.7" cy="442.2" r="7.2"/><circle cx="754.0" cy="443.1" r="7.2"/><circle cx="762.6" cy="443.6" r="7.2"/>
<circle cx="772.1" cy="444.9" r="7.2"/><circle cx="513.5" cy="369.3" r="7.2"/><circle cx="517.1" cy="375.3" r="7.2"/><circle cx="519.6" cy="382.5" r="7.2"/><circle cx="522.7" cy="389.5" r="7.2"/><circle cx="525.4" cy="396.0" r="7.2"/>
<circle cx="489.5" cy="457.1" r="7.2"/><circle cx="481.2" cy="446.5" r="7.2"/><circle cx="473.6" cy="435.7" r="7.2"/><circle cx="420.1" cy="324.4" r="7.2"/><circle cx="424.7" cy="322.3" r="7.2"/><circle cx="429.6" cy="319.6" r="7.2"/>
<circle cx="434.1" cy="316.7" r="7.2"/><circle cx="438.0" cy="313.7" r="7.2"/><circle cx="442.2" cy="312.0" r="7.2"/><circle cx="554.9" cy="394.7" r="7.2"/><circle cx="561.6" cy="393.3" r="7.2"/><circle cx="568.7" cy="392.7" r="7.2"/>
<circle cx="575.0" cy="391.3" r="7.2"/><circle cx="581.7" cy="389.8" r="7.2"/><circle cx="588.0" cy="388.2" r="7.2"/><circle cx="594.3" cy="387.6" r="7.2"/><circle cx="600.8" cy="386.4" r="7.2"/><circle cx="457.9" cy="315.4" r="7.2"/>
<circle cx="767.5" cy="454.8" r="7.2"/><circle cx="770.7" cy="453.6" r="7.2"/><circle cx="773.5" cy="451.3" r="7.2"/><circle cx="777.4" cy="449.5" r="7.2"/><circle cx="780.1" cy="447.5" r="7.2"/><circle cx="784.2" cy="445.6" r="7.2"/>
<circle cx="788.2" cy="444.0" r="7.2"/><circle cx="791.4" cy="442.3" r="7.2"/><circle cx="794.7" cy="440.5" r="7.2"/><circle cx="798.7" cy="439.4" r="7.2"/><circle cx="802.5" cy="437.5" r="7.2"/><circle cx="805.7" cy="435.8" r="7.2"/>
<circle cx="812.3" cy="477.5" r="7.2"/><circle cx="804.3" cy="477.9" r="7.2"/><circle cx="369.2" cy="298.9" r="7.2"/><circle cx="361.7" cy="300.2" r="7.2"/><circle cx="353.2" cy="301.3" r="7.2"/><circle cx="345.6" cy="302.1" r="7.2"/>
<circle cx="337.1" cy="302.0" r="7.2"/><circle cx="328.7" cy="302.7" r="7.2"/><circle cx="731.5" cy="467.6" r="7.2"/><circle cx="737.4" cy="467.3" r="7.2"/><circle cx="742.7" cy="467.3" r="7.2"/><circle cx="748.5" cy="467.4" r="7.2"/>
<circle cx="754.7" cy="468.4" r="7.2"/><circle cx="305.3" cy="326.5" r="7.2"/><circle cx="729.1" cy="400.2" r="7.2"/><circle cx="734.1" cy="401.0" r="7.2"/><circle cx="740.1" cy="401.9" r="7.2"/><circle cx="725.0" cy="459.9" r="7.2"/>
<circle cx="729.7" cy="463.8" r="7.2"/><circle cx="482.5" cy="353.6" r="7.2"/><circle cx="477.5" cy="350.9" r="7.2"/><circle cx="471.9" cy="347.0" r="7.2"/><circle cx="466.9" cy="343.6" r="7.2"/><circle cx="462.2" cy="340.4" r="7.2"/>
<circle cx="457.8" cy="336.0" r="7.2"/><circle cx="453.6" cy="332.7" r="7.2"/><circle cx="449.0" cy="328.6" r="7.2"/><circle cx="444.1" cy="324.3" r="7.2"/><circle cx="439.7" cy="319.7" r="7.2"/><circle cx="436.1" cy="315.4" r="7.2"/>
<circle cx="431.6" cy="311.1" r="7.2"/><circle cx="427.5" cy="306.0" r="7.2"/><circle cx="341.6" cy="289.5" r="7.2"/><circle cx="404.8" cy="405.5" r="7.2"/><circle cx="397.3" cy="413.9" r="7.2"/><circle cx="485.1" cy="394.8" r="7.2"/>
<circle cx="489.2" cy="406.2" r="7.2"/><circle cx="492.1" cy="417.1" r="7.2"/><circle cx="407.3" cy="295.9" r="7.2"/><circle cx="413.1" cy="294.3" r="7.2"/><circle cx="417.8" cy="292.8" r="7.2"/><circle cx="423.2" cy="291.1" r="7.2"/>
<circle cx="428.7" cy="289.2" r="7.2"/><circle cx="582.6" cy="337.8" r="7.2"/><circle cx="590.7" cy="339.8" r="7.2"/><circle cx="598.7" cy="342.3" r="7.2"/><circle cx="606.3" cy="345.3" r="7.2"/><circle cx="613.7" cy="348.2" r="7.2"/>
<circle cx="620.8" cy="351.4" r="7.2"/><circle cx="628.5" cy="353.5" r="7.2"/><circle cx="636.2" cy="355.9" r="7.2"/><circle cx="501.6" cy="401.1" r="7.2"/><circle cx="716.1" cy="404.5" r="7.2"/><circle cx="713.1" cy="402.2" r="7.2"/>
<circle cx="709.5" cy="399.5" r="7.2"/><circle cx="706.1" cy="397.0" r="7.2"/><circle cx="703.5" cy="395.3" r="7.2"/><circle cx="700.6" cy="392.7" r="7.2"/><circle cx="697.0" cy="390.0" r="7.2"/><circle cx="693.3" cy="387.9" r="7.2"/>
<circle cx="689.6" cy="386.0" r="7.2"/><circle cx="686.4" cy="383.9" r="7.2"/><circle cx="645.1" cy="389.4" r="7.2"/><circle cx="651.8" cy="391.5" r="7.2"/><circle cx="658.6" cy="392.4" r="7.2"/><circle cx="665.7" cy="393.2" r="7.2"/>
<circle cx="672.5" cy="394.5" r="7.2"/><circle cx="679.6" cy="396.5" r="7.2"/><circle cx="686.4" cy="397.1" r="7.2"/><circle cx="693.1" cy="397.7" r="7.2"/><circle cx="699.5" cy="398.3" r="7.2"/><circle cx="705.8" cy="398.7" r="7.2"/>
<circle cx="712.3" cy="399.0" r="7.2"/><circle cx="718.5" cy="400.3" r="7.2"/><circle cx="724.8" cy="401.1" r="7.2"/><circle cx="731.9" cy="402.0" r="7.2"/><circle cx="738.9" cy="403.3" r="7.2"/><circle cx="745.1" cy="403.4" r="7.2"/>
<circle cx="742.1" cy="377.8" r="7.2"/><circle cx="414.9" cy="363.3" r="7.2"/><circle cx="421.1" cy="361.5" r="7.2"/><circle cx="520.1" cy="462.3" r="7.2"/><circle cx="401.3" cy="315.3" r="7.2"/><circle cx="765.8" cy="444.4" r="7.2"/>
<circle cx="759.9" cy="440.7" r="7.2"/><circle cx="755.2" cy="437.0" r="7.2"/><circle cx="750.1" cy="432.4" r="7.2"/><circle cx="505.7" cy="373.0" r="7.2"/><circle cx="512.7" cy="376.6" r="7.2"/><circle cx="673.8" cy="446.7" r="7.2"/>
<circle cx="676.8" cy="446.6" r="7.2"/><circle cx="680.2" cy="446.8" r="7.2"/><circle cx="682.8" cy="448.2" r="7.2"/><circle cx="686.4" cy="449.8" r="7.2"/><circle cx="689.4" cy="451.3" r="7.2"/><circle cx="693.0" cy="452.7" r="7.2"/>
<circle cx="695.4" cy="453.8" r="7.2"/><circle cx="698.3" cy="455.3" r="7.2"/><circle cx="701.3" cy="456.6" r="7.2"/><circle cx="703.7" cy="457.7" r="7.2"/><circle cx="706.3" cy="459.2" r="7.2"/><circle cx="708.6" cy="460.7" r="7.2"/>
<circle cx="711.6" cy="462.5" r="7.2"/><circle cx="714.1" cy="465.0" r="7.2"/><circle cx="687.6" cy="401.8" r="7.2"/><circle cx="690.9" cy="402.5" r="7.2"/><circle cx="693.9" cy="402.3" r="7.2"/><circle cx="696.4" cy="402.2" r="7.2"/>
<circle cx="699.5" cy="401.7" r="7.2"/><circle cx="702.3" cy="401.2" r="7.2"/><circle cx="705.3" cy="400.8" r="7.2"/><circle cx="708.8" cy="400.0" r="7.2"/><circle cx="711.6" cy="400.1" r="7.2"/><circle cx="715.1" cy="399.6" r="7.2"/>
<circle cx="675.8" cy="432.6" r="7.2"/><circle cx="333.3" cy="297.5" r="7.2"/><circle cx="339.1" cy="299.0" r="7.2"/><circle cx="344.9" cy="301.4" r="7.2"/><circle cx="350.1" cy="304.3" r="7.2"/><circle cx="392.3" cy="375.8" r="7.2"/>
<circle cx="402.9" cy="370.1" r="7.2"/><circle cx="610.7" cy="389.8" r="7.2"/><circle cx="605.7" cy="388.2" r="7.2"/><circle cx="600.3" cy="386.2" r="7.2"/><circle cx="595.2" cy="384.8" r="7.2"/><circle cx="589.1" cy="383.5" r="7.2"/>
<circle cx="584.1" cy="381.0" r="7.2"/><circle cx="697.8" cy="466.8" r="7.2"/><circle cx="602.6" cy="372.2" r="7.2"/><circle cx="608.7" cy="371.3" r="7.2"/><circle cx="400.8" cy="375.1" r="7.2"/><circle cx="388.1" cy="374.7" r="7.2"/>
<circle cx="376.2" cy="374.5" r="7.2"/><circle cx="428.2" cy="274.7" r="7.2"/><circle cx="419.1" cy="272.3" r="7.2"/><circle cx="580.9" cy="371.9" r="7.2"/><circle cx="585.9" cy="377.5" r="7.2"/><circle cx="590.2" cy="382.8" r="7.2"/>
<circle cx="595.7" cy="387.7" r="7.2"/><circle cx="830.2" cy="491.9" r="7.2"/><circle cx="823.0" cy="489.9" r="7.2"/><circle cx="815.4" cy="488.2" r="7.2"/><circle cx="808.5" cy="487.0" r="7.2"/><circle cx="671.8" cy="419.4" r="7.2"/>
<circle cx="666.3" cy="417.8" r="7.2"/><circle cx="635.6" cy="400.1" r="7.2"/><circle cx="628.4" cy="398.7" r="7.2"/><circle cx="620.8" cy="397.7" r="7.2"/><circle cx="612.5" cy="396.6" r="7.2"/><circle cx="605.0" cy="395.8" r="7.2"/>
<circle cx="418.3" cy="297.8" r="7.2"/><circle cx="426.9" cy="302.4" r="7.2"/><circle cx="664.6" cy="418.5" r="7.2"/><circle cx="661.4" cy="417.5" r="7.2"/><circle cx="658.4" cy="416.8" r="7.2"/><circle cx="655.0" cy="415.5" r="7.2"/>
<circle cx="650.8" cy="413.9" r="7.2"/><circle cx="646.6" cy="413.2" r="7.2"/><circle cx="643.2" cy="412.9" r="7.2"/><circle cx="639.4" cy="411.8" r="7.2"/><circle cx="636.3" cy="411.3" r="7.2"/><circle cx="633.3" cy="409.7" r="7.2"/>
<circle cx="630.3" cy="408.8" r="7.2"/><circle cx="627.0" cy="407.6" r="7.2"/><circle cx="685.1" cy="450.2" r="7.2"/><circle cx="638.7" cy="386.4" r="7.2"/><circle cx="645.4" cy="387.4" r="7.2"/><circle cx="652.6" cy="387.4" r="7.2"/>
<circle cx="659.3" cy="387.8" r="7.2"/><circle cx="665.8" cy="388.9" r="7.2"/><circle cx="672.1" cy="389.7" r="7.2"/><circle cx="566.9" cy="381.8" r="7.2"/><circle cx="569.7" cy="382.4" r="7.2"/><circle cx="573.4" cy="382.8" r="7.2"/>
<circle cx="576.6" cy="382.8" r="7.2"/><circle cx="808.2" cy="401.3" r="7.2"/><circle cx="734.8" cy="486.9" r="7.2"/><circle cx="725.6" cy="487.7" r="7.2"/><circle cx="717.2" cy="488.6" r="7.2"/><circle cx="801.4" cy="384.1" r="7.2"/>
<circle cx="792.4" cy="383.2" r="7.2"/><circle cx="782.8" cy="382.3" r="7.2"/><circle cx="344.1" cy="389.4" r="7.2"/><circle cx="337.4" cy="387.1" r="7.2"/><circle cx="331.1" cy="385.5" r="7.2"/><circle cx="324.6" cy="373.6" r="7.2"/>
<circle cx="321.3" cy="367.0" r="7.2"/><circle cx="359.8" cy="321.9" r="7.2"/><circle cx="355.8" cy="320.0" r="7.2"/><circle cx="352.3" cy="317.7" r="7.2"/><circle cx="348.8" cy="315.0" r="7.2"/><circle cx="345.9" cy="312.3" r="7.2"/>
<circle cx="342.0" cy="310.0" r="7.2"/><circle cx="338.9" cy="307.4" r="7.2"/><circle cx="335.5" cy="304.3" r="7.2"/><circle cx="332.5" cy="302.3" r="7.2"/><circle cx="328.6" cy="299.1" r="7.2"/><circle cx="767.5" cy="457.3" r="7.2"/>
<circle cx="761.1" cy="456.1" r="7.2"/><circle cx="755.3" cy="455.6" r="7.2"/><circle cx="748.2" cy="454.0" r="7.2"/><circle cx="741.6" cy="452.4" r="7.2"/><circle cx="735.6" cy="451.7" r="7.2"/><circle cx="729.4" cy="450.3" r="7.2"/>
<circle cx="723.4" cy="448.2" r="7.2"/><circle cx="716.9" cy="446.7" r="7.2"/><circle cx="710.5" cy="444.5" r="7.2"/><circle cx="704.2" cy="443.3" r="7.2"/><circle cx="697.7" cy="441.7" r="7.2"/><circle cx="561.9" cy="451.8" r="7.2"/>
<circle cx="558.5" cy="443.6" r="7.2"/><circle cx="482.1" cy="452.3" r="7.2"/><circle cx="484.7" cy="461.7" r="7.2"/><circle cx="487.1" cy="470.8" r="7.2"/><circle cx="442.1" cy="340.7" r="7.2"/><circle cx="437.7" cy="338.4" r="7.2"/>
<circle cx="434.6" cy="336.3" r="7.2"/><circle cx="431.4" cy="334.9" r="7.2"/><circle cx="428.4" cy="332.1" r="7.2"/><circle cx="424.4" cy="329.3" r="7.2"/><circle cx="421.3" cy="326.6" r="7.2"/><circle cx="418.6" cy="324.1" r="7.2"/>
<circle cx="789.2" cy="426.0" r="7.2"/><circle cx="795.3" cy="429.5" r="7.2"/><circle cx="802.1" cy="431.8" r="7.2"/><circle cx="808.4" cy="434.0" r="7.2"/><circle cx="815.2" cy="437.0" r="7.2"/><circle cx="821.0" cy="439.9" r="7.2"/>
<circle cx="436.5" cy="400.6" r="7.2"/><circle cx="380.9" cy="313.2" r="7.2"/><circle cx="374.5" cy="310.8" r="7.2"/><circle cx="368.6" cy="309.0" r="7.2"/><circle cx="362.8" cy="307.4" r="7.2"/><circle cx="356.8" cy="305.7" r="7.2"/>
<circle cx="351.0" cy="302.7" r="7.2"/><circle cx="344.5" cy="300.1" r="7.2"/><circle cx="338.4" cy="296.8" r="7.2"/><circle cx="331.9" cy="294.3" r="7.2"/><circle cx="395.2" cy="338.4" r="7.2"/><circle cx="388.2" cy="333.7" r="7.2"/>
<circle cx="382.3" cy="328.9" r="7.2"/><circle cx="375.3" cy="323.5" r="7.2"/><circle cx="746.5" cy="428.9" r="7.2"/><circle cx="405.3" cy="388.7" r="7.2"/><circle cx="503.9" cy="453.5" r="7.2"/><circle cx="509.9" cy="448.2" r="7.2"/>
<circle cx="516.3" cy="443.4" r="7.2"/><circle cx="522.9" cy="438.1" r="7.2"/><circle cx="420.4" cy="420.8" r="7.2"/><circle cx="414.6" cy="414.5" r="7.2"/><circle cx="601.0" cy="421.4" r="7.2"/><circle cx="608.5" cy="421.0" r="7.2"/>
<circle cx="616.0" cy="420.3" r="7.2"/><circle cx="624.0" cy="419.6" r="7.2"/><circle cx="632.3" cy="419.1" r="7.2"/><circle cx="639.5" cy="419.9" r="7.2"/><circle cx="436.3" cy="457.0" r="7.2"/><circle cx="446.0" cy="451.1" r="7.2"/>
<circle cx="456.1" cy="445.3" r="7.2"/><circle cx="571.1" cy="390.0" r="7.2"/><circle cx="578.9" cy="390.5" r="7.2"/><circle cx="586.7" cy="389.8" r="7.2"/><circle cx="594.6" cy="389.6" r="7.2"/><circle cx="602.7" cy="388.5" r="7.2"/>
<circle cx="649.4" cy="382.9" r="7.2"/><circle cx="645.2" cy="383.1" r="7.2"/><circle cx="641.4" cy="383.6" r="7.2"/><circle cx="637.0" cy="384.5" r="7.2"/><circle cx="633.3" cy="384.6" r="7.2"/><circle cx="589.8" cy="352.1" r="7.2"/>
<circle cx="596.1" cy="352.2" r="7.2"/><circle cx="360.2" cy="334.3" r="7.2"/><circle cx="364.6" cy="334.6" r="7.2"/><circle cx="369.7" cy="335.1" r="7.2"/><circle cx="374.2" cy="335.4" r="7.2"/><circle cx="378.3" cy="336.1" r="7.2"/>
<circle cx="382.5" cy="337.1" r="7.2"/><circle cx="387.0" cy="338.3" r="7.2"/><circle cx="391.3" cy="339.7" r="7.2"/><circle cx="629.0" cy="371.4" r="7.2"/><circle cx="387.3" cy="249.3" r="7.2"/><circle cx="383.2" cy="245.9" r="7.2"/>
<circle cx="378.9" cy="242.1" r="7.2"/><circle cx="374.5" cy="238.2" r="7.2"/><circle cx="525.0" cy="375.3" r="7.2"/><circle cx="520.8" cy="373.8" r="7.2"/><circle cx="517.3" cy="372.3" r="7.2"/><circle cx="513.8" cy="371.3" r="7.2"/>
<circle cx="510.6" cy="369.5" r="7.2"/><circle cx="506.0" cy="368.6" r="7.2"/><circle cx="592.3" cy="390.8" r="7.2"/><circle cx="596.8" cy="393.1" r="7.2"/><circle cx="601.6" cy="396.0" r="7.2"/><circle cx="606.5" cy="398.1" r="7.2"/>
<circle cx="611.9" cy="400.1" r="7.2"/><circle cx="616.6" cy="401.5" r="7.2"/><circle cx="621.9" cy="403.7" r="7.2"/><circle cx="626.5" cy="405.9" r="7.2"/><circle cx="692.9" cy="417.3" r="7.2"/><circle cx="684.6" cy="418.3" r="7.2"/>
<circle cx="677.4" cy="418.5" r="7.2"/><circle cx="669.6" cy="418.4" r="7.2"/><circle cx="661.5" cy="419.0" r="7.2"/><circle cx="653.6" cy="419.1" r="7.2"/><circle cx="646.4" cy="418.2" r="7.2"/><circle cx="639.2" cy="417.3" r="7.2"/>
<circle cx="631.3" cy="416.7" r="7.2"/><circle cx="624.0" cy="416.7" r="7.2"/><circle cx="616.5" cy="415.7" r="7.2"/><circle cx="609.0" cy="414.9" r="7.2"/><circle cx="737.2" cy="409.1" r="7.2"/><circle cx="669.7" cy="427.8" r="7.2"/>
<circle cx="666.1" cy="426.4" r="7.2"/><circle cx="662.3" cy="424.7" r="7.2"/><circle cx="658.4" cy="422.4" r="7.2"/><circle cx="654.8" cy="419.8" r="7.2"/><circle cx="651.3" cy="417.3" r="7.2"/><circle cx="648.2" cy="415.2" r="7.2"/>
<circle cx="646.0" cy="413.1" r="7.2"/><circle cx="643.8" cy="410.6" r="7.2"/><circle cx="641.6" cy="408.0" r="7.2"/><circle cx="357.4" cy="296.2" r="7.2"/><circle cx="364.8" cy="296.0" r="7.2"/><circle cx="372.2" cy="296.8" r="7.2"/>
<circle cx="379.4" cy="297.2" r="7.2"/><circle cx="386.4" cy="299.0" r="7.2"/><circle cx="392.8" cy="300.9" r="7.2"/><circle cx="400.1" cy="302.8" r="7.2"/><circle cx="407.2" cy="304.2" r="7.2"/><circle cx="413.8" cy="305.9" r="7.2"/>
<circle cx="420.2" cy="307.9" r="7.2"/><circle cx="426.4" cy="311.3" r="7.2"/><circle cx="432.5" cy="315.0" r="7.2"/><circle cx="438.0" cy="317.9" r="7.2"/><circle cx="444.5" cy="321.4" r="7.2"/><circle cx="449.9" cy="325.8" r="7.2"/>
<circle cx="763.0" cy="419.4" r="7.2"/><circle cx="766.4" cy="420.4" r="7.2"/><circle cx="768.9" cy="421.7" r="7.2"/><circle cx="772.2" cy="423.1" r="7.2"/><circle cx="774.3" cy="424.6" r="7.2"/><circle cx="777.6" cy="425.7" r="7.2"/>
<circle cx="780.4" cy="427.1" r="7.2"/><circle cx="783.1" cy="429.3" r="7.2"/>
</g>
<g class="ln">
<path d="M373.10 764.16H1052.90"/>
<path d="M373.10 764.16v19.2"/>
<path d="M599.70 764.16v19.2"/>
<path d="M826.30 764.16v19.2"/>
<path d="M1052.90 764.16v19.2"/>
<path d="M157.44 682.10V159.02"/>
<path d="M157.44 682.10h-19.2"/>
<path d="M157.44 594.92h-19.2"/>
<path d="M157.44 507.74h-19.2"/>
<path d="M157.44 420.56h-19.2"/>
<path d="M157.44 333.38h-19.2"/>
<path d="M157.44 246.20h-19.2"/>
<path d="M157.44 159.02h-19.2"/>
<path d="M157.44 764.16H1263.36V157.44H157.44Z"/>
</g>
<g opacity="0.999">
<text class="ax" x="373.10" y="833.8" text-anchor="middle">50</text>
<text class="ax" x="599.70" y="833.8" text-anchor="middle">100</text>
<text class="ax" x="826.30" y="833.8" text-anchor="middle">150</text>
<text class="ax" x="1052.90" y="833.8" text-anchor="middle">200</text>
<text class="ax" transform="translate(111.3 683.10) rotate(-90)" text-anchor="middle">20</text>
<text class="ax" transform="translate(111.3 595.92) rotate(-90)" text-anchor="middle">30</text>
<text class="ax" transform="translate(111.3 508.74) rotate(-90)" text-anchor="middle">40</text>
<text class="ax" transform="translate(111.3 421.56) rotate(-90)" text-anchor="middle">50</text>
<text class="ax" transform="translate(111.3 334.38) rotate(-90)" text-anchor="middle">60</text>
<text class="ax" transform="translate(111.3 247.20) rotate(-90)" text-anchor="middle">70</text>
<text class="ax" transform="translate(111.3 160.02) rotate(-90)" text-anchor="middle">80</text>
<text class="ax" x="710.4" y="910.7" text-anchor="middle">Infant deaths per 1000</text>
<text class="ax" transform="translate(34.5 460.8) rotate(-90)" text-anchor="middle">Life expectancy (yrs)</text>
<text class="ti" x="710.4" y="92.8" text-anchor="middle">Life expectancy as a function of infant mortality</text>
</g>
</svg>
</body></html>
